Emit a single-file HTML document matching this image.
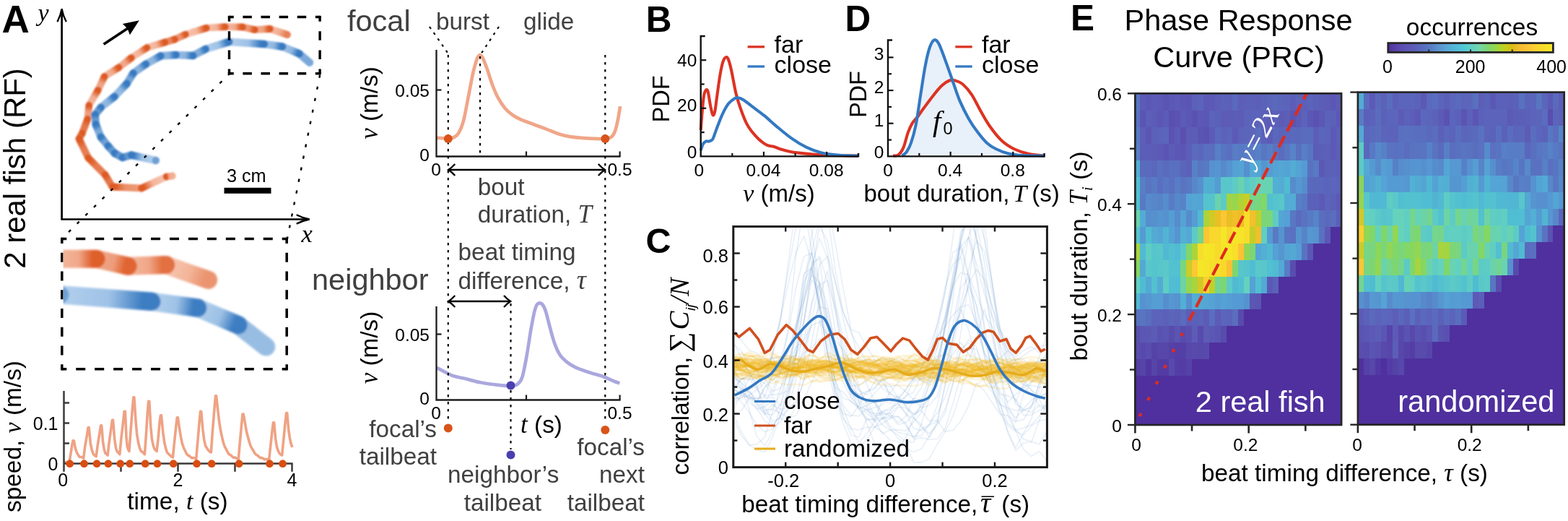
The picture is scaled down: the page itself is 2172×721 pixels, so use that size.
<!DOCTYPE html>
<html lang="en"><head><meta charset="utf-8"><title>Figure</title>
<style>
html,body{margin:0;padding:0;background:#fff;}
body{width:2172px;height:721px;overflow:hidden;}
svg{display:block;font-family:"Liberation Sans",sans-serif;}
</style></head><body>
<svg width="2172" height="721" viewBox="0 0 2172 721">
<defs>
<filter id="bl1" x="-5%" y="-5%" width="110%" height="110%"><feGaussianBlur stdDeviation="0.9"/></filter>
<filter id="bl2" x="-10%" y="-30%" width="120%" height="160%"><feGaussianBlur stdDeviation="1.6"/></filter>
</defs>
<rect width="2172" height="721" fill="#fff"/>
<g id="panelA">
<text x="2.5" y="45" font-size="53" font-weight="bold">A</text>
<text x="52.5" y="29" font-size="34" font-family='"Liberation Serif", serif' font-style="italic">y</text>
<text x="417.5" y="334.5" font-size="34.5" font-family='"Liberation Serif", serif' font-style="italic">x</text>
<text x="35" y="233" font-size="42" text-anchor="middle" transform="rotate(-90 35 233)">2 real fish (RF)</text>
<path d="M85.6,14 V303.5 H427" stroke="#000" stroke-width="2.7" fill="none"/>
<path d="M79.4,30.3 Q83.8,22 85.6,12.3 Q87.4,22 91.8,30.3" stroke="#000" stroke-width="2.3" fill="none" stroke-linejoin="miter"/>
<path d="M410.7,297.3 Q419,301.7 428.7,303.5 Q419,305.3 410.7,309.7" stroke="#000" stroke-width="2.3" fill="none" stroke-linejoin="miter"/>
<line x1="143.6" y1="61.2" x2="178" y2="38.5" stroke="#000" stroke-width="3.7"/>
<polygon points="192.8,28.3 169.9,33 176.5,39.6 179.9,48.3"/>
<rect x="310.5" y="259.8" width="65" height="8" fill="#000"/>
<text x="341.3" y="252" font-size="25.3" text-anchor="middle">3 cm</text>
<g filter="url(#bl1)">
<circle cx="238.5" cy="243.5" r="4.9" fill="#efa485"/>
<linearGradient id="g23" gradientUnits="userSpaceOnUse" x1="374" y1="40" x2="398" y2="48"><stop offset="0.1" stop-color="#f5bda5"/><stop offset="0.55" stop-color="#f2ae92"/><stop offset="0.9" stop-color="#e67f54"/><stop offset="1" stop-color="#e67f54"/></linearGradient><line x1="374" y1="40" x2="398" y2="48.01" stroke="url(#g23)" stroke-width="9.8" stroke-linecap="round"/><linearGradient id="g22" gradientUnits="userSpaceOnUse" x1="353" y1="41.2" x2="374" y2="40"><stop offset="0.1" stop-color="#f1ad90"/><stop offset="0.55" stop-color="#eea07f"/><stop offset="0.9" stop-color="#dd5a24"/><stop offset="1" stop-color="#dd5a24"/></linearGradient><line x1="353" y1="41.2" x2="374" y2="40.01" stroke="url(#g22)" stroke-width="9.8" stroke-linecap="round"/><linearGradient id="g21" gradientUnits="userSpaceOnUse" x1="336" y1="37.4" x2="353" y2="41.2"><stop offset="0.1" stop-color="#ee9e7d"/><stop offset="0.55" stop-color="#eb9470"/><stop offset="0.9" stop-color="#dd5a24"/><stop offset="1" stop-color="#dd5a24"/></linearGradient><line x1="336" y1="37.4" x2="353" y2="41.21" stroke="url(#g21)" stroke-width="9.8" stroke-linecap="round"/><linearGradient id="g20" gradientUnits="userSpaceOnUse" x1="312" y1="37.2" x2="336" y2="37.4"><stop offset="0.1" stop-color="#f4b89f"/><stop offset="0.55" stop-color="#f1aa8c"/><stop offset="0.9" stop-color="#dd5a24"/><stop offset="1" stop-color="#dd5a24"/></linearGradient><line x1="312" y1="37.2" x2="336" y2="37.41" stroke="url(#g20)" stroke-width="9.8" stroke-linecap="round"/><linearGradient id="g19" gradientUnits="userSpaceOnUse" x1="286" y1="38.7" x2="312" y2="37.2"><stop offset="0.1" stop-color="#f6c0a9"/><stop offset="0.55" stop-color="#f2b195"/><stop offset="0.9" stop-color="#dd5a24"/><stop offset="1" stop-color="#dd5a24"/></linearGradient><line x1="286" y1="38.7" x2="312" y2="37.21" stroke="url(#g19)" stroke-width="9.8" stroke-linecap="round"/><linearGradient id="g18" gradientUnits="userSpaceOnUse" x1="257" y1="47.6" x2="286" y2="38.7"><stop offset="0.1" stop-color="#f7c4ae"/><stop offset="0.55" stop-color="#f3b499"/><stop offset="0.9" stop-color="#dd5a24"/><stop offset="1" stop-color="#dd5a24"/></linearGradient><line x1="257" y1="47.6" x2="286" y2="38.71" stroke="url(#g18)" stroke-width="9.8" stroke-linecap="round"/><linearGradient id="g17" gradientUnits="userSpaceOnUse" x1="242" y1="54.5" x2="257" y2="47.6"><stop offset="0.1" stop-color="#ed9b78"/><stop offset="0.55" stop-color="#eb916c"/><stop offset="0.9" stop-color="#dd5a24"/><stop offset="1" stop-color="#dd5a24"/></linearGradient><line x1="242" y1="54.5" x2="257" y2="47.61" stroke="url(#g17)" stroke-width="9.8" stroke-linecap="round"/><linearGradient id="g16" gradientUnits="userSpaceOnUse" x1="228.6" y1="58.5" x2="242" y2="54.5"><stop offset="0.1" stop-color="#ea916b"/><stop offset="0.55" stop-color="#e88961"/><stop offset="0.9" stop-color="#dd5a24"/><stop offset="1" stop-color="#dd5a24"/></linearGradient><line x1="228.6" y1="58.5" x2="242" y2="54.51" stroke="url(#g16)" stroke-width="9.8" stroke-linecap="round"/><linearGradient id="g15" gradientUnits="userSpaceOnUse" x1="203.6" y1="66" x2="228.6" y2="58.5"><stop offset="0.1" stop-color="#f6c0a9"/><stop offset="0.55" stop-color="#f2b195"/><stop offset="0.9" stop-color="#dd5a24"/><stop offset="1" stop-color="#dd5a24"/></linearGradient><line x1="203.6" y1="66" x2="228.6" y2="58.51" stroke="url(#g15)" stroke-width="9.8" stroke-linecap="round"/><linearGradient id="g14" gradientUnits="userSpaceOnUse" x1="182" y1="80" x2="203.6" y2="66"><stop offset="0.1" stop-color="#f6bfa8"/><stop offset="0.55" stop-color="#f2b094"/><stop offset="0.9" stop-color="#dd5a24"/><stop offset="1" stop-color="#dd5a24"/></linearGradient><line x1="182" y1="80" x2="203.6" y2="66.01" stroke="url(#g14)" stroke-width="9.8" stroke-linecap="round"/><linearGradient id="g13" gradientUnits="userSpaceOnUse" x1="164.7" y1="93.3" x2="182" y2="80"><stop offset="0.1" stop-color="#f2b094"/><stop offset="0.55" stop-color="#efa383"/><stop offset="0.9" stop-color="#dd5a24"/><stop offset="1" stop-color="#dd5a24"/></linearGradient><line x1="164.7" y1="93.3" x2="182" y2="80.01" stroke="url(#g13)" stroke-width="9.8" stroke-linecap="round"/><linearGradient id="g12" gradientUnits="userSpaceOnUse" x1="144.7" y1="105.8" x2="164.7" y2="93.3"><stop offset="0.1" stop-color="#f4b79d"/><stop offset="0.55" stop-color="#f0a98a"/><stop offset="0.9" stop-color="#dd5a24"/><stop offset="1" stop-color="#dd5a24"/></linearGradient><line x1="144.7" y1="105.8" x2="164.7" y2="93.31" stroke="url(#g12)" stroke-width="9.8" stroke-linecap="round"/><linearGradient id="g11" gradientUnits="userSpaceOnUse" x1="135.7" y1="124.8" x2="144.7" y2="105.8"><stop offset="0.1" stop-color="#f1ad8f"/><stop offset="0.55" stop-color="#eea07f"/><stop offset="0.9" stop-color="#dd5a24"/><stop offset="1" stop-color="#dd5a24"/></linearGradient><line x1="135.7" y1="124.8" x2="144.7" y2="105.81" stroke="url(#g11)" stroke-width="9.8" stroke-linecap="round"/><linearGradient id="g10" gradientUnits="userSpaceOnUse" x1="123.3" y1="145.7" x2="135.7" y2="124.8"><stop offset="0.1" stop-color="#f4b9a0"/><stop offset="0.55" stop-color="#f1ab8e"/><stop offset="0.9" stop-color="#dd5a24"/><stop offset="1" stop-color="#dd5a24"/></linearGradient><line x1="123.3" y1="145.7" x2="135.7" y2="124.81" stroke="url(#g10)" stroke-width="9.8" stroke-linecap="round"/><linearGradient id="g9" gradientUnits="userSpaceOnUse" x1="121.3" y1="164.7" x2="123.3" y2="145.7"><stop offset="0.1" stop-color="#efa586"/><stop offset="0.55" stop-color="#ed9a77"/><stop offset="0.9" stop-color="#dd5a24"/><stop offset="1" stop-color="#dd5a24"/></linearGradient><line x1="121.3" y1="164.7" x2="123.3" y2="145.70999999999998" stroke="url(#g9)" stroke-width="9.8" stroke-linecap="round"/><linearGradient id="g8" gradientUnits="userSpaceOnUse" x1="113.8" y1="184.6" x2="121.3" y2="164.7"><stop offset="0.1" stop-color="#e57a4d"/><stop offset="0.55" stop-color="#e47547"/><stop offset="0.9" stop-color="#dd5a24"/><stop offset="1" stop-color="#dd5a24"/></linearGradient><line x1="113.8" y1="184.6" x2="121.3" y2="164.70999999999998" stroke="url(#g8)" stroke-width="9.8" stroke-linecap="round"/><linearGradient id="g7" gradientUnits="userSpaceOnUse" x1="109.5" y1="192" x2="113.8" y2="184.6"><stop offset="0.1" stop-color="#e26f40"/><stop offset="0.55" stop-color="#e16c3b"/><stop offset="0.9" stop-color="#dd5a24"/><stop offset="1" stop-color="#dd5a24"/></linearGradient><line x1="109.5" y1="192" x2="113.8" y2="184.60999999999999" stroke="url(#g7)" stroke-width="9.8" stroke-linecap="round"/><linearGradient id="g6" gradientUnits="userSpaceOnUse" x1="122.3" y1="218.6" x2="109.5" y2="192"><stop offset="0.1" stop-color="#e67f54"/><stop offset="0.55" stop-color="#e57a4d"/><stop offset="0.9" stop-color="#dd5a24"/><stop offset="1" stop-color="#dd5a24"/></linearGradient><line x1="122.3" y1="218.6" x2="109.5" y2="192.01" stroke="url(#g6)" stroke-width="9.8" stroke-linecap="round"/><linearGradient id="g5" gradientUnits="userSpaceOnUse" x1="145.7" y1="242" x2="122.3" y2="218.6"><stop offset="0.1" stop-color="#e67f54"/><stop offset="0.55" stop-color="#e57a4d"/><stop offset="0.9" stop-color="#dd5a24"/><stop offset="1" stop-color="#dd5a24"/></linearGradient><line x1="145.7" y1="242" x2="122.3" y2="218.60999999999999" stroke="url(#g5)" stroke-width="9.8" stroke-linecap="round"/><linearGradient id="g4" gradientUnits="userSpaceOnUse" x1="155.7" y1="258.5" x2="145.7" y2="242"><stop offset="0.1" stop-color="#e57a4d"/><stop offset="0.55" stop-color="#e47547"/><stop offset="0.9" stop-color="#dd5a24"/><stop offset="1" stop-color="#dd5a24"/></linearGradient><line x1="155.7" y1="258.5" x2="145.7" y2="242.01" stroke="url(#g4)" stroke-width="9.8" stroke-linecap="round"/><linearGradient id="g3" gradientUnits="userSpaceOnUse" x1="196" y1="260.5" x2="155.7" y2="258.5"><stop offset="0.1" stop-color="#ed9a77"/><stop offset="0.55" stop-color="#ea906a"/><stop offset="0.9" stop-color="#dd5a24"/><stop offset="1" stop-color="#dd5a24"/></linearGradient><line x1="196" y1="260.5" x2="155.7" y2="258.51" stroke="url(#g3)" stroke-width="9.8" stroke-linecap="round"/><linearGradient id="g2" gradientUnits="userSpaceOnUse" x1="230.5" y1="244.5" x2="196" y2="260.5"><stop offset="0.1" stop-color="#f7c4ae"/><stop offset="0.55" stop-color="#f3b499"/><stop offset="0.9" stop-color="#dd5a24"/><stop offset="1" stop-color="#dd5a24"/></linearGradient><line x1="230.5" y1="244.5" x2="196" y2="260.51" stroke="url(#g2)" stroke-width="9.8" stroke-linecap="round"/><linearGradient id="g1" gradientUnits="userSpaceOnUse" x1="238.5" y1="243.5" x2="230.5" y2="244.5"><stop offset="0.1" stop-color="#f2af92"/><stop offset="0.55" stop-color="#efa282"/><stop offset="0.9" stop-color="#dd5a24"/><stop offset="1" stop-color="#dd5a24"/></linearGradient><line x1="238.5" y1="243.5" x2="230.5" y2="244.51" stroke="url(#g1)" stroke-width="9.8" stroke-linecap="round"/>
<linearGradient id="g44" gradientUnits="userSpaceOnUse" x1="414.6" y1="74.4" x2="429" y2="86.6"><stop offset="0.1" stop-color="#83afdc"/><stop offset="0.55" stop-color="#7aa8d9"/><stop offset="0.9" stop-color="#7aa8d9"/><stop offset="1" stop-color="#7aa8d9"/></linearGradient><line x1="414.6" y1="74.4" x2="429" y2="86.61" stroke="url(#g44)" stroke-width="10.6" stroke-linecap="round"/><linearGradient id="g43" gradientUnits="userSpaceOnUse" x1="391" y1="64.4" x2="414.6" y2="74.4"><stop offset="0.1" stop-color="#9fc2e6"/><stop offset="0.55" stop-color="#8fb7e0"/><stop offset="0.9" stop-color="#387ac1"/><stop offset="1" stop-color="#387ac1"/></linearGradient><line x1="391" y1="64.4" x2="414.6" y2="74.41000000000001" stroke="url(#g43)" stroke-width="10.6" stroke-linecap="round"/><linearGradient id="g42" gradientUnits="userSpaceOnUse" x1="366" y1="61" x2="391" y2="64.4"><stop offset="0.1" stop-color="#9dc1e5"/><stop offset="0.55" stop-color="#8eb6e0"/><stop offset="0.9" stop-color="#387ac1"/><stop offset="1" stop-color="#387ac1"/></linearGradient><line x1="366" y1="61" x2="391" y2="64.41000000000001" stroke="url(#g42)" stroke-width="10.6" stroke-linecap="round"/><linearGradient id="g41" gradientUnits="userSpaceOnUse" x1="317.3" y1="57.9" x2="366" y2="61"><stop offset="0.1" stop-color="#b0ceec"/><stop offset="0.55" stop-color="#9ec1e6"/><stop offset="0.9" stop-color="#387ac1"/><stop offset="1" stop-color="#387ac1"/></linearGradient><line x1="317.3" y1="57.9" x2="366" y2="61.01" stroke="url(#g41)" stroke-width="10.6" stroke-linecap="round"/><linearGradient id="g40" gradientUnits="userSpaceOnUse" x1="284.9" y1="67.9" x2="317.3" y2="57.9"><stop offset="0.1" stop-color="#b0ceec"/><stop offset="0.55" stop-color="#9ec1e6"/><stop offset="0.9" stop-color="#387ac1"/><stop offset="1" stop-color="#387ac1"/></linearGradient><line x1="284.9" y1="67.9" x2="317.3" y2="57.91" stroke="url(#g40)" stroke-width="10.6" stroke-linecap="round"/><linearGradient id="g39" gradientUnits="userSpaceOnUse" x1="267.4" y1="77" x2="284.9" y2="67.9"><stop offset="0.1" stop-color="#87b1dd"/><stop offset="0.55" stop-color="#7ba9d9"/><stop offset="0.9" stop-color="#387ac1"/><stop offset="1" stop-color="#387ac1"/></linearGradient><line x1="267.4" y1="77" x2="284.9" y2="67.91000000000001" stroke="url(#g39)" stroke-width="10.6" stroke-linecap="round"/><linearGradient id="g38" gradientUnits="userSpaceOnUse" x1="243.7" y1="76" x2="267.4" y2="77"><stop offset="0.1" stop-color="#97bce3"/><stop offset="0.55" stop-color="#89b2de"/><stop offset="0.9" stop-color="#387ac1"/><stop offset="1" stop-color="#387ac1"/></linearGradient><line x1="243.7" y1="76" x2="267.4" y2="77.01" stroke="url(#g38)" stroke-width="10.6" stroke-linecap="round"/><linearGradient id="g37" gradientUnits="userSpaceOnUse" x1="222.5" y1="77.4" x2="243.7" y2="76"><stop offset="0.1" stop-color="#8db5df"/><stop offset="0.55" stop-color="#80addb"/><stop offset="0.9" stop-color="#387ac1"/><stop offset="1" stop-color="#387ac1"/></linearGradient><line x1="222.5" y1="77.4" x2="243.7" y2="76.01" stroke="url(#g37)" stroke-width="10.6" stroke-linecap="round"/><linearGradient id="g36" gradientUnits="userSpaceOnUse" x1="202" y1="88.8" x2="222.5" y2="77.4"><stop offset="0.1" stop-color="#96bce3"/><stop offset="0.55" stop-color="#88b2de"/><stop offset="0.9" stop-color="#387ac1"/><stop offset="1" stop-color="#387ac1"/></linearGradient><line x1="202" y1="88.8" x2="222.5" y2="77.41000000000001" stroke="url(#g36)" stroke-width="10.6" stroke-linecap="round"/><linearGradient id="g35" gradientUnits="userSpaceOnUse" x1="184.6" y1="101.3" x2="202" y2="88.8"><stop offset="0.1" stop-color="#8eb6e0"/><stop offset="0.55" stop-color="#81addb"/><stop offset="0.9" stop-color="#387ac1"/><stop offset="1" stop-color="#387ac1"/></linearGradient><line x1="184.6" y1="101.3" x2="202" y2="88.81" stroke="url(#g35)" stroke-width="10.6" stroke-linecap="round"/><linearGradient id="g34" gradientUnits="userSpaceOnUse" x1="175.6" y1="115.8" x2="184.6" y2="101.3"><stop offset="0.1" stop-color="#7caad9"/><stop offset="0.55" stop-color="#72a3d6"/><stop offset="0.9" stop-color="#387ac1"/><stop offset="1" stop-color="#387ac1"/></linearGradient><line x1="175.6" y1="115.8" x2="184.6" y2="101.31" stroke="url(#g34)" stroke-width="10.6" stroke-linecap="round"/><linearGradient id="g33" gradientUnits="userSpaceOnUse" x1="158.7" y1="133.7" x2="175.6" y2="115.8"><stop offset="0.1" stop-color="#9abfe4"/><stop offset="0.55" stop-color="#8cb5df"/><stop offset="0.9" stop-color="#387ac1"/><stop offset="1" stop-color="#387ac1"/></linearGradient><line x1="158.7" y1="133.7" x2="175.6" y2="115.81" stroke="url(#g33)" stroke-width="10.6" stroke-linecap="round"/><linearGradient id="g32" gradientUnits="userSpaceOnUse" x1="139.7" y1="148.7" x2="158.7" y2="133.7"><stop offset="0.1" stop-color="#99bee4"/><stop offset="0.55" stop-color="#8ab4de"/><stop offset="0.9" stop-color="#387ac1"/><stop offset="1" stop-color="#387ac1"/></linearGradient><line x1="139.7" y1="148.7" x2="158.7" y2="133.70999999999998" stroke="url(#g32)" stroke-width="10.6" stroke-linecap="round"/><linearGradient id="g31" gradientUnits="userSpaceOnUse" x1="131.7" y1="158.7" x2="139.7" y2="148.7"><stop offset="0.1" stop-color="#6b9ed3"/><stop offset="0.55" stop-color="#6498d1"/><stop offset="0.9" stop-color="#387ac1"/><stop offset="1" stop-color="#387ac1"/></linearGradient><line x1="131.7" y1="158.7" x2="139.7" y2="148.70999999999998" stroke="url(#g31)" stroke-width="10.6" stroke-linecap="round"/><linearGradient id="g30" gradientUnits="userSpaceOnUse" x1="132.7" y1="172" x2="131.7" y2="158.7"><stop offset="0.1" stop-color="#6d9fd4"/><stop offset="0.55" stop-color="#659ad1"/><stop offset="0.9" stop-color="#387ac1"/><stop offset="1" stop-color="#387ac1"/></linearGradient><line x1="132.7" y1="172" x2="131.7" y2="158.70999999999998" stroke="url(#g30)" stroke-width="10.6" stroke-linecap="round"/><linearGradient id="g29" gradientUnits="userSpaceOnUse" x1="139.7" y1="189.6" x2="132.7" y2="172"><stop offset="0.1" stop-color="#84afdc"/><stop offset="0.55" stop-color="#78a7d8"/><stop offset="0.9" stop-color="#387ac1"/><stop offset="1" stop-color="#387ac1"/></linearGradient><line x1="139.7" y1="189.6" x2="132.7" y2="172.01" stroke="url(#g29)" stroke-width="10.6" stroke-linecap="round"/><linearGradient id="g28" gradientUnits="userSpaceOnUse" x1="149.7" y1="202" x2="139.7" y2="189.6"><stop offset="0.1" stop-color="#78a7d8"/><stop offset="0.55" stop-color="#6ea0d4"/><stop offset="0.9" stop-color="#387ac1"/><stop offset="1" stop-color="#387ac1"/></linearGradient><line x1="149.7" y1="202" x2="139.7" y2="189.60999999999999" stroke="url(#g28)" stroke-width="10.6" stroke-linecap="round"/><linearGradient id="g27" gradientUnits="userSpaceOnUse" x1="158.7" y1="212" x2="149.7" y2="202"><stop offset="0.1" stop-color="#6ea0d4"/><stop offset="0.55" stop-color="#669ad1"/><stop offset="0.9" stop-color="#387ac1"/><stop offset="1" stop-color="#387ac1"/></linearGradient><line x1="158.7" y1="212" x2="149.7" y2="202.01" stroke="url(#g27)" stroke-width="10.6" stroke-linecap="round"/><linearGradient id="g26" gradientUnits="userSpaceOnUse" x1="169.7" y1="218" x2="158.7" y2="212"><stop offset="0.1" stop-color="#6a9dd3"/><stop offset="0.55" stop-color="#6398d0"/><stop offset="0.9" stop-color="#387ac1"/><stop offset="1" stop-color="#387ac1"/></linearGradient><line x1="169.7" y1="218" x2="158.7" y2="212.01" stroke="url(#g26)" stroke-width="10.6" stroke-linecap="round"/><linearGradient id="g25" gradientUnits="userSpaceOnUse" x1="182" y1="214.6" x2="169.7" y2="218"><stop offset="0.1" stop-color="#6b9ed3"/><stop offset="0.55" stop-color="#6398d1"/><stop offset="0.9" stop-color="#387ac1"/><stop offset="1" stop-color="#387ac1"/></linearGradient><line x1="182" y1="214.6" x2="169.7" y2="218.01" stroke="url(#g25)" stroke-width="10.6" stroke-linecap="round"/><linearGradient id="g24" gradientUnits="userSpaceOnUse" x1="215.6" y1="222" x2="182" y2="214.6"><stop offset="0.1" stop-color="#b0ceec"/><stop offset="0.55" stop-color="#9ec1e6"/><stop offset="0.9" stop-color="#387ac1"/><stop offset="1" stop-color="#387ac1"/></linearGradient><line x1="215.6" y1="222" x2="182" y2="214.60999999999999" stroke="url(#g24)" stroke-width="10.6" stroke-linecap="round"/>
<circle cx="215.8" cy="222" r="5.2" fill="#6ea0d4"/>
</g>
<line x1="317" y1="103" x2="86" y2="330" stroke="#000" stroke-width="2.4" stroke-dasharray="4.2,12.1" stroke-dashoffset="-13.5"/>
<line x1="443.3" y1="103" x2="398" y2="330" stroke="#000" stroke-width="2.4" stroke-dasharray="4.2,12.1" stroke-dashoffset="-17"/>
<line x1="317.5" y1="23.5" x2="443.1" y2="23.5" stroke="#000" stroke-width="3.4" stroke-dasharray="12.5,12.620" stroke-dashoffset="6.25"/><line x1="317.5" y1="101.7" x2="443.1" y2="101.7" stroke="#000" stroke-width="3.4" stroke-dasharray="12.5,12.620" stroke-dashoffset="6.25"/><line x1="317.5" y1="23.5" x2="317.5" y2="101.7" stroke="#000" stroke-width="3.4" stroke-dasharray="12.5,13.567" stroke-dashoffset="6.25"/><line x1="443.1" y1="23.5" x2="443.1" y2="101.7" stroke="#000" stroke-width="3.4" stroke-dasharray="12.5,13.567" stroke-dashoffset="6.25"/><rect x="315.8" y="21.8" width="3.4" height="3.4" fill="#000"/><rect x="441.40000000000003" y="21.8" width="3.4" height="3.4" fill="#000"/><rect x="315.8" y="100.0" width="3.4" height="3.4" fill="#000"/><rect x="441.40000000000003" y="100.0" width="3.4" height="3.4" fill="#000"/>
<line x1="85.8" y1="330.5" x2="397.2" y2="330.5" stroke="#000" stroke-width="3.5" stroke-dasharray="13,12.950" stroke-dashoffset="6.5"/><line x1="85.8" y1="510.7" x2="397.2" y2="510.7" stroke="#000" stroke-width="3.5" stroke-dasharray="13,12.950" stroke-dashoffset="6.5"/><line x1="85.8" y1="330.5" x2="85.8" y2="510.7" stroke="#000" stroke-width="3.5" stroke-dasharray="13,12.743" stroke-dashoffset="6.5"/><line x1="397.2" y1="330.5" x2="397.2" y2="510.7" stroke="#000" stroke-width="3.5" stroke-dasharray="13,12.743" stroke-dashoffset="6.5"/><rect x="84.05" y="328.75" width="3.5" height="3.5" fill="#000"/><rect x="395.45" y="328.75" width="3.5" height="3.5" fill="#000"/><rect x="84.05" y="508.95" width="3.5" height="3.5" fill="#000"/><rect x="395.45" y="508.95" width="3.5" height="3.5" fill="#000"/>
<clipPath id="cZ"><rect x="87.6" y="332" width="320" height="177"/></clipPath>
<g clip-path="url(#cZ)"><g filter="url(#bl2)">
<linearGradient id="g48" gradientUnits="userSpaceOnUse" x1="229.8" y1="366.6" x2="288.7" y2="387.4"><stop offset="0.1" stop-color="#f7c4ae"/><stop offset="0.55" stop-color="#f3b499"/><stop offset="0.9" stop-color="#eb9470"/><stop offset="1" stop-color="#eb9470"/></linearGradient><line x1="229.8" y1="366.6" x2="288.7" y2="387.40999999999997" stroke="url(#g48)" stroke-width="25" stroke-linecap="round"/><linearGradient id="g47" gradientUnits="userSpaceOnUse" x1="177.3" y1="368.3" x2="229.8" y2="366.6"><stop offset="0.1" stop-color="#f3b499"/><stop offset="0.55" stop-color="#f0a687"/><stop offset="0.9" stop-color="#e26f40"/><stop offset="1" stop-color="#e26f40"/></linearGradient><line x1="177.3" y1="368.3" x2="229.8" y2="366.61" stroke="url(#g47)" stroke-width="25" stroke-linecap="round"/><linearGradient id="g46" gradientUnits="userSpaceOnUse" x1="133.2" y1="358.3" x2="177.3" y2="368.3"><stop offset="0.1" stop-color="#f0a789"/><stop offset="0.55" stop-color="#ed9c7a"/><stop offset="0.9" stop-color="#e06532"/><stop offset="1" stop-color="#e06532"/></linearGradient><line x1="133.2" y1="358.3" x2="177.3" y2="368.31" stroke="url(#g46)" stroke-width="25" stroke-linecap="round"/><linearGradient id="g45" gradientUnits="userSpaceOnUse" x1="80" y1="358.3" x2="133.2" y2="358.3"><stop offset="0.1" stop-color="#f3b59a"/><stop offset="0.55" stop-color="#f0a789"/><stop offset="0.9" stop-color="#de5f2b"/><stop offset="1" stop-color="#de5f2b"/></linearGradient><line x1="80" y1="358.3" x2="133.2" y2="358.31" stroke="url(#g45)" stroke-width="25" stroke-linecap="round"/>
<linearGradient id="g52" gradientUnits="userSpaceOnUse" x1="329.9" y1="449.8" x2="368.5" y2="479.8"><stop offset="0.1" stop-color="#97bce3"/><stop offset="0.55" stop-color="#98bde3"/><stop offset="0.9" stop-color="#98bde3"/><stop offset="1" stop-color="#98bde3"/></linearGradient><line x1="329.9" y1="449.8" x2="368.5" y2="479.81" stroke="url(#g52)" stroke-width="25.5" stroke-linecap="round"/><linearGradient id="g51" gradientUnits="userSpaceOnUse" x1="273.7" y1="426.1" x2="329.9" y2="449.8"><stop offset="0.1" stop-color="#aecdeb"/><stop offset="0.55" stop-color="#9cc0e5"/><stop offset="0.9" stop-color="#3e7ec3"/><stop offset="1" stop-color="#3e7ec3"/></linearGradient><line x1="273.7" y1="426.1" x2="329.9" y2="449.81" stroke="url(#g51)" stroke-width="25.5" stroke-linecap="round"/><linearGradient id="g50" gradientUnits="userSpaceOnUse" x1="209.8" y1="417.3" x2="273.7" y2="426.1"><stop offset="0.1" stop-color="#b0ceec"/><stop offset="0.55" stop-color="#9ec1e6"/><stop offset="0.9" stop-color="#3e7ec3"/><stop offset="1" stop-color="#3e7ec3"/></linearGradient><line x1="209.8" y1="417.3" x2="273.7" y2="426.11" stroke="url(#g50)" stroke-width="25.5" stroke-linecap="round"/><linearGradient id="g49" gradientUnits="userSpaceOnUse" x1="80" y1="407.6" x2="209.8" y2="417.3"><stop offset="0.1" stop-color="#b0ceec"/><stop offset="0.55" stop-color="#9ec1e6"/><stop offset="0.9" stop-color="#3e7ec3"/><stop offset="1" stop-color="#3e7ec3"/></linearGradient><line x1="80" y1="407.6" x2="209.8" y2="417.31" stroke="url(#g49)" stroke-width="25.5" stroke-linecap="round"/>
<circle cx="84" cy="408" r="11.5" fill="#6ea0d4"/>
</g></g>
<polyline points="88.6,639.3 93.4,640.1 95.9,639.8 97.8,629.1 99.8,615.9 101.2,609.7 102.3,609.7 104.4,620.6 106.3,626.1 108.2,629.4 110.0,632.2 111.9,632.5 113.8,632.5 115.7,634.3 117.6,619.1 120.7,600.6 122.1,591.6 123.2,591.6 125.4,614.0 127.4,623.2 129.3,628.3 131.3,630.4 133.2,631.5 135.2,616.4 138.2,597.8 139.6,588.8 140.7,588.8 142.6,611.6 144.3,621.9 145.9,627.2 147.5,628.3 149.1,630.1 151.1,612.8 154.1,591.6 155.5,581.3 156.6,581.3 158.7,607.5 160.5,619.9 162.3,625.2 164.0,626.3 165.8,628.7 167.8,607.7 170.8,582.0 172.2,569.3 173.4,569.3 175.0,604.8 176.3,618.3 177.6,621.9 178.9,624.5 180.9,598.2 183.4,565.8 184.8,549.8 185.9,549.8 188.0,582.0 189.7,601.4 191.5,612.0 193.3,619.3 195.1,623.9 196.8,625.2 198.6,626.7 200.4,628.7 202.3,602.8 204.3,571.1 205.7,555.4 206.8,555.4 208.8,590.4 210.4,607.3 212.1,615.7 213.8,621.0 215.4,622.8 217.1,624.5 219.1,607.0 221.0,585.4 222.4,574.9 223.5,574.9 225.8,598.4 227.7,612.0 229.7,620.9 231.6,626.3 233.6,628.2 235.5,630.1 237.5,632.1 239.4,632.9 241.4,613.4 243.9,589.4 245.3,577.7 246.4,577.7 248.6,593.2 250.5,604.8 252.4,613.9 254.4,619.7 256.3,623.5 258.2,627.6 260.2,630.0 262.1,630.7 264.0,632.5 266.0,634.0 267.9,633.6 269.8,634.1 271.7,635.7 273.7,612.3 276.2,583.5 277.6,569.3 278.7,569.3 280.9,594.2 282.8,608.8 284.7,617.0 286.6,620.2 288.5,622.9 290.5,625.1 292.4,625.9 294.3,598.4 297.1,564.6 298.5,547.9 299.6,547.9 301.8,567.7 303.7,583.9 305.6,595.7 307.5,604.6 309.4,612.6 311.3,618.1 313.2,621.4 315.1,625.3 317.0,628.4 318.9,629.3 320.8,630.9 322.7,633.0 324.6,633.1 326.5,633.3 328.4,634.9 330.3,635.7 332.2,613.5 334.7,586.3 336.1,573.0 337.2,573.0 339.5,585.9 341.4,596.8 343.4,604.7 345.3,611.6 347.3,617.5 349.2,621.0 351.2,624.1 353.1,627.7 355.1,629.4 357.0,630.3 359.0,632.5 360.9,633.7 362.9,633.5 364.8,634.7 366.8,635.9 368.7,635.3 370.7,635.5 372.6,637.1 374.6,618.5 377.1,595.8 378.5,584.7 379.6,584.7 381.7,607.5 383.5,618.6 385.3,623.8 387.1,627.6 388.9,628.9 390.7,630.1 392.7,609.4 395.2,584.0 396.6,571.6 397.7,571.6 399.7,594.7 401.5,606.9 403.2,614.4 405.0,619.0" stroke="#efa284" stroke-width="3.6" fill="none" stroke-linejoin="round"/>
<path d="M88.5,541 V652.8 M87.5,641.5 H405.6" stroke="#3a3a3a" stroke-width="2.5" fill="none"/>
<line x1="167.5" y1="641.5" x2="167.5" y2="652.8" stroke="#3a3a3a" stroke-width="2.5"/>
<line x1="246.5" y1="641.5" x2="246.5" y2="652.8" stroke="#3a3a3a" stroke-width="2.5"/>
<line x1="325.5" y1="641.5" x2="325.5" y2="652.8" stroke="#3a3a3a" stroke-width="2.5"/>
<line x1="404.5" y1="641.5" x2="404.5" y2="652.8" stroke="#3a3a3a" stroke-width="2.5"/>
<line x1="88.5" y1="613.5" x2="96.0" y2="613.5" stroke="#3a3a3a" stroke-width="2.5"/>
<line x1="88.5" y1="585.5" x2="96.0" y2="585.5" stroke="#3a3a3a" stroke-width="2.5"/>
<line x1="88.5" y1="557.5" x2="96.0" y2="557.5" stroke="#3a3a3a" stroke-width="2.5"/>
<circle cx="96.7" cy="641.7" r="5.4" fill="#d94e12"/>
<circle cx="116.5" cy="641.7" r="5.4" fill="#d94e12"/>
<circle cx="134.1" cy="641.7" r="5.4" fill="#d94e12"/>
<circle cx="149.9" cy="641.7" r="5.4" fill="#d94e12"/>
<circle cx="166.7" cy="641.7" r="5.4" fill="#d94e12"/>
<circle cx="179.8" cy="641.7" r="5.4" fill="#d94e12"/>
<circle cx="201.2" cy="641.7" r="5.4" fill="#d94e12"/>
<circle cx="217.9" cy="641.7" r="5.4" fill="#d94e12"/>
<circle cx="240.2" cy="641.7" r="5.4" fill="#d94e12"/>
<circle cx="272.6" cy="641.7" r="5.4" fill="#d94e12"/>
<circle cx="293.2" cy="641.7" r="5.4" fill="#d94e12"/>
<circle cx="331.1" cy="641.7" r="5.4" fill="#d94e12"/>
<circle cx="373.5" cy="641.7" r="5.4" fill="#d94e12"/>
<circle cx="391.6" cy="641.7" r="5.4" fill="#d94e12"/>
<text x="87.3" y="672.5" font-size="25" text-anchor="middle">0</text>
<text x="246.5" y="672.5" font-size="25" text-anchor="middle">2</text>
<text x="404.5" y="672.5" font-size="25" text-anchor="middle">4</text>
<text x="80.5" y="594.5" font-size="25" text-anchor="end">0.1</text>
<text x="80.5" y="650.5" font-size="25" text-anchor="end">0</text>
<text x="246" y="705.3" font-size="33.4" text-anchor="middle">time, <tspan font-family='"Liberation Serif", serif' font-style="italic" font-size="34">t</tspan> (s)</text>
<text x="29" y="604" font-size="33.4" text-anchor="middle" transform="rotate(-90 29 604)">speed, <tspan font-family='"Liberation Serif", serif' font-style="italic" font-size="34">v</tspan> (m/s)</text>
</g>
<g id="panelF">
<text x="481" y="43" font-size="41.5" fill="#404040">focal</text>
<text x="604" y="40.5" font-size="33.3" fill="#404040">burst</text>
<text x="725" y="40.5" font-size="33.3" fill="#404040">glide</text>
<text x="661.7" y="270" font-size="33.3" fill="#404040">bout</text>
<text x="661.7" y="308" font-size="33.3" fill="#404040">duration, <tspan font-family='"Liberation Serif", serif' font-style="italic" font-size="35">T</tspan></text>
<text x="634.6" y="360" font-size="33.3" fill="#404040">beat timing</text>
<text x="634.6" y="400.3" font-size="33.3" fill="#404040">difference, <tspan font-family='"Liberation Serif", serif' font-style="italic" font-size="37">τ</tspan></text>
<text x="432" y="401.2" font-size="41.5" fill="#404040">neighbor</text>
<text x="605" y="605" font-size="33.3" text-anchor="end" fill="#404040">focal’s</text>
<text x="605" y="643" font-size="33.3" text-anchor="end" fill="#404040">tailbeat</text>
<text x="620" y="668" font-size="33.3" fill="#404040">neighbor’s</text>
<text x="750" y="707" font-size="33.3" text-anchor="end" fill="#404040">tailbeat</text>
<text x="893" y="630" font-size="33.3" text-anchor="end" fill="#404040">focal’s</text>
<text x="893" y="668" font-size="33.3" text-anchor="end" fill="#404040">next</text>
<text x="893" y="707" font-size="33.3" text-anchor="end" fill="#404040">tailbeat</text>
<text x="750" y="599" font-size="33.3" text-anchor="middle"><tspan font-family='"Liberation Serif", serif' font-style="italic" font-size="35">t</tspan> (s)</text>
<text x="522.5" y="142.5" font-size="33.3" text-anchor="middle" transform="rotate(-90 522.5 142.5)"><tspan font-family='"Liberation Serif", serif' font-style="italic" font-size="35">v</tspan> (m/s)</text>
<text x="522.5" y="481" font-size="33.3" text-anchor="middle" transform="rotate(-90 522.5 481)"><tspan font-family='"Liberation Serif", serif' font-style="italic" font-size="35">v</tspan> (m/s)</text>
<text x="595" y="133.5" font-size="24.5" text-anchor="end">0.05</text>
<text x="595" y="223" font-size="24.5" text-anchor="end">0</text>
<text x="595" y="471.5" font-size="24.5" text-anchor="end">0.05</text>
<text x="595" y="560" font-size="24.5" text-anchor="end">0</text>
<text x="604" y="243" font-size="24.5" text-anchor="middle">0</text>
<text x="858.5" y="243" font-size="24.5" text-anchor="middle">0.5</text>
<text x="604" y="580" font-size="24.5" text-anchor="middle">0</text>
<text x="858.5" y="580" font-size="24.5" text-anchor="middle">0.5</text>
<path d="M604.2,190.6C606.9,190.8 616.4,191.8 620.6,191.6C624.9,191.5 627.1,191.0 629.6,189.6C632.1,188.3 633.5,187.4 635.6,183.6C637.7,179.9 639.7,176.1 642.1,167.2C644.4,158.2 647.3,141.0 649.6,129.7C651.8,118.5 653.7,107.7 655.5,99.8C657.4,91.9 659.0,86.2 660.5,82.3C662.0,78.4 663.2,76.8 664.5,76.3C665.9,75.9 666.9,76.8 668.5,79.8C670.2,82.9 672.3,88.6 674.5,94.8C676.8,101.0 679.5,110.6 682.0,117.3C684.5,123.9 686.6,129.3 689.5,134.7C692.4,140.1 696.1,145.7 699.5,149.7C702.8,153.7 705.7,156.0 709.4,158.7C713.2,161.3 716.9,163.4 721.9,165.7C726.9,167.9 733.1,169.8 739.4,172.2C745.6,174.5 753.5,177.4 759.3,179.6C765.2,181.9 769.3,184.0 774.3,185.6C779.3,187.2 783.5,188.2 789.3,189.1C795.1,190.0 801.2,190.6 809.2,191.1C817.3,191.6 831.4,192.4 837.7,192.1C843.9,191.9 844.3,191.3 846.7,189.6C849.0,188.0 850.2,185.9 851.7,182.1C853.2,178.4 854.4,173.0 855.6,167.2C856.9,161.3 858.6,150.5 859.1,147.2" stroke="#f0a688" stroke-width="4.7" fill="none" stroke-linejoin="round"/>
<path d="M604.8,508.8C606.6,509.7 611.5,512.4 615.4,514.3C619.2,516.2 622.9,518.7 627.9,520.3C632.9,522.0 639.2,522.8 645.4,524.3C651.7,525.8 658.0,527.9 665.5,529.3C673.0,530.8 683.4,532.1 690.5,532.8C697.6,533.6 703.7,534.0 708.1,533.8C712.4,533.7 714.1,533.7 716.6,531.8C719.1,530.0 721.0,528.9 723.1,522.8C725.2,516.7 727.0,506.5 729.1,495.3C731.2,484.0 733.7,466.0 735.6,455.2C737.5,444.3 739.1,435.9 740.6,430.1C742.1,424.4 743.0,422.2 744.6,420.6C746.3,419.0 748.8,419.0 750.6,420.6C752.5,422.2 753.8,424.8 755.7,430.1C757.5,435.5 759.6,445.2 761.7,452.7C763.8,460.2 765.8,468.8 768.2,475.2C770.5,481.7 772.8,486.9 775.7,491.3C778.6,495.6 782.0,498.4 785.7,501.3C789.5,504.2 793.2,506.5 798.2,508.8C803.2,511.1 809.5,513.2 815.8,515.3C822.0,517.4 830.0,519.2 835.8,521.3C841.7,523.4 847.1,526.3 850.8,527.8C854.6,529.3 857.1,529.9 858.4,530.3" stroke="#aaa7de" stroke-width="4.7" fill="none" stroke-linejoin="round"/>
<path d="M604.5,69 V216.5 H859.5" stroke="#1c1c1c" stroke-width="2.3" fill="none"/>
<path d="M604.5,424 V553.5 H859.5" stroke="#1c1c1c" stroke-width="2.3" fill="none"/>
<line x1="729" y1="216.5" x2="729" y2="209.5" stroke="#1c1c1c" stroke-width="2.2"/>
<line x1="858.6" y1="216.5" x2="858.6" y2="209.5" stroke="#1c1c1c" stroke-width="2.2"/>
<line x1="729" y1="553.5" x2="729" y2="546.5" stroke="#1c1c1c" stroke-width="2.2"/>
<line x1="858.6" y1="553.5" x2="858.6" y2="546.5" stroke="#1c1c1c" stroke-width="2.2"/>
<line x1="604.5" y1="124.5" x2="611.5" y2="124.5" stroke="#1c1c1c" stroke-width="2.2"/>
<line x1="604.5" y1="462.5" x2="611.5" y2="462.5" stroke="#1c1c1c" stroke-width="2.2"/>
<line x1="620.8" y1="76" x2="620.8" y2="584" stroke="#000" stroke-width="2.15" stroke-dasharray="3.4,6.6"/>
<line x1="838.3" y1="76" x2="838.3" y2="584" stroke="#000" stroke-width="2.15" stroke-dasharray="3.4,6.6"/>
<line x1="665" y1="78" x2="665" y2="216" stroke="#000" stroke-width="2.15" stroke-dasharray="3.4,6.6"/>
<line x1="707.5" y1="420" x2="707.5" y2="622" stroke="#000" stroke-width="2.15" stroke-dasharray="3.4,6.6"/>
<line x1="595" y1="37" x2="620" y2="73" stroke="#000" stroke-width="2.15" stroke-dasharray="3.4,6.6"/>
<line x1="691" y1="37" x2="666" y2="75" stroke="#000" stroke-width="2.15" stroke-dasharray="3.4,6.6"/>
<line x1="621.8" y1="235" x2="837.3" y2="235" stroke="#000" stroke-width="2.3"/><path d="M630.3,227 Q625.8,232 621.0999999999999,235 Q625.8,238 630.3,243" stroke="#000" stroke-width="2.3" fill="none"/><path d="M828.8,227 Q833.3,232 838.0,235 Q833.3,238 828.8,243" stroke="#000" stroke-width="2.3" fill="none"/>
<line x1="621.8" y1="417" x2="706.5" y2="417" stroke="#000" stroke-width="2.3"/><path d="M630.3,409 Q625.8,414 621.0999999999999,417 Q625.8,420 630.3,425" stroke="#000" stroke-width="2.3" fill="none"/><path d="M698.0,409 Q702.5,414 707.2,417 Q702.5,420 698.0,425" stroke="#000" stroke-width="2.3" fill="none"/>
<circle cx="620.8" cy="192" r="6" fill="#d9531a"/>
<circle cx="838.3" cy="192" r="6" fill="#d9531a"/>
<circle cx="620.8" cy="592.5" r="6" fill="#d9531a"/>
<circle cx="838.3" cy="595" r="6" fill="#d9531a"/>
<circle cx="707.5" cy="533.5" r="6" fill="#4a3fae"/>
<circle cx="707.5" cy="629.5" r="6" fill="#4a3fae"/>
</g>
<g id="panelBD">
<text x="894.7" y="43.8" font-size="49.5" font-weight="bold">B</text>
<text x="1170.6" y="43" font-size="49.5" font-weight="bold">D</text>
<path d="M970.7,179.8C971.0,176.2 971.7,165.9 972.4,158.1C973.1,150.4 974.0,138.7 974.9,133.2C975.8,127.6 976.8,125.9 977.8,124.8C978.8,123.8 979.7,123.5 980.7,126.9C981.7,130.4 982.9,140.3 984.0,145.7C985.1,151.0 986.3,157.6 987.4,159.0C988.4,160.4 989.3,158.3 990.3,154.0C991.2,149.7 992.0,141.5 993.2,133.2C994.4,124.8 996.0,112.0 997.4,104.0C998.7,96.1 1000.1,89.5 1001.5,85.3C1002.9,81.1 1004.4,79.6 1005.7,79.1C1006.9,78.6 1007.8,79.3 1009.0,82.4C1010.3,85.5 1011.4,90.0 1013.2,97.8C1014.9,105.6 1017.3,120.3 1019.4,129.0C1021.5,137.7 1023.2,142.9 1025.7,149.8C1028.1,156.7 1031.2,165.1 1034.0,170.6C1036.7,176.2 1039.5,179.5 1042.3,183.1C1045.1,186.7 1047.8,189.6 1050.6,192.3C1053.4,194.9 1056.5,197.3 1058.9,198.9C1061.4,200.5 1063.1,201.2 1065.2,201.8C1067.3,202.5 1069.0,202.0 1071.4,202.7C1073.9,203.4 1075.6,204.7 1079.8,206.0C1083.9,207.2 1089.5,209.0 1096.4,210.2C1103.3,211.3 1113.0,212.3 1121.4,213.1C1129.7,213.8 1135.1,214.3 1146.3,214.7C1157.6,215.1 1181.7,215.4 1188.8,215.6" stroke="#dc3323" stroke-width="4.1" fill="none" stroke-linejoin="round"/>
<path d="M970.7,208.1C971.2,206.7 972.5,201.8 973.6,199.8C974.8,197.7 976.4,196.3 977.8,195.6C979.2,194.9 980.4,196.1 982.0,195.6C983.6,195.0 985.6,195.0 987.4,192.3C989.1,189.5 990.1,184.6 992.4,178.9C994.6,173.3 997.9,164.0 1000.7,158.1C1003.5,152.2 1006.2,147.2 1009.0,143.6C1011.8,140.0 1015.1,137.9 1017.3,136.5C1019.5,135.1 1020.2,135.0 1022.3,135.2C1024.4,135.5 1026.5,136.1 1029.8,138.2C1033.1,140.2 1037.4,144.1 1042.3,147.7C1047.2,151.4 1053.4,155.7 1058.9,160.2C1064.5,164.7 1069.3,169.6 1075.6,174.8C1081.8,180.0 1089.5,186.6 1096.4,191.4C1103.3,196.3 1110.3,200.6 1117.2,203.9C1124.1,207.2 1130.4,209.6 1138.0,211.4C1145.6,213.2 1154.5,214.0 1163.0,214.7C1171.4,215.4 1184.5,215.4 1188.8,215.6" stroke="#3479c2" stroke-width="4.1" fill="none" stroke-linejoin="round"/>
<path d="M976.7,50 H970.7 V216.4 H1189 V211.9" stroke="#111" stroke-width="2.4" fill="none"/>
<line x1="970.7" y1="183.10000000000002" x2="975.7" y2="183.10000000000002" stroke="#111" stroke-width="2.2"/>
<line x1="970.7" y1="149.8" x2="978.2" y2="149.8" stroke="#111" stroke-width="2.2"/>
<line x1="970.7" y1="116.5" x2="975.7" y2="116.5" stroke="#111" stroke-width="2.2"/>
<line x1="970.7" y1="83.20000000000002" x2="978.2" y2="83.20000000000002" stroke="#111" stroke-width="2.2"/>
<line x1="1014.32" y1="216.4" x2="1014.32" y2="211.9" stroke="#111" stroke-width="2.2"/>
<line x1="1057.94" y1="216.4" x2="1057.94" y2="209.9" stroke="#111" stroke-width="2.2"/>
<line x1="1101.56" y1="216.4" x2="1101.56" y2="211.9" stroke="#111" stroke-width="2.2"/>
<line x1="1145.18" y1="216.4" x2="1145.18" y2="209.9" stroke="#111" stroke-width="2.2"/>
<text x="965.3" y="218.8" font-size="24.5" text-anchor="end">0</text>
<text x="965.3" y="154.20000000000002" font-size="24.5" text-anchor="end">20</text>
<text x="965.3" y="91.80000000000001" font-size="24.5" text-anchor="end">40</text>
<text x="968.2" y="243.5" font-size="24.5" text-anchor="middle">0</text>
<text x="1057.44" y="243.5" font-size="24.5" text-anchor="middle">0.04</text>
<text x="1144.68" y="243.5" font-size="24.5" text-anchor="middle">0.08</text>
<text x="927.4" y="137" font-size="32.5" text-anchor="middle" transform="rotate(-90 927.4 137)">PDF</text>
<text x="1079" y="279" font-size="33" text-anchor="middle"><tspan font-family='"Liberation Serif", serif' font-style="italic" font-size="34">v</tspan> (m/s)</text>
<line x1="1035.6" y1="64.8" x2="1059" y2="64.8" stroke="#dc3323" stroke-width="3.3"/>
<line x1="1035.6" y1="92" x2="1059" y2="92" stroke="#3479c2" stroke-width="3.3"/>
<text x="1072.6" y="72.8" font-size="34">far</text>
<text x="1072.6" y="100.8" font-size="34">close</text>
<path d="M1249.5,215.6C1250.6,214.7 1253.7,213.1 1255.8,210.2C1257.9,207.2 1259.9,203.9 1262.0,197.7C1264.2,191.4 1266.5,183.5 1268.7,172.7C1270.8,162.0 1272.8,146.7 1274.9,133.2C1277.1,119.6 1279.4,102.8 1281.6,91.6C1283.7,80.3 1285.7,71.8 1287.8,65.8C1289.9,59.7 1292.0,56.2 1294.1,55.3C1296.1,54.4 1297.9,56.0 1300.3,60.3C1302.7,64.6 1305.5,72.8 1308.6,81.1C1311.8,89.5 1315.6,100.6 1319.0,110.3C1322.5,120.0 1325.6,130.4 1329.4,139.4C1333.3,148.4 1337.8,157.1 1341.9,164.4C1346.1,171.7 1350.2,177.6 1354.4,183.1C1358.6,188.7 1362.7,193.9 1366.9,197.7C1371.1,201.5 1374.5,203.6 1379.4,206.0C1384.2,208.4 1389.8,210.7 1396.0,212.2C1402.3,213.8 1408.4,214.6 1416.8,215.1C1425.3,215.7 1441.8,215.5 1446.8,215.6 L1446.8,216.4 L1246.2,216.4 Z" fill="#e8f0f9"/>
<path d="M1237.1,215.6C1238.3,215.4 1242.1,216.3 1244.5,214.3C1247.0,212.4 1249.4,209.1 1251.6,203.9C1253.8,198.7 1255.8,188.7 1257.9,183.1C1259.9,177.6 1261.5,174.2 1263.7,170.6C1265.9,167.0 1268.5,164.9 1271.2,161.5C1273.8,158.0 1276.0,154.5 1279.5,149.8C1283.0,145.1 1287.8,138.4 1292.0,133.2C1296.1,128.0 1300.7,122.2 1304.5,118.6C1308.3,115.0 1311.8,112.7 1314.9,111.5C1318.0,110.3 1320.1,110.7 1323.2,111.5C1326.3,112.4 1329.8,113.3 1333.6,116.5C1337.4,119.8 1341.9,124.8 1346.1,131.1C1350.2,137.3 1354.4,146.7 1358.6,154.0C1362.7,161.3 1366.2,168.0 1371.1,174.8C1375.9,181.6 1382.2,189.6 1387.7,194.8C1393.2,200.0 1398.1,202.9 1404.3,206.0C1410.6,209.0 1418.1,211.5 1425.2,213.1C1432.2,214.7 1443.2,215.1 1446.8,215.6" stroke="#dc3323" stroke-width="4.1" fill="none" stroke-linejoin="round"/>
<path d="M1249.5,215.6C1250.6,214.7 1253.7,213.1 1255.8,210.2C1257.9,207.2 1259.9,203.9 1262.0,197.7C1264.2,191.4 1266.5,183.5 1268.7,172.7C1270.8,162.0 1272.8,146.7 1274.9,133.2C1277.1,119.6 1279.4,102.8 1281.6,91.6C1283.7,80.3 1285.7,71.8 1287.8,65.8C1289.9,59.7 1292.0,56.2 1294.1,55.3C1296.1,54.4 1297.9,56.0 1300.3,60.3C1302.7,64.6 1305.5,72.8 1308.6,81.1C1311.8,89.5 1315.6,100.6 1319.0,110.3C1322.5,120.0 1325.6,130.4 1329.4,139.4C1333.3,148.4 1337.8,157.1 1341.9,164.4C1346.1,171.7 1350.2,177.6 1354.4,183.1C1358.6,188.7 1362.7,193.9 1366.9,197.7C1371.1,201.5 1374.5,203.6 1379.4,206.0C1384.2,208.4 1389.8,210.7 1396.0,212.2C1402.3,213.8 1408.4,214.6 1416.8,215.1C1425.3,215.7 1441.8,215.5 1446.8,215.6" stroke="#3479c2" stroke-width="4.1" fill="none" stroke-linejoin="round"/>
<path d="M1236.0,55.5 H1230.0 V216.4 H1446.6 V211.9" stroke="#111" stroke-width="2.4" fill="none"/>
<line x1="1230.0" y1="193.57" x2="1235.0" y2="193.57" stroke="#111" stroke-width="2.2"/>
<line x1="1230.0" y1="170.74" x2="1237.5" y2="170.74" stroke="#111" stroke-width="2.2"/>
<line x1="1230.0" y1="147.91000000000003" x2="1235.0" y2="147.91000000000003" stroke="#111" stroke-width="2.2"/>
<line x1="1230.0" y1="125.08000000000001" x2="1237.5" y2="125.08000000000001" stroke="#111" stroke-width="2.2"/>
<line x1="1230.0" y1="102.25000000000001" x2="1235.0" y2="102.25000000000001" stroke="#111" stroke-width="2.2"/>
<line x1="1230.0" y1="79.42000000000002" x2="1237.5" y2="79.42000000000002" stroke="#111" stroke-width="2.2"/>
<line x1="1273.32" y1="216.4" x2="1273.32" y2="211.9" stroke="#111" stroke-width="2.2"/>
<line x1="1316.64" y1="216.4" x2="1316.64" y2="209.9" stroke="#111" stroke-width="2.2"/>
<line x1="1359.96" y1="216.4" x2="1359.96" y2="211.9" stroke="#111" stroke-width="2.2"/>
<line x1="1403.28" y1="216.4" x2="1403.28" y2="209.9" stroke="#111" stroke-width="2.2"/>
<text x="1224.5" y="219.4" font-size="24.5" text-anchor="end">0</text>
<text x="1224.5" y="175.14000000000001" font-size="24.5" text-anchor="end">1</text>
<text x="1224.5" y="129.48000000000002" font-size="24.5" text-anchor="end">2</text>
<text x="1224.5" y="82.72000000000001" font-size="24.5" text-anchor="end">3</text>
<text x="1230.0" y="243.5" font-size="24.5" text-anchor="middle">0</text>
<text x="1316.14" y="243.5" font-size="24.5" text-anchor="middle">0.4</text>
<text x="1402.78" y="243.5" font-size="24.5" text-anchor="middle">0.8</text>
<text x="1199.8" y="130.6" font-size="32.5" text-anchor="middle" transform="rotate(-90 1199.8 130.6)">PDF</text>
<text x="1196.5" y="279" font-size="33">bout duration,<tspan font-family='"Liberation Serif", serif' font-style="italic" font-size="34" dx="5">T</tspan><tspan dx="7">(s)</tspan></text>
<text x="1292" y="180.5" font-size="41" font-family='"Liberation Serif", serif' font-style="italic">f</text>
<text x="1306.5" y="186" font-size="23.5">0</text>
<line x1="1323.3" y1="64.8" x2="1346.7" y2="64.8" stroke="#dc3323" stroke-width="3.3"/>
<line x1="1323.3" y1="92" x2="1346.7" y2="92" stroke="#3479c2" stroke-width="3.3"/>
<text x="1360" y="72.8" font-size="34">far</text>
<text x="1360" y="100.8" font-size="34">close</text>
</g>
<g id="panelC">
<text x="894.5" y="349.8" font-size="48.5" font-weight="bold">C</text>
<clipPath id="cC"><rect x="1015.8" y="313.5" width="434.60000000000014" height="333.1"/></clipPath>
<g clip-path="url(#cC)" fill="none" stroke-linejoin="round">
<polyline points="1015.8,544.9 1026.7,556.0 1037.5,570.3 1048.4,587.8 1059.3,597.8 1070.1,593.2 1081.0,583.5 1091.9,564.0 1102.7,524.9 1113.6,445.8 1124.5,387.7 1135.3,399.8 1146.2,450.7 1157.0,494.8 1167.9,528.8 1178.8,550.6 1189.6,565.1 1200.5,578.4 1211.4,590.5 1222.2,598.0 1233.1,609.2 1244.0,611.0 1254.8,621.2 1265.7,625.5 1276.6,621.0 1287.4,602.9 1298.3,584.2 1309.2,530.5 1320.0,469.3 1330.9,398.6 1341.8,383.7 1352.6,425.2 1363.5,491.1 1374.3,538.1 1385.2,570.6 1396.1,589.2 1406.9,597.0 1417.8,621.8 1428.7,631.3 1439.5,624.5 1450.4,637.7" stroke="#3a7ec2" stroke-width="1.7" fill="none" stroke-opacity="0.115"/>
<polyline points="1015.8,474.1 1026.7,494.8 1037.5,515.2 1048.4,532.7 1059.3,572.3 1070.1,574.1 1081.0,559.5 1091.9,530.8 1102.7,492.0 1113.6,442.7 1124.5,377.2 1135.3,312.0 1146.2,333.4 1157.0,389.1 1167.9,439.2 1178.8,490.7 1189.6,534.7 1200.5,561.2 1211.4,574.9 1222.2,573.5 1233.1,572.7 1244.0,561.9 1254.8,547.5 1265.7,542.8 1276.6,518.3 1287.4,510.5 1298.3,504.5 1309.2,507.0 1320.0,490.4 1330.9,473.8 1341.8,489.8 1352.6,503.7 1363.5,516.8 1374.3,537.2 1385.2,526.3 1396.1,528.7 1406.9,529.6 1417.8,517.1 1428.7,510.3 1439.5,511.9 1450.4,508.9" stroke="#3a7ec2" stroke-width="1.7" fill="none" stroke-opacity="0.115"/>
<polyline points="1015.8,491.8 1026.7,504.7 1037.5,505.9 1048.4,513.4 1059.3,502.3 1070.1,500.7 1081.0,497.3 1091.9,495.5 1102.7,491.7 1113.6,468.5 1124.5,419.4 1135.3,366.6 1146.2,354.8 1157.0,390.3 1167.9,431.5 1178.8,460.4 1189.6,481.3 1200.5,500.8 1211.4,522.4 1222.2,537.6 1233.1,544.3 1244.0,554.1 1254.8,539.2 1265.7,522.9 1276.6,509.2 1287.4,485.1 1298.3,466.3 1309.2,451.4 1320.0,436.1 1330.9,424.6 1341.8,421.5 1352.6,447.2 1363.5,471.7 1374.3,488.3 1385.2,495.7 1396.1,485.4 1406.9,493.5 1417.8,485.3 1428.7,479.5 1439.5,488.0 1450.4,482.9" stroke="#3a7ec2" stroke-width="1.7" fill="none" stroke-opacity="0.115"/>
<polyline points="1015.8,556.7 1026.7,550.7 1037.5,538.5 1048.4,535.5 1059.3,562.7 1070.1,555.6 1081.0,577.0 1091.9,566.6 1102.7,554.8 1113.6,503.2 1124.5,440.4 1135.3,394.3 1146.2,388.0 1157.0,428.2 1167.9,487.5 1178.8,539.6 1189.6,566.3 1200.5,580.8 1211.4,581.3 1222.2,553.4 1233.1,558.4 1244.0,547.1 1254.8,562.4 1265.7,578.2 1276.6,591.9 1287.4,600.0 1298.3,588.6 1309.2,571.9 1320.0,529.2 1330.9,460.4 1341.8,392.0 1352.6,316.4 1363.5,307.9 1374.3,389.5 1385.2,480.9 1396.1,528.7 1406.9,555.5 1417.8,532.9 1428.7,519.2 1439.5,500.9 1450.4,496.3" stroke="#3a7ec2" stroke-width="1.7" fill="none" stroke-opacity="0.115"/>
<polyline points="1015.8,571.0 1026.7,568.5 1037.5,551.0 1048.4,556.3 1059.3,535.7 1070.1,526.6 1081.0,516.3 1091.9,505.7 1102.7,480.7 1113.6,471.7 1124.5,448.5 1135.3,424.2 1146.2,427.6 1157.0,477.7 1167.9,509.2 1178.8,544.8 1189.6,546.6 1200.5,542.0 1211.4,538.4 1222.2,525.2 1233.1,523.5 1244.0,517.3 1254.8,515.2 1265.7,510.4 1276.6,504.1 1287.4,499.2 1298.3,481.2 1309.2,439.5 1320.0,392.0 1330.9,352.8 1341.8,328.2 1352.6,364.8 1363.5,406.5 1374.3,437.6 1385.2,459.3 1396.1,483.6 1406.9,499.3 1417.8,492.0 1428.7,484.2 1439.5,480.2 1450.4,476.6" stroke="#3a7ec2" stroke-width="1.7" fill="none" stroke-opacity="0.115"/>
<polyline points="1015.8,514.7 1026.7,541.5 1037.5,551.1 1048.4,550.9 1059.3,558.2 1070.1,538.7 1081.0,513.0 1091.9,487.1 1102.7,447.7 1113.6,417.5 1124.5,381.1 1135.3,390.7 1146.2,422.2 1157.0,476.4 1167.9,522.2 1178.8,534.7 1189.6,548.5 1200.5,556.1 1211.4,544.2 1222.2,533.3 1233.1,534.9 1244.0,533.0 1254.8,541.8 1265.7,553.3 1276.6,564.2 1287.4,560.7 1298.3,547.9 1309.2,510.0 1320.0,466.4 1330.9,427.5 1341.8,457.1 1352.6,496.4 1363.5,517.3 1374.3,518.7 1385.2,545.7 1396.1,547.8 1406.9,552.3 1417.8,569.7 1428.7,561.2 1439.5,548.9 1450.4,544.5" stroke="#3a7ec2" stroke-width="1.7" fill="none" stroke-opacity="0.115"/>
<polyline points="1015.8,512.9 1026.7,498.1 1037.5,505.9 1048.4,514.4 1059.3,523.5 1070.1,541.6 1081.0,537.4 1091.9,514.9 1102.7,458.9 1113.6,382.8 1124.5,349.1 1135.3,396.9 1146.2,442.6 1157.0,484.6 1167.9,512.8 1178.8,548.8 1189.6,562.1 1200.5,568.0 1211.4,563.7 1222.2,560.7 1233.1,542.8 1244.0,529.5 1254.8,513.1 1265.7,517.3 1276.6,527.7 1287.4,530.2 1298.3,516.1 1309.2,487.9 1320.0,414.5 1330.9,326.4 1341.8,274.7 1352.6,329.7 1363.5,395.5 1374.3,462.2 1385.2,506.2 1396.1,530.9 1406.9,554.7 1417.8,574.9 1428.7,573.8 1439.5,568.0 1450.4,560.7" stroke="#3a7ec2" stroke-width="1.7" fill="none" stroke-opacity="0.115"/>
<polyline points="1015.8,551.9 1026.7,550.6 1037.5,548.5 1048.4,553.5 1059.3,567.0 1070.1,566.6 1081.0,571.5 1091.9,578.0 1102.7,575.0 1113.6,552.8 1124.5,528.2 1135.3,506.6 1146.2,511.6 1157.0,536.4 1167.9,542.4 1178.8,556.2 1189.6,565.3 1200.5,561.2 1211.4,555.7 1222.2,573.9 1233.1,589.7 1244.0,598.1 1254.8,600.8 1265.7,604.4 1276.6,602.6 1287.4,586.1 1298.3,571.2 1309.2,549.4 1320.0,517.5 1330.9,484.8 1341.8,470.0 1352.6,480.1 1363.5,514.1 1374.3,538.2 1385.2,560.4 1396.1,586.0 1406.9,594.4 1417.8,607.9 1428.7,611.1 1439.5,614.8 1450.4,597.0" stroke="#3a7ec2" stroke-width="1.7" fill="none" stroke-opacity="0.115"/>
<polyline points="1015.8,573.9 1026.7,596.9 1037.5,615.2 1048.4,622.6 1059.3,625.5 1070.1,605.3 1081.0,575.4 1091.9,541.3 1102.7,489.3 1113.6,416.7 1124.5,363.2 1135.3,358.0 1146.2,447.1 1157.0,532.2 1167.9,575.2 1178.8,602.0 1189.6,605.0 1200.5,579.6 1211.4,580.0 1222.2,578.3 1233.1,592.7 1244.0,606.5 1254.8,615.5 1265.7,639.6 1276.6,640.1 1287.4,634.7 1298.3,614.6 1309.2,597.6 1320.0,575.9 1330.9,541.7 1341.8,500.1 1352.6,469.0 1363.5,427.7 1374.3,466.4 1385.2,517.6 1396.1,575.5 1406.9,596.8 1417.8,602.0 1428.7,589.2 1439.5,582.3 1450.4,580.5" stroke="#3a7ec2" stroke-width="1.7" fill="none" stroke-opacity="0.115"/>
<polyline points="1015.8,581.4 1026.7,602.0 1037.5,616.2 1048.4,614.7 1059.3,605.1 1070.1,569.2 1081.0,538.1 1091.9,503.7 1102.7,461.2 1113.6,401.0 1124.5,347.6 1135.3,304.5 1146.2,348.5 1157.0,418.8 1167.9,466.8 1178.8,511.8 1189.6,556.6 1200.5,585.5 1211.4,613.7 1222.2,627.4 1233.1,629.5 1244.0,621.2 1254.8,604.8 1265.7,579.4 1276.6,558.4 1287.4,533.2 1298.3,503.0 1309.2,455.6 1320.0,390.1 1330.9,336.2 1341.8,380.0 1352.6,443.1 1363.5,492.0 1374.3,535.6 1385.2,567.9 1396.1,596.4 1406.9,623.7 1417.8,612.9 1428.7,612.0 1439.5,581.7 1450.4,557.8" stroke="#3a7ec2" stroke-width="1.7" fill="none" stroke-opacity="0.115"/>
<polyline points="1015.8,521.9 1026.7,529.1 1037.5,556.9 1048.4,564.5 1059.3,582.6 1070.1,589.3 1081.0,575.4 1091.9,554.3 1102.7,493.3 1113.6,415.5 1124.5,375.7 1135.3,424.5 1146.2,488.0 1157.0,526.3 1167.9,551.2 1178.8,554.8 1189.6,563.9 1200.5,571.7 1211.4,581.1 1222.2,600.6 1233.1,594.7 1244.0,601.8 1254.8,611.8 1265.7,611.7 1276.6,585.9 1287.4,551.2 1298.3,525.4 1309.2,447.2 1320.0,397.4 1330.9,334.9 1341.8,298.4 1352.6,325.6 1363.5,388.0 1374.3,456.0 1385.2,512.6 1396.1,561.0 1406.9,583.2 1417.8,580.7 1428.7,562.0 1439.5,530.6 1450.4,503.9" stroke="#3a7ec2" stroke-width="1.7" fill="none" stroke-opacity="0.115"/>
<polyline points="1015.8,496.1 1026.7,515.5 1037.5,546.2 1048.4,560.9 1059.3,574.1 1070.1,564.1 1081.0,546.5 1091.9,515.0 1102.7,460.7 1113.6,401.2 1124.5,325.0 1135.3,275.0 1146.2,283.9 1157.0,336.5 1167.9,398.3 1178.8,456.0 1189.6,499.7 1200.5,531.8 1211.4,555.4 1222.2,570.8 1233.1,571.8 1244.0,585.1 1254.8,576.3 1265.7,551.7 1276.6,553.2 1287.4,520.2 1298.3,481.2 1309.2,436.0 1320.0,382.2 1330.9,331.9 1341.8,290.9 1352.6,308.8 1363.5,363.0 1374.3,438.5 1385.2,489.8 1396.1,527.7 1406.9,559.3 1417.8,565.4 1428.7,553.8 1439.5,548.3 1450.4,527.2" stroke="#3a7ec2" stroke-width="1.7" fill="none" stroke-opacity="0.115"/>
<polyline points="1015.8,553.5 1026.7,547.6 1037.5,547.8 1048.4,555.8 1059.3,537.2 1070.1,521.5 1081.0,504.0 1091.9,486.6 1102.7,453.2 1113.6,409.7 1124.5,368.7 1135.3,354.4 1146.2,389.7 1157.0,457.1 1167.9,491.1 1178.8,533.8 1189.6,533.0 1200.5,527.7 1211.4,518.1 1222.2,507.8 1233.1,511.3 1244.0,516.5 1254.8,512.8 1265.7,525.0 1276.6,522.6 1287.4,523.3 1298.3,498.9 1309.2,456.5 1320.0,394.4 1330.9,331.2 1341.8,288.5 1352.6,331.6 1363.5,379.7 1374.3,424.2 1385.2,465.2 1396.1,489.1 1406.9,520.1 1417.8,533.6 1428.7,533.2 1439.5,536.0 1450.4,535.4" stroke="#3a7ec2" stroke-width="1.7" fill="none" stroke-opacity="0.115"/>
<polyline points="1015.8,543.0 1026.7,524.2 1037.5,525.3 1048.4,524.3 1059.3,530.6 1070.1,546.8 1081.0,544.8 1091.9,541.0 1102.7,512.9 1113.6,482.1 1124.5,450.5 1135.3,445.3 1146.2,463.6 1157.0,489.1 1167.9,504.2 1178.8,530.7 1189.6,552.3 1200.5,564.1 1211.4,583.1 1222.2,580.0 1233.1,569.0 1244.0,550.7 1254.8,538.6 1265.7,521.8 1276.6,515.8 1287.4,505.2 1298.3,492.9 1309.2,491.3 1320.0,454.9 1330.9,433.7 1341.8,391.8 1352.6,373.0 1363.5,386.8 1374.3,423.7 1385.2,456.6 1396.1,473.7 1406.9,501.5 1417.8,527.1 1428.7,538.7 1439.5,562.7 1450.4,566.2" stroke="#3a7ec2" stroke-width="1.7" fill="none" stroke-opacity="0.115"/>
<polyline points="1015.8,453.9 1026.7,470.5 1037.5,484.5 1048.4,488.4 1059.3,505.1 1070.1,496.2 1081.0,493.6 1091.9,498.3 1102.7,506.0 1113.6,488.3 1124.5,481.4 1135.3,469.3 1146.2,465.6 1157.0,470.9 1167.9,483.7 1178.8,503.2 1189.6,500.0 1200.5,497.4 1211.4,500.7 1222.2,496.0 1233.1,497.4 1244.0,507.0 1254.8,517.8 1265.7,507.2 1276.6,505.7 1287.4,494.8 1298.3,466.7 1309.2,441.1 1320.0,395.9 1330.9,377.4 1341.8,380.6 1352.6,407.8 1363.5,435.9 1374.3,451.4 1385.2,477.2 1396.1,503.0 1406.9,520.2 1417.8,506.8 1428.7,515.6 1439.5,505.4 1450.4,488.1" stroke="#3a7ec2" stroke-width="1.7" fill="none" stroke-opacity="0.115"/>
<polyline points="1015.8,509.2 1026.7,535.6 1037.5,566.2 1048.4,603.8 1059.3,616.6 1070.1,598.1 1081.0,564.8 1091.9,506.2 1102.7,449.4 1113.6,378.4 1124.5,371.2 1135.3,419.5 1146.2,487.3 1157.0,548.0 1167.9,585.9 1178.8,612.4 1189.6,619.7 1200.5,608.4 1211.4,591.1 1222.2,586.4 1233.1,578.7 1244.0,576.5 1254.8,588.8 1265.7,605.3 1276.6,593.3 1287.4,587.8 1298.3,583.4 1309.2,534.8 1320.0,480.8 1330.9,426.0 1341.8,396.1 1352.6,421.8 1363.5,469.2 1374.3,514.1 1385.2,555.7 1396.1,599.7 1406.9,619.7 1417.8,599.1 1428.7,580.0 1439.5,538.5 1450.4,504.7" stroke="#3a7ec2" stroke-width="1.7" fill="none" stroke-opacity="0.115"/>
<polyline points="1015.8,531.8 1026.7,536.9 1037.5,542.4 1048.4,551.1 1059.3,549.2 1070.1,516.4 1081.0,499.1 1091.9,460.6 1102.7,397.2 1113.6,355.0 1124.5,350.2 1135.3,417.0 1146.2,472.2 1157.0,526.6 1167.9,560.8 1178.8,574.6 1189.6,575.8 1200.5,565.0 1211.4,578.1 1222.2,568.6 1233.1,567.5 1244.0,557.3 1254.8,573.7 1265.7,578.9 1276.6,587.7 1287.4,605.5 1298.3,585.8 1309.2,566.0 1320.0,532.2 1330.9,484.4 1341.8,474.1 1352.6,500.5 1363.5,528.6 1374.3,542.4 1385.2,559.4 1396.1,564.4 1406.9,568.4 1417.8,566.8 1428.7,570.6 1439.5,561.0 1450.4,562.1" stroke="#3a7ec2" stroke-width="1.7" fill="none" stroke-opacity="0.115"/>
<polyline points="1015.8,537.7 1026.7,546.4 1037.5,550.5 1048.4,566.8 1059.3,562.7 1070.1,583.0 1081.0,578.8 1091.9,583.1 1102.7,561.9 1113.6,525.4 1124.5,500.5 1135.3,444.5 1146.2,445.0 1157.0,480.3 1167.9,510.5 1178.8,516.2 1189.6,538.4 1200.5,557.5 1211.4,557.7 1222.2,579.7 1233.1,575.3 1244.0,587.8 1254.8,584.6 1265.7,573.8 1276.6,565.7 1287.4,549.4 1298.3,514.0 1309.2,447.0 1320.0,379.7 1330.9,320.6 1341.8,310.0 1352.6,378.2 1363.5,449.5 1374.3,519.1 1385.2,548.4 1396.1,565.8 1406.9,578.2 1417.8,566.6 1428.7,564.5 1439.5,531.5 1450.4,505.8" stroke="#3a7ec2" stroke-width="1.7" fill="none" stroke-opacity="0.115"/>
<polyline points="1015.8,501.8 1026.7,502.3 1037.5,514.4 1048.4,536.0 1059.3,522.9 1070.1,492.7 1081.0,445.2 1091.9,362.5 1102.7,283.7 1113.6,205.3 1124.5,164.3 1135.3,201.9 1146.2,293.3 1157.0,372.8 1167.9,431.8 1178.8,456.3 1189.6,460.2 1200.5,480.1 1211.4,496.7 1222.2,520.4 1233.1,550.6 1244.0,555.7 1254.8,549.5 1265.7,524.9 1276.6,508.3 1287.4,480.0 1298.3,449.6 1309.2,405.0 1320.0,328.2 1330.9,231.9 1341.8,175.7 1352.6,244.2 1363.5,329.1 1374.3,393.7 1385.2,451.8 1396.1,497.0 1406.9,521.8 1417.8,524.3 1428.7,518.0 1439.5,494.2 1450.4,463.1" stroke="#3a7ec2" stroke-width="1.7" fill="none" stroke-opacity="0.115"/>
<polyline points="1015.8,475.6 1026.7,485.7 1037.5,503.3 1048.4,510.9 1059.3,550.8 1070.1,549.3 1081.0,561.7 1091.9,545.2 1102.7,516.5 1113.6,494.0 1124.5,419.9 1135.3,390.6 1146.2,436.6 1157.0,474.1 1167.9,509.4 1178.8,504.7 1189.6,510.7 1200.5,516.4 1211.4,525.7 1222.2,529.2 1233.1,544.4 1244.0,550.9 1254.8,561.7 1265.7,573.1 1276.6,561.5 1287.4,551.7 1298.3,532.0 1309.2,511.7 1320.0,469.7 1330.9,419.5 1341.8,372.5 1352.6,333.3 1363.5,348.0 1374.3,404.6 1385.2,455.7 1396.1,483.9 1406.9,512.3 1417.8,531.4 1428.7,540.3 1439.5,548.3 1450.4,544.4" stroke="#3a7ec2" stroke-width="1.7" fill="none" stroke-opacity="0.115"/>
<polyline points="1015.8,537.2 1026.7,524.3 1037.5,522.2 1048.4,539.6 1059.3,547.6 1070.1,546.3 1081.0,517.4 1091.9,452.5 1102.7,352.8 1113.6,283.0 1124.5,347.5 1135.3,439.0 1146.2,508.2 1157.0,553.9 1167.9,572.1 1178.8,576.4 1189.6,561.1 1200.5,541.4 1211.4,536.0 1222.2,524.6 1233.1,532.9 1244.0,551.0 1254.8,559.8 1265.7,551.8 1276.6,536.0 1287.4,496.5 1298.3,447.9 1309.2,396.5 1320.0,365.8 1330.9,355.7 1341.8,405.9 1352.6,454.7 1363.5,488.8 1374.3,504.0 1385.2,516.6 1396.1,512.9 1406.9,514.2 1417.8,508.9 1428.7,503.6 1439.5,499.2 1450.4,493.2" stroke="#3a7ec2" stroke-width="1.7" fill="none" stroke-opacity="0.115"/>
<polyline points="1015.8,514.8 1026.7,525.5 1037.5,519.0 1048.4,521.4 1059.3,518.7 1070.1,488.4 1081.0,438.3 1091.9,374.3 1102.7,314.1 1113.6,268.1 1124.5,321.2 1135.3,395.2 1146.2,462.3 1157.0,500.7 1167.9,518.6 1178.8,541.9 1189.6,544.8 1200.5,555.1 1211.4,573.6 1222.2,587.9 1233.1,595.0 1244.0,594.6 1254.8,596.4 1265.7,584.0 1276.6,570.5 1287.4,525.8 1298.3,496.8 1309.2,450.7 1320.0,400.0 1330.9,341.3 1341.8,328.2 1352.6,385.5 1363.5,456.6 1374.3,513.3 1385.2,541.8 1396.1,556.5 1406.9,545.5 1417.8,536.8 1428.7,528.4 1439.5,514.2 1450.4,514.6" stroke="#3a7ec2" stroke-width="1.7" fill="none" stroke-opacity="0.115"/>
<polyline points="1015.8,565.9 1026.7,546.2 1037.5,524.0 1048.4,511.3 1059.3,501.1 1070.1,494.1 1081.0,515.5 1091.9,514.4 1102.7,490.9 1113.6,445.7 1124.5,370.2 1135.3,329.7 1146.2,357.3 1157.0,424.0 1167.9,476.9 1178.8,528.0 1189.6,539.9 1200.5,546.4 1211.4,528.6 1222.2,514.6 1233.1,498.8 1244.0,497.1 1254.8,514.3 1265.7,527.8 1276.6,525.2 1287.4,507.1 1298.3,459.4 1309.2,403.8 1320.0,349.5 1330.9,342.2 1341.8,385.4 1352.6,444.4 1363.5,486.5 1374.3,515.5 1385.2,523.2 1396.1,512.5 1406.9,497.4 1417.8,497.1 1428.7,510.1 1439.5,525.9 1450.4,532.8" stroke="#3a7ec2" stroke-width="1.7" fill="none" stroke-opacity="0.115"/>
<polyline points="1015.8,538.7 1026.7,544.0 1037.5,546.8 1048.4,539.6 1059.3,529.4 1070.1,487.6 1081.0,442.3 1091.9,392.4 1102.7,348.9 1113.6,326.7 1124.5,363.2 1135.3,426.4 1146.2,489.9 1157.0,540.3 1167.9,565.1 1178.8,593.3 1189.6,594.8 1200.5,591.3 1211.4,591.4 1222.2,578.3 1233.1,578.9 1244.0,563.6 1254.8,564.5 1265.7,573.6 1276.6,568.3 1287.4,582.8 1298.3,581.7 1309.2,597.2 1320.0,595.5 1330.9,582.6 1341.8,561.0 1352.6,530.5 1363.5,540.7 1374.3,557.3 1385.2,573.5 1396.1,575.1 1406.9,584.8 1417.8,544.9 1428.7,529.4 1439.5,520.5 1450.4,498.7" stroke="#3a7ec2" stroke-width="1.7" fill="none" stroke-opacity="0.115"/>
<polyline points="1015.8,545.6 1026.7,539.3 1037.5,538.0 1048.4,559.1 1059.3,571.2 1070.1,587.4 1081.0,576.9 1091.9,535.2 1102.7,480.0 1113.6,390.1 1124.5,369.5 1135.3,423.8 1146.2,486.2 1157.0,540.5 1167.9,579.7 1178.8,592.0 1189.6,612.6 1200.5,601.0 1211.4,582.6 1222.2,570.5 1233.1,563.9 1244.0,558.7 1254.8,571.0 1265.7,592.9 1276.6,595.9 1287.4,589.6 1298.3,560.7 1309.2,510.8 1320.0,448.6 1330.9,391.4 1341.8,326.9 1352.6,294.9 1363.5,330.7 1374.3,390.3 1385.2,460.9 1396.1,505.6 1406.9,537.1 1417.8,536.4 1428.7,544.5 1439.5,552.1 1450.4,574.5" stroke="#3a7ec2" stroke-width="1.7" fill="none" stroke-opacity="0.115"/>
<polyline points="1015.8,522.4 1026.7,528.9 1037.5,542.0 1048.4,556.3 1059.3,570.6 1070.1,560.0 1081.0,566.4 1091.9,563.6 1102.7,558.3 1113.6,525.8 1124.5,473.5 1135.3,413.1 1146.2,374.6 1157.0,429.8 1167.9,492.6 1178.8,544.9 1189.6,555.9 1200.5,569.0 1211.4,572.3 1222.2,571.3 1233.1,575.6 1244.0,576.1 1254.8,586.0 1265.7,607.7 1276.6,605.8 1287.4,608.1 1298.3,607.5 1309.2,592.7 1320.0,558.6 1330.9,519.5 1341.8,480.9 1352.6,483.5 1363.5,512.0 1374.3,527.1 1385.2,558.6 1396.1,568.4 1406.9,595.5 1417.8,592.1 1428.7,587.7 1439.5,576.1 1450.4,552.0" stroke="#3a7ec2" stroke-width="1.7" fill="none" stroke-opacity="0.115"/>
<path d="M1015.8,506.6C1017.6,506.8 1023.0,507.9 1026.7,507.5C1030.3,507.1 1033.9,505.1 1037.5,504.2C1041.2,503.4 1044.8,503.4 1048.4,502.1C1052.0,500.8 1055.6,496.7 1059.3,496.3C1062.9,495.9 1066.5,498.8 1070.1,499.7C1073.7,500.7 1077.4,500.8 1081.0,501.9C1084.6,503.0 1088.2,504.6 1091.9,506.4C1095.5,508.2 1099.1,512.3 1102.7,512.6C1106.3,512.9 1110.0,509.2 1113.6,508.1C1117.2,507.1 1120.8,506.6 1124.5,506.5C1128.1,506.4 1131.7,507.5 1135.3,507.7C1138.9,507.8 1142.6,507.3 1146.2,507.5C1149.8,507.6 1153.4,510.0 1157.0,508.6C1160.7,507.2 1164.3,501.1 1167.9,499.0C1171.5,496.9 1175.2,495.9 1178.8,496.2C1182.4,496.5 1186.0,499.6 1189.6,500.6C1193.3,501.7 1196.9,501.8 1200.5,502.5C1204.1,503.2 1207.7,503.8 1211.4,504.8C1215.0,505.7 1218.6,506.9 1222.2,508.3C1225.9,509.6 1229.5,513.0 1233.1,512.9C1236.7,512.7 1240.3,508.7 1244.0,507.4C1247.6,506.1 1251.2,505.0 1254.8,505.0C1258.5,505.1 1262.1,508.1 1265.7,507.6C1269.3,507.2 1272.9,502.8 1276.6,502.3C1280.2,501.8 1283.8,504.5 1287.4,504.6C1291.0,504.7 1294.7,503.0 1298.3,503.0C1301.9,503.0 1305.5,503.0 1309.2,504.6C1312.8,506.2 1316.4,510.4 1320.0,512.6C1323.6,514.9 1327.3,518.4 1330.9,518.0C1334.5,517.6 1338.1,511.3 1341.8,510.1C1345.4,509.0 1349.0,511.9 1352.6,511.1C1356.2,510.3 1359.9,505.6 1363.5,505.3C1367.1,505.0 1370.7,509.9 1374.3,509.1C1378.0,508.3 1381.6,502.4 1385.2,500.4C1388.8,498.4 1392.5,497.4 1396.1,497.2C1399.7,496.9 1403.3,497.1 1406.9,498.9C1410.6,500.7 1414.2,506.0 1417.8,507.9C1421.4,509.8 1425.0,509.3 1428.7,510.4C1432.3,511.5 1435.9,514.1 1439.5,514.5C1443.2,514.9 1448.6,512.9 1450.4,512.6" stroke="#f0b416" stroke-width="2.6" fill="none" stroke-opacity="0.15"/>
<path d="M1015.8,500.0C1017.6,500.8 1023.0,504.3 1026.7,505.1C1030.3,506.0 1033.9,504.8 1037.5,505.2C1041.2,505.5 1044.8,507.6 1048.4,507.2C1052.0,506.8 1055.6,503.6 1059.3,502.6C1062.9,501.6 1066.5,501.2 1070.1,501.0C1073.7,500.9 1077.4,502.4 1081.0,501.7C1084.6,501.1 1088.2,498.5 1091.9,497.0C1095.5,495.4 1099.1,491.9 1102.7,492.3C1106.3,492.7 1110.0,498.2 1113.6,499.5C1117.2,500.7 1120.8,499.6 1124.5,499.9C1128.1,500.3 1131.7,500.9 1135.3,501.7C1138.9,502.5 1142.6,503.7 1146.2,504.7C1149.8,505.8 1153.4,506.9 1157.0,508.2C1160.7,509.5 1164.3,512.1 1167.9,512.3C1171.5,512.6 1175.2,511.4 1178.8,509.7C1182.4,508.0 1186.0,504.2 1189.6,502.4C1193.3,500.6 1196.9,500.8 1200.5,499.1C1204.1,497.3 1207.7,491.6 1211.4,492.0C1215.0,492.4 1218.6,500.4 1222.2,501.6C1225.9,502.7 1229.5,498.7 1233.1,499.0C1236.7,499.4 1240.3,501.2 1244.0,503.6C1247.6,506.0 1251.2,511.8 1254.8,513.4C1258.5,515.0 1262.1,513.7 1265.7,513.2C1269.3,512.7 1272.9,511.0 1276.6,510.5C1280.2,510.0 1283.8,510.9 1287.4,510.1C1291.0,509.4 1294.7,507.4 1298.3,505.9C1301.9,504.4 1305.5,501.7 1309.2,501.1C1312.8,500.6 1316.4,502.9 1320.0,502.6C1323.6,502.3 1327.3,499.1 1330.9,499.5C1334.5,499.8 1338.1,503.2 1341.8,504.6C1345.4,506.0 1349.0,507.2 1352.6,507.9C1356.2,508.6 1359.9,507.7 1363.5,508.7C1367.1,509.7 1370.7,513.4 1374.3,514.0C1378.0,514.5 1381.6,513.3 1385.2,512.1C1388.8,511.0 1392.5,507.7 1396.1,507.0C1399.7,506.3 1403.3,508.3 1406.9,508.0C1410.6,507.7 1414.2,506.3 1417.8,505.1C1421.4,503.8 1425.0,500.9 1428.7,500.5C1432.3,500.2 1435.9,503.0 1439.5,503.1C1443.2,503.2 1448.6,501.5 1450.4,501.2" stroke="#f0b416" stroke-width="2.6" fill="none" stroke-opacity="0.15"/>
<path d="M1015.8,508.6C1017.6,508.1 1023.0,504.6 1026.7,505.3C1030.3,506.0 1033.9,512.5 1037.5,513.0C1041.2,513.5 1044.8,508.2 1048.4,508.3C1052.0,508.4 1055.6,512.8 1059.3,513.8C1062.9,514.9 1066.5,513.1 1070.1,514.7C1073.7,516.3 1077.4,522.6 1081.0,523.4C1084.6,524.2 1088.2,520.1 1091.9,519.3C1095.5,518.6 1099.1,518.6 1102.7,519.1C1106.3,519.5 1110.0,522.0 1113.6,522.3C1117.2,522.5 1120.8,522.3 1124.5,520.4C1128.1,518.6 1131.7,512.2 1135.3,511.3C1138.9,510.3 1142.6,514.2 1146.2,514.7C1149.8,515.2 1153.4,514.4 1157.0,514.3C1160.7,514.1 1164.3,514.3 1167.9,513.8C1171.5,513.3 1175.2,511.4 1178.8,511.3C1182.4,511.1 1186.0,512.2 1189.6,513.0C1193.3,513.7 1196.9,515.5 1200.5,515.8C1204.1,516.0 1207.7,513.5 1211.4,514.6C1215.0,515.8 1218.6,521.3 1222.2,522.7C1225.9,524.0 1229.5,523.0 1233.1,522.7C1236.7,522.5 1240.3,520.5 1244.0,521.2C1247.6,522.0 1251.2,527.5 1254.8,527.5C1258.5,527.4 1262.1,522.6 1265.7,520.8C1269.3,519.0 1272.9,516.3 1276.6,516.6C1280.2,516.8 1283.8,521.8 1287.4,522.3C1291.0,522.8 1294.7,520.1 1298.3,519.3C1301.9,518.5 1305.5,517.6 1309.2,517.6C1312.8,517.5 1316.4,519.8 1320.0,519.2C1323.6,518.6 1327.3,513.5 1330.9,514.0C1334.5,514.4 1338.1,521.1 1341.8,521.8C1345.4,522.6 1349.0,518.9 1352.6,518.4C1356.2,517.9 1359.9,517.0 1363.5,518.8C1367.1,520.6 1370.7,527.8 1374.3,529.3C1378.0,530.8 1381.6,527.1 1385.2,527.6C1388.8,528.1 1392.5,532.8 1396.1,532.3C1399.7,531.8 1403.3,525.6 1406.9,524.7C1410.6,523.7 1414.2,527.1 1417.8,526.8C1421.4,526.6 1425.0,524.4 1428.7,523.2C1432.3,522.0 1435.9,521.0 1439.5,519.8C1443.2,518.7 1448.6,517.1 1450.4,516.5" stroke="#f0b416" stroke-width="2.6" fill="none" stroke-opacity="0.15"/>
<path d="M1015.8,504.3C1017.6,505.0 1023.0,508.1 1026.7,508.6C1030.3,509.1 1033.9,506.3 1037.5,507.3C1041.2,508.3 1044.8,513.7 1048.4,514.7C1052.0,515.7 1055.6,514.2 1059.3,513.2C1062.9,512.3 1066.5,508.7 1070.1,509.1C1073.7,509.5 1077.4,513.8 1081.0,515.6C1084.6,517.4 1088.2,520.0 1091.9,520.1C1095.5,520.3 1099.1,516.6 1102.7,516.5C1106.3,516.3 1110.0,518.6 1113.6,519.2C1117.2,519.7 1120.8,520.3 1124.5,519.8C1128.1,519.2 1131.7,517.3 1135.3,515.7C1138.9,514.1 1142.6,511.1 1146.2,509.9C1149.8,508.8 1153.4,509.1 1157.0,508.9C1160.7,508.7 1164.3,508.4 1167.9,508.5C1171.5,508.6 1175.2,509.4 1178.8,509.5C1182.4,509.7 1186.0,510.5 1189.6,509.5C1193.3,508.5 1196.9,503.9 1200.5,503.5C1204.1,503.2 1207.7,506.0 1211.4,507.5C1215.0,509.0 1218.6,510.7 1222.2,512.3C1225.9,514.0 1229.5,516.6 1233.1,517.5C1236.7,518.4 1240.3,519.1 1244.0,517.9C1247.6,516.7 1251.2,509.6 1254.8,510.1C1258.5,510.7 1262.1,519.7 1265.7,521.3C1269.3,522.9 1272.9,520.1 1276.6,519.7C1280.2,519.4 1283.8,519.4 1287.4,519.5C1291.0,519.5 1294.7,520.1 1298.3,520.1C1301.9,520.1 1305.5,519.3 1309.2,519.4C1312.8,519.5 1316.4,520.9 1320.0,520.6C1323.6,520.4 1327.3,519.8 1330.9,517.9C1334.5,515.9 1338.1,509.5 1341.8,508.8C1345.4,508.1 1349.0,513.5 1352.6,513.4C1356.2,513.3 1359.9,507.9 1363.5,508.0C1367.1,508.1 1370.7,513.6 1374.3,514.0C1378.0,514.4 1381.6,511.1 1385.2,510.5C1388.8,509.8 1392.5,510.2 1396.1,510.0C1399.7,509.9 1403.3,508.4 1406.9,509.6C1410.6,510.9 1414.2,516.4 1417.8,517.3C1421.4,518.2 1425.0,515.1 1428.7,515.2C1432.3,515.3 1435.9,516.7 1439.5,518.0C1443.2,519.2 1448.6,522.0 1450.4,522.8" stroke="#f0b416" stroke-width="2.6" fill="none" stroke-opacity="0.15"/>
<path d="M1015.8,502.2C1017.6,502.9 1023.0,506.6 1026.7,506.2C1030.3,505.8 1033.9,500.3 1037.5,499.8C1041.2,499.3 1044.8,502.3 1048.4,503.4C1052.0,504.6 1055.6,506.2 1059.3,506.8C1062.9,507.3 1066.5,506.8 1070.1,506.7C1073.7,506.6 1077.4,505.4 1081.0,506.2C1084.6,507.0 1088.2,511.0 1091.9,511.4C1095.5,511.8 1099.1,507.9 1102.7,508.5C1106.3,509.2 1110.0,514.2 1113.6,515.3C1117.2,516.4 1120.8,516.6 1124.5,515.1C1128.1,513.6 1131.7,507.6 1135.3,506.2C1138.9,504.9 1142.6,507.6 1146.2,507.1C1149.8,506.6 1153.4,503.6 1157.0,503.4C1160.7,503.2 1164.3,506.4 1167.9,505.9C1171.5,505.3 1175.2,501.0 1178.8,500.2C1182.4,499.4 1186.0,500.9 1189.6,501.0C1193.3,501.0 1196.9,500.0 1200.5,500.4C1204.1,500.9 1207.7,503.1 1211.4,503.5C1215.0,503.9 1218.6,501.5 1222.2,502.6C1225.9,503.7 1229.5,508.2 1233.1,510.0C1236.7,511.8 1240.3,512.3 1244.0,513.4C1247.6,514.6 1251.2,517.2 1254.8,516.9C1258.5,516.6 1262.1,511.4 1265.7,511.4C1269.3,511.4 1272.9,515.8 1276.6,516.7C1280.2,517.6 1283.8,517.1 1287.4,516.8C1291.0,516.5 1294.7,515.8 1298.3,514.9C1301.9,514.1 1305.5,512.1 1309.2,511.5C1312.8,510.9 1316.4,512.1 1320.0,511.3C1323.6,510.5 1327.3,507.6 1330.9,506.7C1334.5,505.9 1338.1,506.4 1341.8,506.2C1345.4,506.0 1349.0,505.4 1352.6,505.6C1356.2,505.7 1359.9,507.1 1363.5,507.2C1367.1,507.3 1370.7,505.7 1374.3,506.2C1378.0,506.6 1381.6,508.9 1385.2,509.7C1388.8,510.5 1392.5,510.3 1396.1,510.9C1399.7,511.4 1403.3,512.4 1406.9,513.1C1410.6,513.7 1414.2,513.3 1417.8,514.9C1421.4,516.5 1425.0,522.0 1428.7,522.7C1432.3,523.3 1435.9,519.3 1439.5,518.6C1443.2,517.9 1448.6,518.5 1450.4,518.5" stroke="#f0b416" stroke-width="2.6" fill="none" stroke-opacity="0.15"/>
<path d="M1015.8,501.3C1017.6,500.8 1023.0,499.3 1026.7,498.5C1030.3,497.7 1033.9,495.9 1037.5,496.5C1041.2,497.2 1044.8,501.6 1048.4,502.4C1052.0,503.2 1055.6,500.0 1059.3,501.3C1062.9,502.6 1066.5,508.2 1070.1,510.2C1073.7,512.2 1077.4,513.8 1081.0,513.2C1084.6,512.6 1088.2,507.4 1091.9,506.7C1095.5,506.1 1099.1,508.9 1102.7,509.2C1106.3,509.5 1110.0,508.7 1113.6,508.4C1117.2,508.2 1120.8,508.5 1124.5,507.9C1128.1,507.3 1131.7,505.1 1135.3,504.9C1138.9,504.8 1142.6,508.0 1146.2,507.0C1149.8,506.1 1153.4,500.3 1157.0,499.4C1160.7,498.5 1164.3,502.1 1167.9,501.7C1171.5,501.3 1175.2,497.5 1178.8,497.1C1182.4,496.8 1186.0,498.3 1189.6,499.9C1193.3,501.4 1196.9,505.4 1200.5,506.5C1204.1,507.7 1207.7,507.4 1211.4,506.9C1215.0,506.3 1218.6,502.8 1222.2,503.2C1225.9,503.5 1229.5,507.6 1233.1,509.0C1236.7,510.5 1240.3,511.4 1244.0,511.9C1247.6,512.3 1251.2,511.3 1254.8,511.7C1258.5,512.0 1262.1,513.6 1265.7,513.9C1269.3,514.3 1272.9,514.3 1276.6,513.7C1280.2,513.2 1283.8,511.5 1287.4,510.7C1291.0,509.8 1294.7,509.9 1298.3,508.5C1301.9,507.2 1305.5,503.4 1309.2,502.7C1312.8,502.0 1316.4,505.2 1320.0,504.4C1323.6,503.6 1327.3,499.2 1330.9,498.1C1334.5,496.9 1338.1,497.6 1341.8,497.6C1345.4,497.6 1349.0,497.5 1352.6,498.1C1356.2,498.6 1359.9,499.8 1363.5,501.0C1367.1,502.3 1370.7,504.3 1374.3,505.5C1378.0,506.6 1381.6,507.0 1385.2,508.0C1388.8,508.9 1392.5,510.1 1396.1,511.3C1399.7,512.5 1403.3,514.5 1406.9,515.1C1410.6,515.7 1414.2,514.6 1417.8,514.9C1421.4,515.2 1425.0,517.7 1428.7,517.0C1432.3,516.3 1435.9,511.5 1439.5,510.7C1443.2,509.9 1448.6,512.0 1450.4,512.2" stroke="#f0b416" stroke-width="2.6" fill="none" stroke-opacity="0.15"/>
<path d="M1015.8,520.4C1017.6,520.2 1023.0,519.3 1026.7,519.2C1030.3,519.1 1033.9,519.2 1037.5,519.7C1041.2,520.2 1044.8,523.2 1048.4,522.3C1052.0,521.4 1055.6,515.4 1059.3,514.1C1062.9,512.7 1066.5,515.7 1070.1,514.3C1073.7,512.9 1077.4,506.3 1081.0,505.7C1084.6,505.1 1088.2,510.1 1091.9,510.7C1095.5,511.3 1099.1,510.4 1102.7,509.3C1106.3,508.1 1110.0,504.3 1113.6,503.8C1117.2,503.3 1120.8,506.0 1124.5,506.3C1128.1,506.7 1131.7,505.8 1135.3,506.0C1138.9,506.3 1142.6,507.3 1146.2,507.9C1149.8,508.4 1153.4,509.9 1157.0,509.5C1160.7,509.2 1164.3,505.8 1167.9,505.7C1171.5,505.6 1175.2,508.4 1178.8,509.0C1182.4,509.6 1186.0,508.0 1189.6,509.3C1193.3,510.6 1196.9,515.3 1200.5,516.7C1204.1,518.1 1207.7,516.8 1211.4,517.6C1215.0,518.3 1218.6,521.3 1222.2,521.3C1225.9,521.2 1229.5,516.9 1233.1,517.2C1236.7,517.6 1240.3,523.3 1244.0,523.4C1247.6,523.5 1251.2,519.2 1254.8,517.8C1258.5,516.4 1262.1,516.1 1265.7,515.3C1269.3,514.5 1272.9,512.6 1276.6,512.9C1280.2,513.2 1283.8,517.7 1287.4,517.2C1291.0,516.7 1294.7,510.8 1298.3,510.1C1301.9,509.5 1305.5,512.9 1309.2,513.2C1312.8,513.6 1316.4,512.2 1320.0,512.2C1323.6,512.1 1327.3,513.9 1330.9,513.0C1334.5,512.1 1338.1,507.8 1341.8,506.7C1345.4,505.5 1349.0,505.0 1352.6,506.1C1356.2,507.2 1359.9,511.7 1363.5,513.2C1367.1,514.8 1370.7,514.9 1374.3,515.4C1378.0,516.0 1381.6,517.1 1385.2,516.4C1388.8,515.7 1392.5,511.1 1396.1,511.2C1399.7,511.3 1403.3,515.2 1406.9,517.1C1410.6,519.0 1414.2,521.1 1417.8,522.8C1421.4,524.4 1425.0,526.8 1428.7,527.1C1432.3,527.4 1435.9,525.9 1439.5,524.7C1443.2,523.5 1448.6,520.5 1450.4,519.7" stroke="#f0b416" stroke-width="2.6" fill="none" stroke-opacity="0.15"/>
<path d="M1015.8,491.4C1017.6,492.1 1023.0,495.9 1026.7,495.6C1030.3,495.3 1033.9,489.3 1037.5,489.5C1041.2,489.6 1044.8,495.9 1048.4,496.7C1052.0,497.4 1055.6,492.5 1059.3,493.7C1062.9,494.9 1066.5,501.7 1070.1,503.6C1073.7,505.5 1077.4,505.0 1081.0,504.8C1084.6,504.6 1088.2,502.2 1091.9,502.4C1095.5,502.5 1099.1,505.8 1102.7,505.6C1106.3,505.4 1110.0,501.7 1113.6,501.0C1117.2,500.3 1120.8,501.2 1124.5,501.5C1128.1,501.7 1131.7,503.3 1135.3,502.3C1138.9,501.3 1142.6,496.9 1146.2,495.2C1149.8,493.6 1153.4,492.0 1157.0,492.6C1160.7,493.1 1164.3,499.0 1167.9,498.3C1171.5,497.6 1175.2,489.2 1178.8,488.2C1182.4,487.3 1186.0,491.6 1189.6,492.4C1193.3,493.3 1196.9,491.8 1200.5,493.5C1204.1,495.3 1207.7,501.3 1211.4,502.8C1215.0,504.3 1218.6,502.4 1222.2,502.6C1225.9,502.8 1229.5,504.2 1233.1,504.1C1236.7,504.1 1240.3,501.4 1244.0,502.3C1247.6,503.2 1251.2,508.8 1254.8,509.8C1258.5,510.7 1262.1,508.0 1265.7,508.0C1269.3,508.0 1272.9,510.5 1276.6,509.7C1280.2,508.9 1283.8,504.8 1287.4,503.0C1291.0,501.3 1294.7,499.3 1298.3,499.1C1301.9,498.9 1305.5,502.4 1309.2,502.1C1312.8,501.9 1316.4,498.9 1320.0,497.6C1323.6,496.3 1327.3,495.0 1330.9,494.0C1334.5,493.0 1338.1,491.4 1341.8,491.7C1345.4,491.9 1349.0,494.1 1352.6,495.5C1356.2,496.9 1359.9,498.7 1363.5,500.3C1367.1,501.9 1370.7,504.1 1374.3,505.3C1378.0,506.4 1381.6,506.7 1385.2,507.3C1388.8,507.9 1392.5,508.6 1396.1,508.7C1399.7,508.8 1403.3,507.9 1406.9,507.8C1410.6,507.8 1414.2,509.2 1417.8,508.4C1421.4,507.6 1425.0,503.6 1428.7,503.0C1432.3,502.4 1435.9,504.3 1439.5,504.7C1443.2,505.2 1448.6,505.7 1450.4,505.9" stroke="#f0b416" stroke-width="2.6" fill="none" stroke-opacity="0.15"/>
<path d="M1015.8,495.3C1017.6,496.9 1023.0,503.5 1026.7,505.1C1030.3,506.8 1033.9,505.7 1037.5,505.2C1041.2,504.6 1044.8,501.5 1048.4,501.8C1052.0,502.1 1055.6,506.0 1059.3,507.0C1062.9,508.1 1066.5,508.8 1070.1,508.2C1073.7,507.6 1077.4,504.3 1081.0,503.2C1084.6,502.0 1088.2,502.1 1091.9,501.3C1095.5,500.5 1099.1,499.1 1102.7,498.2C1106.3,497.3 1110.0,496.9 1113.6,495.9C1117.2,494.9 1120.8,492.0 1124.5,492.1C1128.1,492.3 1131.7,496.9 1135.3,496.9C1138.9,496.8 1142.6,491.8 1146.2,491.9C1149.8,492.1 1153.4,497.2 1157.0,497.8C1160.7,498.3 1164.3,494.9 1167.9,495.0C1171.5,495.1 1175.2,497.6 1178.8,498.6C1182.4,499.6 1186.0,500.4 1189.6,500.9C1193.3,501.4 1196.9,500.7 1200.5,501.5C1204.1,502.4 1207.7,505.6 1211.4,506.1C1215.0,506.5 1218.6,504.5 1222.2,504.4C1225.9,504.2 1229.5,504.9 1233.1,505.3C1236.7,505.7 1240.3,506.3 1244.0,506.6C1247.6,506.9 1251.2,507.2 1254.8,507.0C1258.5,506.8 1262.1,506.2 1265.7,505.5C1269.3,504.7 1272.9,503.6 1276.6,502.7C1280.2,501.7 1283.8,500.6 1287.4,499.8C1291.0,499.0 1294.7,499.5 1298.3,497.8C1301.9,496.1 1305.5,489.7 1309.2,489.3C1312.8,489.0 1316.4,494.4 1320.0,495.6C1323.6,496.8 1327.3,495.3 1330.9,496.5C1334.5,497.6 1338.1,501.3 1341.8,502.6C1345.4,504.0 1349.0,504.1 1352.6,504.7C1356.2,505.2 1359.9,505.8 1363.5,506.2C1367.1,506.6 1370.7,506.2 1374.3,507.1C1378.0,508.1 1381.6,512.2 1385.2,512.0C1388.8,511.8 1392.5,506.0 1396.1,505.9C1399.7,505.8 1403.3,511.4 1406.9,511.4C1410.6,511.5 1414.2,505.8 1417.8,506.1C1421.4,506.4 1425.0,513.4 1428.7,513.2C1432.3,513.0 1435.9,506.9 1439.5,505.0C1443.2,503.2 1448.6,502.6 1450.4,502.1" stroke="#f0b416" stroke-width="2.6" fill="none" stroke-opacity="0.15"/>
<path d="M1015.8,503.1C1017.6,503.9 1023.0,507.9 1026.7,508.0C1030.3,508.2 1033.9,503.9 1037.5,503.9C1041.2,503.8 1044.8,508.2 1048.4,507.5C1052.0,506.8 1055.6,500.8 1059.3,499.8C1062.9,498.7 1066.5,500.6 1070.1,501.2C1073.7,501.9 1077.4,502.7 1081.0,503.7C1084.6,504.6 1088.2,506.2 1091.9,506.9C1095.5,507.7 1099.1,508.7 1102.7,508.3C1106.3,507.8 1110.0,504.4 1113.6,504.0C1117.2,503.7 1120.8,504.9 1124.5,506.3C1128.1,507.8 1131.7,512.0 1135.3,512.7C1138.9,513.4 1142.6,509.5 1146.2,510.5C1149.8,511.5 1153.4,517.2 1157.0,518.8C1160.7,520.3 1164.3,520.4 1167.9,519.8C1171.5,519.3 1175.2,516.3 1178.8,515.6C1182.4,514.9 1186.0,516.0 1189.6,515.7C1193.3,515.3 1196.9,514.4 1200.5,513.5C1204.1,512.5 1207.7,512.0 1211.4,509.9C1215.0,507.7 1218.6,501.0 1222.2,500.8C1225.9,500.6 1229.5,507.9 1233.1,508.7C1236.7,509.5 1240.3,506.3 1244.0,505.6C1247.6,504.8 1251.2,504.3 1254.8,504.1C1258.5,504.0 1262.1,504.9 1265.7,504.7C1269.3,504.4 1272.9,503.1 1276.6,502.5C1280.2,501.9 1283.8,499.9 1287.4,501.2C1291.0,502.5 1294.7,509.2 1298.3,510.5C1301.9,511.7 1305.5,508.4 1309.2,508.7C1312.8,508.9 1316.4,511.2 1320.0,511.8C1323.6,512.4 1327.3,511.0 1330.9,512.2C1334.5,513.4 1338.1,517.5 1341.8,519.0C1345.4,520.5 1349.0,520.4 1352.6,521.1C1356.2,521.9 1359.9,524.3 1363.5,523.6C1367.1,522.9 1370.7,517.7 1374.3,516.7C1378.0,515.7 1381.6,517.4 1385.2,517.4C1388.8,517.4 1392.5,516.2 1396.1,517.0C1399.7,517.7 1403.3,522.3 1406.9,522.1C1410.6,521.8 1414.2,516.6 1417.8,515.3C1421.4,514.1 1425.0,514.7 1428.7,514.6C1432.3,514.5 1435.9,515.1 1439.5,514.6C1443.2,514.2 1448.6,512.3 1450.4,511.9" stroke="#f0b416" stroke-width="2.6" fill="none" stroke-opacity="0.15"/>
<path d="M1015.8,498.0C1017.6,498.3 1023.0,499.9 1026.7,499.9C1030.3,499.9 1033.9,498.1 1037.5,497.8C1041.2,497.5 1044.8,498.2 1048.4,498.2C1052.0,498.3 1055.6,497.5 1059.3,498.0C1062.9,498.5 1066.5,500.4 1070.1,501.3C1073.7,502.2 1077.4,502.8 1081.0,503.6C1084.6,504.3 1088.2,504.9 1091.9,505.8C1095.5,506.8 1099.1,509.7 1102.7,509.3C1106.3,509.0 1110.0,503.7 1113.6,503.7C1117.2,503.7 1120.8,508.3 1124.5,509.4C1128.1,510.5 1131.7,510.9 1135.3,510.2C1138.9,509.5 1142.6,505.8 1146.2,505.2C1149.8,504.6 1153.4,505.4 1157.0,506.6C1160.7,507.9 1164.3,513.1 1167.9,512.9C1171.5,512.6 1175.2,506.9 1178.8,505.2C1182.4,503.6 1186.0,504.1 1189.6,502.9C1193.3,501.8 1196.9,499.2 1200.5,498.4C1204.1,497.7 1207.7,498.4 1211.4,498.5C1215.0,498.6 1218.6,498.2 1222.2,499.1C1225.9,500.0 1229.5,503.2 1233.1,504.0C1236.7,504.8 1240.3,504.1 1244.0,503.8C1247.6,503.5 1251.2,502.3 1254.8,502.2C1258.5,502.1 1262.1,502.2 1265.7,503.4C1269.3,504.7 1272.9,508.5 1276.6,509.6C1280.2,510.7 1283.8,509.7 1287.4,510.2C1291.0,510.6 1294.7,511.9 1298.3,512.3C1301.9,512.7 1305.5,512.6 1309.2,512.8C1312.8,512.9 1316.4,512.7 1320.0,513.1C1323.6,513.5 1327.3,514.3 1330.9,515.0C1334.5,515.7 1338.1,518.0 1341.8,517.1C1345.4,516.1 1349.0,511.2 1352.6,509.5C1356.2,507.9 1359.9,507.0 1363.5,507.0C1367.1,507.0 1370.7,510.0 1374.3,509.6C1378.0,509.2 1381.6,505.6 1385.2,504.7C1388.8,503.9 1392.5,504.9 1396.1,504.6C1399.7,504.2 1403.3,503.1 1406.9,502.8C1410.6,502.5 1414.2,502.1 1417.8,502.6C1421.4,503.2 1425.0,505.9 1428.7,506.0C1432.3,506.1 1435.9,503.8 1439.5,503.4C1443.2,503.1 1448.6,503.7 1450.4,503.8" stroke="#f0b416" stroke-width="2.6" fill="none" stroke-opacity="0.15"/>
<path d="M1015.8,514.1C1017.6,513.8 1023.0,512.8 1026.7,512.5C1030.3,512.1 1033.9,512.2 1037.5,511.9C1041.2,511.7 1044.8,511.2 1048.4,510.9C1052.0,510.5 1055.6,509.5 1059.3,509.6C1062.9,509.7 1066.5,510.9 1070.1,511.4C1073.7,511.9 1077.4,511.7 1081.0,512.7C1084.6,513.7 1088.2,516.5 1091.9,517.5C1095.5,518.4 1099.1,517.2 1102.7,518.5C1106.3,519.8 1110.0,526.6 1113.6,525.4C1117.2,524.2 1120.8,514.3 1124.5,511.3C1128.1,508.3 1131.7,507.5 1135.3,507.3C1138.9,507.1 1142.6,510.0 1146.2,510.1C1149.8,510.3 1153.4,507.8 1157.0,508.0C1160.7,508.1 1164.3,509.8 1167.9,511.1C1171.5,512.5 1175.2,514.3 1178.8,516.0C1182.4,517.7 1186.0,520.1 1189.6,521.1C1193.3,522.2 1196.9,522.1 1200.5,522.3C1204.1,522.6 1207.7,523.5 1211.4,522.5C1215.0,521.5 1218.6,517.7 1222.2,516.1C1225.9,514.5 1229.5,513.8 1233.1,512.8C1236.7,511.8 1240.3,509.8 1244.0,510.1C1247.6,510.3 1251.2,513.4 1254.8,514.4C1258.5,515.3 1262.1,514.8 1265.7,515.8C1269.3,516.8 1272.9,519.2 1276.6,520.2C1280.2,521.1 1283.8,520.6 1287.4,521.5C1291.0,522.5 1294.7,526.1 1298.3,525.7C1301.9,525.3 1305.5,521.0 1309.2,518.9C1312.8,516.8 1316.4,514.6 1320.0,513.3C1323.6,512.1 1327.3,511.3 1330.9,511.3C1334.5,511.3 1338.1,512.6 1341.8,513.5C1345.4,514.4 1349.0,515.4 1352.6,516.6C1356.2,517.7 1359.9,519.4 1363.5,520.3C1367.1,521.1 1370.7,521.5 1374.3,521.6C1378.0,521.7 1381.6,520.5 1385.2,520.8C1388.8,521.1 1392.5,523.5 1396.1,523.5C1399.7,523.6 1403.3,522.5 1406.9,521.0C1410.6,519.5 1414.2,515.8 1417.8,514.5C1421.4,513.2 1425.0,512.7 1428.7,513.2C1432.3,513.7 1435.9,516.1 1439.5,517.4C1443.2,518.7 1448.6,520.2 1450.4,520.8" stroke="#f0b416" stroke-width="2.6" fill="none" stroke-opacity="0.15"/>
<path d="M1015.8,511.3C1017.6,511.6 1023.0,512.3 1026.7,513.2C1030.3,514.1 1033.9,517.3 1037.5,516.9C1041.2,516.5 1044.8,512.6 1048.4,510.9C1052.0,509.2 1055.6,507.8 1059.3,506.8C1062.9,505.8 1066.5,505.2 1070.1,505.1C1073.7,505.0 1077.4,506.3 1081.0,506.2C1084.6,506.1 1088.2,504.3 1091.9,504.6C1095.5,504.9 1099.1,507.2 1102.7,508.1C1106.3,509.1 1110.0,508.7 1113.6,510.1C1117.2,511.5 1120.8,516.0 1124.5,516.5C1128.1,517.1 1131.7,512.7 1135.3,513.3C1138.9,513.9 1142.6,520.0 1146.2,520.0C1149.8,520.1 1153.4,515.5 1157.0,513.8C1160.7,512.1 1164.3,511.5 1167.9,509.9C1171.5,508.4 1175.2,504.9 1178.8,504.4C1182.4,503.9 1186.0,506.9 1189.6,506.9C1193.3,506.9 1196.9,503.9 1200.5,504.4C1204.1,504.9 1207.7,508.9 1211.4,509.9C1215.0,510.8 1218.6,510.0 1222.2,510.2C1225.9,510.4 1229.5,509.7 1233.1,511.1C1236.7,512.5 1240.3,517.8 1244.0,518.7C1247.6,519.6 1251.2,516.6 1254.8,516.5C1258.5,516.3 1262.1,519.0 1265.7,517.9C1269.3,516.8 1272.9,511.7 1276.6,509.7C1280.2,507.7 1283.8,506.3 1287.4,505.8C1291.0,505.4 1294.7,506.3 1298.3,507.0C1301.9,507.7 1305.5,510.0 1309.2,510.2C1312.8,510.5 1316.4,508.6 1320.0,508.6C1323.6,508.6 1327.3,509.3 1330.9,510.2C1334.5,511.1 1338.1,512.8 1341.8,514.0C1345.4,515.1 1349.0,515.4 1352.6,517.1C1356.2,518.8 1359.9,523.8 1363.5,524.2C1367.1,524.6 1370.7,521.6 1374.3,519.4C1378.0,517.2 1381.6,511.6 1385.2,510.8C1388.8,509.9 1392.5,515.1 1396.1,514.3C1399.7,513.5 1403.3,507.8 1406.9,506.0C1410.6,504.3 1414.2,503.5 1417.8,503.9C1421.4,504.4 1425.0,507.6 1428.7,508.8C1432.3,510.1 1435.9,509.7 1439.5,511.4C1443.2,513.0 1448.6,517.6 1450.4,518.8" stroke="#f0b416" stroke-width="2.6" fill="none" stroke-opacity="0.15"/>
<path d="M1015.8,517.5C1017.6,517.4 1023.0,516.6 1026.7,517.2C1030.3,517.7 1033.9,520.2 1037.5,520.8C1041.2,521.4 1044.8,520.9 1048.4,520.9C1052.0,520.9 1055.6,520.6 1059.3,520.8C1062.9,520.9 1066.5,522.5 1070.1,521.8C1073.7,521.0 1077.4,516.8 1081.0,516.4C1084.6,515.9 1088.2,518.5 1091.9,518.9C1095.5,519.2 1099.1,518.6 1102.7,518.4C1106.3,518.1 1110.0,517.7 1113.6,517.5C1117.2,517.3 1120.8,518.1 1124.5,516.9C1128.1,515.7 1131.7,511.1 1135.3,510.3C1138.9,509.6 1142.6,511.5 1146.2,512.3C1149.8,513.0 1153.4,514.6 1157.0,514.7C1160.7,514.9 1164.3,513.5 1167.9,513.2C1171.5,512.8 1175.2,512.3 1178.8,512.4C1182.4,512.6 1186.0,514.3 1189.6,514.1C1193.3,514.0 1196.9,510.7 1200.5,511.5C1204.1,512.3 1207.7,518.2 1211.4,519.1C1215.0,519.9 1218.6,516.6 1222.2,516.7C1225.9,516.8 1229.5,518.3 1233.1,519.6C1236.7,521.0 1240.3,524.3 1244.0,524.9C1247.6,525.5 1251.2,523.3 1254.8,523.3C1258.5,523.3 1262.1,524.7 1265.7,524.8C1269.3,524.9 1272.9,523.6 1276.6,523.9C1280.2,524.2 1283.8,526.4 1287.4,526.4C1291.0,526.4 1294.7,523.7 1298.3,524.0C1301.9,524.3 1305.5,527.9 1309.2,528.1C1312.8,528.3 1316.4,526.8 1320.0,525.3C1323.6,523.7 1327.3,520.3 1330.9,518.8C1334.5,517.4 1338.1,516.7 1341.8,516.5C1345.4,516.3 1349.0,517.4 1352.6,517.7C1356.2,517.9 1359.9,518.7 1363.5,517.9C1367.1,517.1 1370.7,512.2 1374.3,512.7C1378.0,513.1 1381.6,519.7 1385.2,520.5C1388.8,521.3 1392.5,518.4 1396.1,517.3C1399.7,516.3 1403.3,514.6 1406.9,514.3C1410.6,514.0 1414.2,514.3 1417.8,515.5C1421.4,516.8 1425.0,519.9 1428.7,521.5C1432.3,523.2 1435.9,526.1 1439.5,525.7C1443.2,525.2 1448.6,520.1 1450.4,519.0" stroke="#f0b416" stroke-width="2.6" fill="none" stroke-opacity="0.15"/>
<path d="M1015.8,514.8C1017.6,515.3 1023.0,519.3 1026.7,517.9C1030.3,516.5 1033.9,508.4 1037.5,506.2C1041.2,504.0 1044.8,504.1 1048.4,504.7C1052.0,505.3 1055.6,510.4 1059.3,509.7C1062.9,509.0 1066.5,501.1 1070.1,500.6C1073.7,500.1 1077.4,506.8 1081.0,506.6C1084.6,506.4 1088.2,500.1 1091.9,499.5C1095.5,499.0 1099.1,502.9 1102.7,503.1C1106.3,503.3 1110.0,499.4 1113.6,500.7C1117.2,502.1 1120.8,509.1 1124.5,511.0C1128.1,512.8 1131.7,512.0 1135.3,512.0C1138.9,512.1 1142.6,510.5 1146.2,511.3C1149.8,512.0 1153.4,515.7 1157.0,516.6C1160.7,517.5 1164.3,516.9 1167.9,516.5C1171.5,516.2 1175.2,515.2 1178.8,514.3C1182.4,513.5 1186.0,511.9 1189.6,511.4C1193.3,511.0 1196.9,512.6 1200.5,511.6C1204.1,510.5 1207.7,506.6 1211.4,505.2C1215.0,503.9 1218.6,503.7 1222.2,503.5C1225.9,503.3 1229.5,504.6 1233.1,504.1C1236.7,503.6 1240.3,499.9 1244.0,500.5C1247.6,501.0 1251.2,506.6 1254.8,507.4C1258.5,508.3 1262.1,504.7 1265.7,505.7C1269.3,506.7 1272.9,512.2 1276.6,513.3C1280.2,514.4 1283.8,511.2 1287.4,512.5C1291.0,513.9 1294.7,520.7 1298.3,521.4C1301.9,522.1 1305.5,517.4 1309.2,516.8C1312.8,516.1 1316.4,517.4 1320.0,517.4C1323.6,517.5 1327.3,517.3 1330.9,516.9C1334.5,516.5 1338.1,515.8 1341.8,515.0C1345.4,514.2 1349.0,512.6 1352.6,511.8C1356.2,511.1 1359.9,510.4 1363.5,510.6C1367.1,510.7 1370.7,513.2 1374.3,512.8C1378.0,512.4 1381.6,508.8 1385.2,508.2C1388.8,507.5 1392.5,508.3 1396.1,508.7C1399.7,509.1 1403.3,509.5 1406.9,510.4C1410.6,511.3 1414.2,513.6 1417.8,514.3C1421.4,515.0 1425.0,514.6 1428.7,514.7C1432.3,514.8 1435.9,514.1 1439.5,514.9C1443.2,515.7 1448.6,518.7 1450.4,519.5" stroke="#f0b416" stroke-width="2.6" fill="none" stroke-opacity="0.15"/>
<path d="M1015.8,501.9C1017.6,502.3 1023.0,503.0 1026.7,504.6C1030.3,506.3 1033.9,510.1 1037.5,511.8C1041.2,513.5 1044.8,514.3 1048.4,514.7C1052.0,515.0 1055.6,513.2 1059.3,513.9C1062.9,514.6 1066.5,518.5 1070.1,519.0C1073.7,519.5 1077.4,517.8 1081.0,516.8C1084.6,515.8 1088.2,514.1 1091.9,513.0C1095.5,511.8 1099.1,510.5 1102.7,509.8C1106.3,509.1 1110.0,509.7 1113.6,508.8C1117.2,507.8 1120.8,504.3 1124.5,504.1C1128.1,503.9 1131.7,507.0 1135.3,507.6C1138.9,508.1 1142.6,507.0 1146.2,507.4C1149.8,507.8 1153.4,508.6 1157.0,509.8C1160.7,510.9 1164.3,513.1 1167.9,514.2C1171.5,515.4 1175.2,515.2 1178.8,516.6C1182.4,517.9 1186.0,521.5 1189.6,522.4C1193.3,523.3 1196.9,522.6 1200.5,521.8C1204.1,521.1 1207.7,519.3 1211.4,517.6C1215.0,515.9 1218.6,513.5 1222.2,511.6C1225.9,509.7 1229.5,506.2 1233.1,506.2C1236.7,506.2 1240.3,511.4 1244.0,511.7C1247.6,512.1 1251.2,507.8 1254.8,508.1C1258.5,508.3 1262.1,511.8 1265.7,513.1C1269.3,514.4 1272.9,515.2 1276.6,516.0C1280.2,516.9 1283.8,517.9 1287.4,518.3C1291.0,518.7 1294.7,518.0 1298.3,518.4C1301.9,518.8 1305.5,520.9 1309.2,520.7C1312.8,520.5 1316.4,517.4 1320.0,517.4C1323.6,517.4 1327.3,521.4 1330.9,520.6C1334.5,519.8 1338.1,514.5 1341.8,512.6C1345.4,510.8 1349.0,510.1 1352.6,509.7C1356.2,509.3 1359.9,510.3 1363.5,510.3C1367.1,510.2 1370.7,508.8 1374.3,509.4C1378.0,510.0 1381.6,512.5 1385.2,514.0C1388.8,515.5 1392.5,517.5 1396.1,518.5C1399.7,519.6 1403.3,519.4 1406.9,520.2C1410.6,521.1 1414.2,524.3 1417.8,523.6C1421.4,522.8 1425.0,515.6 1428.7,515.6C1432.3,515.6 1435.9,523.6 1439.5,523.6C1443.2,523.7 1448.6,517.1 1450.4,515.8" stroke="#f0b416" stroke-width="2.6" fill="none" stroke-opacity="0.15"/>
<path d="M1015.8,500.0C1017.6,500.0 1023.0,499.3 1026.7,499.9C1030.3,500.6 1033.9,501.9 1037.5,503.9C1041.2,505.9 1044.8,511.0 1048.4,511.9C1052.0,512.8 1055.6,509.3 1059.3,509.2C1062.9,509.2 1066.5,510.9 1070.1,511.4C1073.7,511.9 1077.4,512.8 1081.0,512.3C1084.6,511.9 1088.2,508.7 1091.9,508.6C1095.5,508.5 1099.1,512.1 1102.7,511.8C1106.3,511.5 1110.0,508.2 1113.6,506.8C1117.2,505.4 1120.8,503.7 1124.5,503.5C1128.1,503.3 1131.7,506.4 1135.3,505.8C1138.9,505.1 1142.6,499.3 1146.2,499.6C1149.8,499.8 1153.4,505.6 1157.0,507.1C1160.7,508.6 1164.3,508.7 1167.9,508.7C1171.5,508.6 1175.2,505.9 1178.8,506.8C1182.4,507.7 1186.0,512.8 1189.6,514.0C1193.3,515.2 1196.9,513.2 1200.5,514.1C1204.1,515.0 1207.7,519.4 1211.4,519.6C1215.0,519.8 1218.6,515.7 1222.2,515.3C1225.9,514.9 1229.5,517.8 1233.1,517.1C1236.7,516.4 1240.3,511.7 1244.0,511.0C1247.6,510.3 1251.2,514.0 1254.8,513.1C1258.5,512.2 1262.1,506.7 1265.7,505.5C1269.3,504.3 1272.9,505.9 1276.6,505.8C1280.2,505.6 1283.8,504.6 1287.4,504.7C1291.0,504.8 1294.7,505.6 1298.3,506.2C1301.9,506.8 1305.5,506.6 1309.2,508.1C1312.8,509.5 1316.4,512.7 1320.0,514.8C1323.6,517.0 1327.3,520.8 1330.9,521.0C1334.5,521.3 1338.1,516.7 1341.8,516.5C1345.4,516.4 1349.0,519.8 1352.6,520.1C1356.2,520.4 1359.9,519.4 1363.5,518.4C1367.1,517.5 1370.7,514.5 1374.3,514.4C1378.0,514.4 1381.6,518.5 1385.2,518.1C1388.8,517.7 1392.5,513.6 1396.1,512.2C1399.7,510.8 1403.3,510.0 1406.9,509.6C1410.6,509.2 1414.2,510.2 1417.8,509.7C1421.4,509.1 1425.0,506.5 1428.7,506.4C1432.3,506.3 1435.9,508.1 1439.5,509.3C1443.2,510.5 1448.6,513.0 1450.4,513.7" stroke="#f0b416" stroke-width="2.6" fill="none" stroke-opacity="0.15"/>
<path d="M1015.8,512.9C1017.6,512.7 1023.0,511.0 1026.7,511.4C1030.3,511.8 1033.9,515.2 1037.5,515.3C1041.2,515.4 1044.8,512.9 1048.4,511.8C1052.0,510.6 1055.6,509.1 1059.3,508.6C1062.9,508.0 1066.5,508.4 1070.1,508.4C1073.7,508.5 1077.4,508.6 1081.0,509.1C1084.6,509.6 1088.2,510.8 1091.9,511.6C1095.5,512.3 1099.1,512.4 1102.7,513.8C1106.3,515.1 1110.0,518.7 1113.6,519.9C1117.2,521.2 1120.8,521.4 1124.5,521.3C1128.1,521.3 1131.7,519.4 1135.3,519.6C1138.9,519.7 1142.6,522.7 1146.2,522.3C1149.8,521.9 1153.4,517.2 1157.0,517.1C1160.7,517.0 1164.3,522.4 1167.9,521.8C1171.5,521.2 1175.2,514.9 1178.8,513.5C1182.4,512.1 1186.0,512.9 1189.6,513.4C1193.3,513.9 1196.9,517.4 1200.5,516.5C1204.1,515.7 1207.7,509.3 1211.4,508.4C1215.0,507.4 1218.6,509.9 1222.2,510.7C1225.9,511.5 1229.5,511.9 1233.1,513.2C1236.7,514.5 1240.3,517.4 1244.0,518.5C1247.6,519.5 1251.2,519.9 1254.8,519.7C1258.5,519.4 1262.1,516.2 1265.7,517.1C1269.3,518.0 1272.9,522.5 1276.6,525.1C1280.2,527.7 1283.8,532.8 1287.4,532.9C1291.0,533.0 1294.7,527.1 1298.3,525.9C1301.9,524.7 1305.5,526.4 1309.2,525.5C1312.8,524.6 1316.4,521.7 1320.0,520.6C1323.6,519.5 1327.3,519.3 1330.9,518.9C1334.5,518.4 1338.1,518.4 1341.8,517.9C1345.4,517.5 1349.0,517.3 1352.6,516.1C1356.2,514.9 1359.9,510.3 1363.5,510.5C1367.1,510.8 1370.7,517.5 1374.3,517.5C1378.0,517.4 1381.6,510.0 1385.2,510.2C1388.8,510.5 1392.5,516.9 1396.1,519.1C1399.7,521.3 1403.3,523.0 1406.9,523.3C1410.6,523.6 1414.2,521.0 1417.8,521.1C1421.4,521.1 1425.0,522.4 1428.7,523.7C1432.3,525.0 1435.9,528.8 1439.5,528.9C1443.2,529.0 1448.6,525.0 1450.4,524.2" stroke="#f0b416" stroke-width="2.6" fill="none" stroke-opacity="0.15"/>
<path d="M1015.8,516.0C1017.6,516.5 1023.0,518.7 1026.7,518.9C1030.3,519.1 1033.9,517.1 1037.5,517.2C1041.2,517.3 1044.8,518.1 1048.4,519.3C1052.0,520.5 1055.6,522.5 1059.3,524.4C1062.9,526.2 1066.5,530.1 1070.1,530.4C1073.7,530.8 1077.4,527.7 1081.0,526.5C1084.6,525.2 1088.2,524.1 1091.9,522.9C1095.5,521.7 1099.1,520.9 1102.7,519.4C1106.3,517.9 1110.0,514.1 1113.6,513.7C1117.2,513.3 1120.8,516.4 1124.5,516.9C1128.1,517.3 1131.7,516.5 1135.3,516.3C1138.9,516.1 1142.6,515.9 1146.2,515.5C1149.8,515.2 1153.4,513.0 1157.0,514.2C1160.7,515.4 1164.3,521.7 1167.9,522.6C1171.5,523.6 1175.2,518.3 1178.8,520.0C1182.4,521.8 1186.0,532.3 1189.6,533.2C1193.3,534.2 1196.9,526.2 1200.5,525.6C1204.1,525.0 1207.7,529.5 1211.4,529.4C1215.0,529.3 1218.6,526.3 1222.2,525.0C1225.9,523.8 1229.5,522.1 1233.1,521.9C1236.7,521.7 1240.3,524.4 1244.0,523.9C1247.6,523.3 1251.2,519.9 1254.8,518.6C1258.5,517.4 1262.1,517.0 1265.7,516.5C1269.3,516.0 1272.9,515.0 1276.6,515.8C1280.2,516.7 1283.8,520.0 1287.4,521.5C1291.0,522.9 1294.7,523.0 1298.3,524.5C1301.9,525.9 1305.5,530.6 1309.2,530.1C1312.8,529.6 1316.4,521.3 1320.0,521.3C1323.6,521.3 1327.3,528.6 1330.9,530.1C1334.5,531.6 1338.1,530.0 1341.8,530.4C1345.4,530.7 1349.0,533.5 1352.6,532.3C1356.2,531.2 1359.9,524.9 1363.5,523.6C1367.1,522.3 1370.7,525.6 1374.3,524.5C1378.0,523.4 1381.6,518.2 1385.2,516.9C1388.8,515.7 1392.5,516.6 1396.1,517.0C1399.7,517.4 1403.3,518.9 1406.9,519.2C1410.6,519.5 1414.2,517.8 1417.8,519.0C1421.4,520.2 1425.0,525.0 1428.7,526.5C1432.3,527.9 1435.9,526.8 1439.5,527.6C1443.2,528.4 1448.6,530.6 1450.4,531.1" stroke="#f0b416" stroke-width="2.6" fill="none" stroke-opacity="0.15"/>
<path d="M1015.8,511.6C1017.6,513.6 1023.0,522.2 1026.7,523.6C1030.3,525.1 1033.9,520.3 1037.5,520.2C1041.2,520.2 1044.8,523.1 1048.4,523.6C1052.0,524.1 1055.6,523.9 1059.3,523.3C1062.9,522.7 1066.5,521.0 1070.1,520.0C1073.7,519.0 1077.4,518.2 1081.0,517.4C1084.6,516.6 1088.2,515.7 1091.9,515.1C1095.5,514.4 1099.1,514.5 1102.7,513.6C1106.3,512.8 1110.0,510.3 1113.6,509.9C1117.2,509.5 1120.8,509.5 1124.5,511.0C1128.1,512.6 1131.7,518.0 1135.3,519.3C1138.9,520.6 1142.6,517.8 1146.2,518.7C1149.8,519.7 1153.4,523.7 1157.0,525.0C1160.7,526.3 1164.3,526.9 1167.9,526.6C1171.5,526.3 1175.2,524.2 1178.8,523.4C1182.4,522.6 1186.0,522.6 1189.6,521.9C1193.3,521.1 1196.9,519.3 1200.5,518.7C1204.1,518.1 1207.7,518.8 1211.4,518.0C1215.0,517.3 1218.6,514.5 1222.2,514.0C1225.9,513.6 1229.5,515.4 1233.1,515.4C1236.7,515.3 1240.3,513.4 1244.0,513.5C1247.6,513.6 1251.2,515.2 1254.8,515.8C1258.5,516.3 1262.1,515.7 1265.7,516.6C1269.3,517.5 1272.9,519.0 1276.6,520.9C1280.2,522.7 1283.8,526.8 1287.4,527.7C1291.0,528.6 1294.7,526.7 1298.3,526.3C1301.9,525.8 1305.5,526.4 1309.2,525.2C1312.8,523.9 1316.4,521.0 1320.0,518.7C1323.6,516.4 1327.3,512.4 1330.9,511.4C1334.5,510.5 1338.1,511.5 1341.8,513.0C1345.4,514.6 1349.0,519.5 1352.6,520.8C1356.2,522.0 1359.9,520.0 1363.5,520.5C1367.1,521.0 1370.7,523.6 1374.3,524.0C1378.0,524.4 1381.6,522.4 1385.2,522.8C1388.8,523.3 1392.5,526.1 1396.1,526.7C1399.7,527.3 1403.3,527.5 1406.9,526.6C1410.6,525.8 1414.2,521.7 1417.8,521.5C1421.4,521.4 1425.0,525.4 1428.7,525.5C1432.3,525.7 1435.9,524.5 1439.5,522.3C1443.2,520.1 1448.6,514.0 1450.4,512.4" stroke="#f0b416" stroke-width="2.6" fill="none" stroke-opacity="0.15"/>
<path d="M1015.8,501.9C1017.6,503.0 1023.0,507.7 1026.7,508.4C1030.3,509.1 1033.9,505.8 1037.5,506.1C1041.2,506.4 1044.8,509.6 1048.4,510.2C1052.0,510.8 1055.6,509.5 1059.3,509.7C1062.9,509.9 1066.5,511.6 1070.1,511.6C1073.7,511.6 1077.4,510.6 1081.0,509.6C1084.6,508.6 1088.2,507.9 1091.9,505.7C1095.5,503.5 1099.1,496.3 1102.7,496.4C1106.3,496.6 1110.0,505.1 1113.6,506.4C1117.2,507.8 1120.8,504.2 1124.5,504.7C1128.1,505.2 1131.7,508.3 1135.3,509.4C1138.9,510.6 1142.6,510.4 1146.2,511.3C1149.8,512.2 1153.4,514.9 1157.0,514.7C1160.7,514.5 1164.3,511.7 1167.9,510.1C1171.5,508.6 1175.2,506.3 1178.8,505.4C1182.4,504.4 1186.0,504.6 1189.6,504.3C1193.3,504.0 1196.9,503.7 1200.5,503.8C1204.1,503.9 1207.7,503.7 1211.4,504.9C1215.0,506.0 1218.6,509.5 1222.2,510.9C1225.9,512.2 1229.5,512.3 1233.1,513.1C1236.7,514.0 1240.3,515.7 1244.0,515.8C1247.6,515.9 1251.2,515.3 1254.8,513.9C1258.5,512.6 1262.1,509.5 1265.7,507.9C1269.3,506.2 1272.9,504.2 1276.6,503.9C1280.2,503.5 1283.8,505.8 1287.4,505.6C1291.0,505.4 1294.7,502.7 1298.3,502.9C1301.9,503.0 1305.5,505.4 1309.2,506.5C1312.8,507.7 1316.4,508.2 1320.0,509.7C1323.6,511.1 1327.3,514.3 1330.9,515.3C1334.5,516.3 1338.1,515.8 1341.8,515.9C1345.4,516.0 1349.0,516.5 1352.6,516.0C1356.2,515.6 1359.9,514.9 1363.5,513.1C1367.1,511.2 1370.7,506.8 1374.3,505.0C1378.0,503.2 1381.6,502.1 1385.2,502.1C1388.8,502.1 1392.5,503.8 1396.1,505.0C1399.7,506.2 1403.3,507.8 1406.9,509.3C1410.6,510.9 1414.2,512.6 1417.8,514.1C1421.4,515.7 1425.0,517.5 1428.7,518.8C1432.3,520.2 1435.9,523.2 1439.5,522.3C1443.2,521.3 1448.6,514.6 1450.4,513.1" stroke="#f0b416" stroke-width="2.6" fill="none" stroke-opacity="0.15"/>
<path d="M1015.8,503.5C1017.6,504.6 1023.0,509.9 1026.7,510.0C1030.3,510.2 1033.9,504.5 1037.5,504.6C1041.2,504.7 1044.8,510.1 1048.4,510.5C1052.0,510.9 1055.6,506.5 1059.3,507.0C1062.9,507.6 1066.5,513.5 1070.1,513.8C1073.7,514.2 1077.4,510.3 1081.0,509.1C1084.6,508.0 1088.2,508.0 1091.9,506.9C1095.5,505.8 1099.1,503.2 1102.7,502.5C1106.3,501.8 1110.0,502.2 1113.6,502.7C1117.2,503.2 1120.8,505.4 1124.5,505.6C1128.1,505.8 1131.7,502.9 1135.3,504.1C1138.9,505.3 1142.6,510.9 1146.2,512.7C1149.8,514.5 1153.4,514.9 1157.0,515.0C1160.7,515.1 1164.3,513.4 1167.9,513.4C1171.5,513.4 1175.2,515.4 1178.8,515.2C1182.4,514.9 1186.0,513.5 1189.6,512.0C1193.3,510.6 1196.9,507.6 1200.5,506.5C1204.1,505.5 1207.7,505.6 1211.4,505.7C1215.0,505.8 1218.6,507.1 1222.2,507.1C1225.9,507.0 1229.5,505.1 1233.1,505.5C1236.7,505.8 1240.3,508.5 1244.0,508.9C1247.6,509.3 1251.2,506.2 1254.8,507.7C1258.5,509.3 1262.1,517.0 1265.7,518.1C1269.3,519.1 1272.9,514.1 1276.6,514.0C1280.2,513.9 1283.8,517.6 1287.4,517.6C1291.0,517.5 1294.7,514.9 1298.3,513.7C1301.9,512.4 1305.5,511.4 1309.2,510.1C1312.8,508.8 1316.4,506.9 1320.0,505.8C1323.6,504.6 1327.3,503.9 1330.9,503.3C1334.5,502.7 1338.1,500.8 1341.8,502.2C1345.4,503.6 1349.0,510.1 1352.6,511.5C1356.2,512.8 1359.9,509.7 1363.5,510.2C1367.1,510.6 1370.7,513.2 1374.3,514.2C1378.0,515.2 1381.6,515.2 1385.2,516.1C1388.8,516.9 1392.5,519.9 1396.1,519.3C1399.7,518.7 1403.3,513.6 1406.9,512.3C1410.6,511.0 1414.2,512.2 1417.8,511.4C1421.4,510.6 1425.0,507.9 1428.7,507.4C1432.3,506.8 1435.9,508.0 1439.5,507.9C1443.2,507.7 1448.6,506.8 1450.4,506.6" stroke="#f0b416" stroke-width="2.6" fill="none" stroke-opacity="0.15"/>
<path d="M1015.8,504.0C1017.6,503.8 1023.0,502.1 1026.7,502.7C1030.3,503.2 1033.9,507.9 1037.5,507.2C1041.2,506.5 1044.8,499.1 1048.4,498.4C1052.0,497.8 1055.6,503.5 1059.3,503.1C1062.9,502.7 1066.5,497.4 1070.1,496.0C1073.7,494.6 1077.4,495.3 1081.0,494.7C1084.6,494.1 1088.2,492.2 1091.9,492.6C1095.5,492.9 1099.1,495.6 1102.7,497.1C1106.3,498.6 1110.0,500.2 1113.6,501.5C1117.2,502.9 1120.8,504.0 1124.5,505.3C1128.1,506.6 1131.7,509.2 1135.3,509.3C1138.9,509.5 1142.6,506.1 1146.2,506.2C1149.8,506.2 1153.4,509.0 1157.0,509.7C1160.7,510.4 1164.3,511.2 1167.9,510.5C1171.5,509.8 1175.2,506.3 1178.8,505.6C1182.4,505.0 1186.0,507.0 1189.6,506.5C1193.3,506.1 1196.9,504.0 1200.5,503.1C1204.1,502.1 1207.7,502.4 1211.4,500.9C1215.0,499.4 1218.6,495.2 1222.2,494.2C1225.9,493.2 1229.5,493.7 1233.1,494.7C1236.7,495.8 1240.3,498.4 1244.0,500.3C1247.6,502.3 1251.2,505.7 1254.8,506.4C1258.5,507.1 1262.1,504.3 1265.7,504.6C1269.3,504.8 1272.9,507.1 1276.6,507.9C1280.2,508.7 1283.8,509.1 1287.4,509.4C1291.0,509.7 1294.7,509.4 1298.3,509.8C1301.9,510.2 1305.5,512.2 1309.2,511.7C1312.8,511.2 1316.4,508.1 1320.0,506.9C1323.6,505.7 1327.3,505.2 1330.9,504.7C1334.5,504.2 1338.1,503.9 1341.8,503.7C1345.4,503.4 1349.0,503.3 1352.6,503.0C1356.2,502.7 1359.9,502.6 1363.5,501.9C1367.1,501.2 1370.7,498.4 1374.3,498.9C1378.0,499.4 1381.6,503.8 1385.2,504.8C1388.8,505.8 1392.5,504.0 1396.1,504.8C1399.7,505.5 1403.3,507.7 1406.9,509.3C1410.6,510.8 1414.2,513.5 1417.8,513.8C1421.4,514.0 1425.0,510.9 1428.7,510.8C1432.3,510.7 1435.9,513.1 1439.5,513.5C1443.2,513.8 1448.6,513.1 1450.4,513.0" stroke="#f0b416" stroke-width="2.6" fill="none" stroke-opacity="0.15"/>
<path d="M1015.8,500.5C1017.6,499.6 1023.0,495.0 1026.7,495.1C1030.3,495.3 1033.9,500.8 1037.5,501.3C1041.2,501.9 1044.8,498.3 1048.4,498.3C1052.0,498.4 1055.6,501.2 1059.3,501.6C1062.9,502.0 1066.5,500.4 1070.1,500.7C1073.7,500.9 1077.4,502.2 1081.0,503.2C1084.6,504.2 1088.2,506.4 1091.9,506.4C1095.5,506.5 1099.1,503.0 1102.7,503.5C1106.3,504.1 1110.0,508.6 1113.6,509.8C1117.2,511.1 1120.8,511.0 1124.5,511.1C1128.1,511.2 1131.7,510.4 1135.3,510.4C1138.9,510.4 1142.6,511.5 1146.2,511.0C1149.8,510.4 1153.4,507.3 1157.0,507.2C1160.7,507.1 1164.3,510.9 1167.9,510.4C1171.5,509.8 1175.2,505.5 1178.8,504.0C1182.4,502.5 1186.0,502.0 1189.6,501.1C1193.3,500.1 1196.9,498.3 1200.5,498.3C1204.1,498.3 1207.7,501.3 1211.4,500.9C1215.0,500.6 1218.6,496.0 1222.2,496.1C1225.9,496.3 1229.5,500.9 1233.1,501.7C1236.7,502.6 1240.3,500.3 1244.0,501.3C1247.6,502.2 1251.2,506.4 1254.8,507.2C1258.5,508.0 1262.1,505.9 1265.7,506.0C1269.3,506.2 1272.9,508.4 1276.6,508.1C1280.2,507.8 1283.8,504.2 1287.4,504.3C1291.0,504.4 1294.7,507.0 1298.3,508.7C1301.9,510.3 1305.5,513.9 1309.2,514.4C1312.8,514.8 1316.4,511.7 1320.0,511.3C1323.6,510.9 1327.3,511.6 1330.9,512.0C1334.5,512.4 1338.1,513.7 1341.8,513.7C1345.4,513.8 1349.0,512.7 1352.6,512.5C1356.2,512.2 1359.9,512.4 1363.5,512.2C1367.1,512.0 1370.7,511.2 1374.3,511.3C1378.0,511.4 1381.6,513.5 1385.2,512.7C1388.8,511.9 1392.5,508.6 1396.1,506.7C1399.7,504.9 1403.3,502.8 1406.9,501.8C1410.6,500.7 1414.2,499.9 1417.8,500.2C1421.4,500.6 1425.0,503.1 1428.7,503.9C1432.3,504.6 1435.9,504.9 1439.5,504.9C1443.2,505.0 1448.6,504.2 1450.4,504.1" stroke="#f0b416" stroke-width="2.6" fill="none" stroke-opacity="0.15"/>
<path d="M1015.8,496.4C1017.6,496.6 1023.0,497.4 1026.7,497.3C1030.3,497.2 1033.9,495.4 1037.5,495.8C1041.2,496.1 1044.8,497.9 1048.4,499.3C1052.0,500.6 1055.6,503.4 1059.3,503.9C1062.9,504.4 1066.5,502.5 1070.1,502.4C1073.7,502.2 1077.4,501.8 1081.0,503.0C1084.6,504.3 1088.2,509.0 1091.9,510.0C1095.5,511.0 1099.1,509.6 1102.7,509.2C1106.3,508.8 1110.0,507.3 1113.6,507.6C1117.2,507.9 1120.8,510.3 1124.5,510.8C1128.1,511.3 1131.7,512.1 1135.3,510.7C1138.9,509.3 1142.6,503.6 1146.2,502.4C1149.8,501.2 1153.4,503.7 1157.0,503.4C1160.7,503.1 1164.3,500.7 1167.9,500.8C1171.5,500.9 1175.2,504.6 1178.8,503.8C1182.4,503.0 1186.0,496.0 1189.6,495.9C1193.3,495.9 1196.9,502.8 1200.5,503.6C1204.1,504.5 1207.7,501.8 1211.4,501.0C1215.0,500.2 1218.6,499.2 1222.2,498.9C1225.9,498.7 1229.5,497.9 1233.1,499.3C1236.7,500.7 1240.3,505.7 1244.0,507.3C1247.6,509.0 1251.2,508.8 1254.8,509.1C1258.5,509.4 1262.1,508.0 1265.7,509.2C1269.3,510.4 1272.9,516.0 1276.6,516.3C1280.2,516.6 1283.8,511.7 1287.4,510.8C1291.0,510.0 1294.7,510.8 1298.3,511.2C1301.9,511.5 1305.5,513.3 1309.2,512.9C1312.8,512.6 1316.4,510.1 1320.0,509.0C1323.6,507.9 1327.3,507.0 1330.9,506.4C1334.5,505.8 1338.1,506.0 1341.8,505.4C1345.4,504.9 1349.0,504.0 1352.6,503.0C1356.2,501.9 1359.9,499.0 1363.5,499.0C1367.1,499.1 1370.7,502.9 1374.3,503.3C1378.0,503.8 1381.6,501.7 1385.2,501.9C1388.8,502.1 1392.5,504.6 1396.1,504.7C1399.7,504.8 1403.3,501.9 1406.9,502.6C1410.6,503.2 1414.2,507.4 1417.8,508.5C1421.4,509.5 1425.0,508.2 1428.7,508.7C1432.3,509.3 1435.9,511.0 1439.5,511.9C1443.2,512.7 1448.6,513.5 1450.4,513.8" stroke="#f0b416" stroke-width="2.6" fill="none" stroke-opacity="0.15"/>
<path d="M1015.8,494.3C1017.6,493.4 1023.0,489.1 1026.7,488.9C1030.3,488.6 1033.9,492.2 1037.5,492.8C1041.2,493.3 1044.8,491.7 1048.4,492.3C1052.0,492.9 1055.6,494.5 1059.3,496.3C1062.9,498.2 1066.5,502.2 1070.1,503.4C1073.7,504.6 1077.4,503.3 1081.0,503.6C1084.6,503.8 1088.2,505.0 1091.9,504.8C1095.5,504.7 1099.1,504.2 1102.7,502.7C1106.3,501.3 1110.0,496.9 1113.6,496.1C1117.2,495.3 1120.8,497.5 1124.5,497.9C1128.1,498.2 1131.7,498.1 1135.3,498.2C1138.9,498.2 1142.6,498.4 1146.2,498.3C1149.8,498.1 1153.4,496.7 1157.0,497.2C1160.7,497.7 1164.3,500.2 1167.9,501.2C1171.5,502.2 1175.2,502.7 1178.8,503.2C1182.4,503.8 1186.0,504.6 1189.6,504.4C1193.3,504.1 1196.9,501.9 1200.5,501.8C1204.1,501.7 1207.7,504.0 1211.4,503.8C1215.0,503.5 1218.6,500.9 1222.2,500.2C1225.9,499.6 1229.5,500.8 1233.1,499.8C1236.7,498.8 1240.3,495.6 1244.0,494.3C1247.6,493.0 1251.2,492.1 1254.8,492.1C1258.5,492.1 1262.1,491.8 1265.7,494.1C1269.3,496.4 1272.9,504.4 1276.6,505.8C1280.2,507.2 1283.8,502.8 1287.4,502.4C1291.0,502.0 1294.7,502.8 1298.3,503.4C1301.9,503.9 1305.5,504.8 1309.2,505.9C1312.8,507.0 1316.4,510.5 1320.0,510.2C1323.6,509.9 1327.3,506.1 1330.9,504.1C1334.5,502.2 1338.1,499.8 1341.8,498.5C1345.4,497.2 1349.0,496.4 1352.6,496.5C1356.2,496.6 1359.9,498.4 1363.5,499.1C1367.1,499.9 1370.7,501.0 1374.3,501.1C1378.0,501.2 1381.6,498.5 1385.2,499.8C1388.8,501.2 1392.5,508.4 1396.1,509.3C1399.7,510.2 1403.3,505.2 1406.9,505.2C1410.6,505.3 1414.2,509.2 1417.8,509.6C1421.4,510.0 1425.0,507.8 1428.7,507.6C1432.3,507.4 1435.9,509.4 1439.5,508.7C1443.2,508.0 1448.6,504.3 1450.4,503.4" stroke="#f0b416" stroke-width="2.6" fill="none" stroke-opacity="0.15"/>
<path d="M1015.8,510.8C1017.6,511.1 1023.0,513.0 1026.7,512.7C1030.3,512.5 1033.9,510.5 1037.5,509.2C1041.2,508.0 1044.8,506.6 1048.4,505.1C1052.0,503.7 1055.6,501.3 1059.3,500.5C1062.9,499.7 1066.5,500.4 1070.1,500.3C1073.7,500.1 1077.4,499.2 1081.0,499.5C1084.6,499.8 1088.2,500.9 1091.9,502.2C1095.5,503.4 1099.1,504.9 1102.7,507.3C1106.3,509.6 1110.0,515.8 1113.6,516.1C1117.2,516.4 1120.8,510.1 1124.5,508.9C1128.1,507.8 1131.7,509.9 1135.3,509.4C1138.9,508.9 1142.6,506.9 1146.2,506.1C1149.8,505.2 1153.4,505.2 1157.0,504.1C1160.7,503.0 1164.3,500.2 1167.9,499.7C1171.5,499.2 1175.2,500.3 1178.8,501.1C1182.4,501.9 1186.0,503.7 1189.6,504.5C1193.3,505.4 1196.9,504.0 1200.5,506.0C1204.1,507.9 1207.7,515.3 1211.4,516.3C1215.0,517.3 1218.6,512.6 1222.2,512.0C1225.9,511.5 1229.5,513.9 1233.1,513.1C1236.7,512.3 1240.3,509.6 1244.0,507.3C1247.6,505.0 1251.2,499.7 1254.8,499.2C1258.5,498.7 1262.1,503.6 1265.7,504.4C1269.3,505.1 1272.9,502.9 1276.6,503.6C1280.2,504.3 1283.8,507.8 1287.4,508.7C1291.0,509.6 1294.7,507.8 1298.3,509.1C1301.9,510.4 1305.5,515.0 1309.2,516.5C1312.8,517.9 1316.4,519.0 1320.0,517.8C1323.6,516.6 1327.3,511.1 1330.9,509.4C1334.5,507.6 1338.1,508.3 1341.8,507.5C1345.4,506.7 1349.0,505.6 1352.6,504.4C1356.2,503.3 1359.9,500.0 1363.5,500.7C1367.1,501.3 1370.7,506.4 1374.3,508.1C1378.0,509.9 1381.6,510.2 1385.2,511.1C1388.8,512.0 1392.5,513.1 1396.1,513.7C1399.7,514.3 1403.3,514.3 1406.9,514.6C1410.6,515.0 1414.2,516.7 1417.8,515.6C1421.4,514.5 1425.0,510.6 1428.7,508.2C1432.3,505.8 1435.9,501.7 1439.5,501.3C1443.2,500.8 1448.6,504.9 1450.4,505.7" stroke="#f0b416" stroke-width="2.6" fill="none" stroke-opacity="0.15"/>
<path d="M1015.8,498.1C1017.6,496.9 1023.0,491.9 1026.7,490.9C1030.3,490.0 1033.9,491.7 1037.5,492.4C1041.2,493.2 1044.8,494.0 1048.4,495.3C1052.0,496.6 1055.6,499.2 1059.3,500.2C1062.9,501.2 1066.5,501.5 1070.1,501.5C1073.7,501.4 1077.4,499.9 1081.0,499.8C1084.6,499.8 1088.2,500.4 1091.9,501.1C1095.5,501.7 1099.1,503.6 1102.7,503.7C1106.3,503.8 1110.0,502.4 1113.6,501.6C1117.2,500.7 1120.8,499.5 1124.5,498.8C1128.1,498.1 1131.7,499.0 1135.3,497.3C1138.9,495.6 1142.6,489.4 1146.2,488.5C1149.8,487.6 1153.4,490.8 1157.0,491.9C1160.7,493.1 1164.3,494.2 1167.9,495.7C1171.5,497.1 1175.2,499.0 1178.8,500.6C1182.4,502.2 1186.0,505.1 1189.6,505.3C1193.3,505.5 1196.9,502.1 1200.5,501.8C1204.1,501.6 1207.7,502.9 1211.4,503.7C1215.0,504.5 1218.6,507.5 1222.2,506.7C1225.9,505.9 1229.5,500.1 1233.1,499.1C1236.7,498.2 1240.3,502.0 1244.0,501.1C1247.6,500.3 1251.2,494.9 1254.8,494.2C1258.5,493.6 1262.1,496.7 1265.7,497.2C1269.3,497.6 1272.9,496.7 1276.6,496.7C1280.2,496.7 1283.8,496.3 1287.4,497.0C1291.0,497.6 1294.7,499.7 1298.3,500.6C1301.9,501.5 1305.5,501.1 1309.2,502.5C1312.8,503.9 1316.4,509.0 1320.0,509.2C1323.6,509.4 1327.3,504.6 1330.9,503.5C1334.5,502.4 1338.1,502.6 1341.8,502.5C1345.4,502.4 1349.0,503.6 1352.6,503.0C1356.2,502.3 1359.9,499.2 1363.5,498.6C1367.1,498.0 1370.7,499.6 1374.3,499.3C1378.0,499.0 1381.6,496.7 1385.2,497.0C1388.8,497.3 1392.5,500.5 1396.1,501.0C1399.7,501.6 1403.3,499.9 1406.9,500.3C1410.6,500.7 1414.2,502.9 1417.8,503.5C1421.4,504.1 1425.0,503.3 1428.7,503.9C1432.3,504.4 1435.9,506.2 1439.5,506.7C1443.2,507.3 1448.6,507.0 1450.4,507.1" stroke="#f0b416" stroke-width="2.6" fill="none" stroke-opacity="0.15"/>
<path d="M1015.8,505.6C1017.6,506.6 1023.0,511.3 1026.7,511.4C1030.3,511.6 1033.9,506.1 1037.5,506.6C1041.2,507.2 1044.8,513.3 1048.4,514.6C1052.0,515.8 1055.6,514.0 1059.3,514.0C1062.9,514.0 1066.5,514.0 1070.1,514.6C1073.7,515.1 1077.4,517.6 1081.0,517.3C1084.6,517.0 1088.2,512.8 1091.9,512.8C1095.5,512.8 1099.1,517.4 1102.7,517.4C1106.3,517.4 1110.0,513.6 1113.6,512.8C1117.2,512.0 1120.8,512.3 1124.5,512.8C1128.1,513.2 1131.7,515.7 1135.3,515.5C1138.9,515.3 1142.6,512.9 1146.2,511.5C1149.8,510.2 1153.4,507.8 1157.0,507.5C1160.7,507.2 1164.3,509.9 1167.9,509.9C1171.5,509.9 1175.2,507.8 1178.8,507.6C1182.4,507.3 1186.0,508.5 1189.6,508.4C1193.3,508.3 1196.9,506.7 1200.5,506.7C1204.1,506.7 1207.7,507.9 1211.4,508.2C1215.0,508.4 1218.6,508.3 1222.2,508.2C1225.9,508.1 1229.5,507.5 1233.1,507.5C1236.7,507.6 1240.3,507.5 1244.0,508.5C1247.6,509.6 1251.2,512.6 1254.8,513.8C1258.5,515.0 1262.1,515.3 1265.7,515.7C1269.3,516.0 1272.9,515.1 1276.6,515.8C1280.2,516.6 1283.8,518.9 1287.4,520.1C1291.0,521.2 1294.7,523.2 1298.3,522.7C1301.9,522.3 1305.5,517.6 1309.2,517.5C1312.8,517.4 1316.4,522.3 1320.0,522.1C1323.6,521.9 1327.3,516.8 1330.9,516.4C1334.5,515.9 1338.1,520.5 1341.8,519.6C1345.4,518.7 1349.0,511.4 1352.6,510.9C1356.2,510.3 1359.9,516.4 1363.5,516.2C1367.1,516.1 1370.7,511.5 1374.3,509.9C1378.0,508.4 1381.6,506.6 1385.2,507.1C1388.8,507.5 1392.5,512.6 1396.1,512.5C1399.7,512.4 1403.3,506.3 1406.9,506.3C1410.6,506.3 1414.2,511.0 1417.8,512.6C1421.4,514.3 1425.0,516.3 1428.7,516.1C1432.3,516.0 1435.9,512.0 1439.5,511.6C1443.2,511.2 1448.6,513.3 1450.4,513.7" stroke="#f0b416" stroke-width="2.6" fill="none" stroke-opacity="0.15"/>
<path d="M1015.8,521.0C1017.6,520.1 1023.0,516.9 1026.7,516.0C1030.3,515.1 1033.9,515.2 1037.5,515.6C1041.2,516.0 1044.8,518.8 1048.4,518.6C1052.0,518.4 1055.6,516.3 1059.3,514.3C1062.9,512.4 1066.5,508.3 1070.1,506.9C1073.7,505.5 1077.4,505.5 1081.0,505.8C1084.6,506.1 1088.2,508.5 1091.9,508.9C1095.5,509.3 1099.1,509.0 1102.7,508.3C1106.3,507.6 1110.0,505.5 1113.6,504.5C1117.2,503.5 1120.8,502.5 1124.5,502.3C1128.1,502.0 1131.7,502.1 1135.3,503.1C1138.9,504.2 1142.6,507.9 1146.2,508.5C1149.8,509.0 1153.4,506.4 1157.0,506.3C1160.7,506.3 1164.3,507.9 1167.9,508.0C1171.5,508.1 1175.2,506.5 1178.8,506.7C1182.4,506.9 1186.0,508.3 1189.6,509.4C1193.3,510.4 1196.9,512.4 1200.5,513.0C1204.1,513.6 1207.7,512.1 1211.4,513.0C1215.0,513.9 1218.6,518.1 1222.2,518.3C1225.9,518.6 1229.5,514.2 1233.1,514.3C1236.7,514.5 1240.3,519.0 1244.0,519.4C1247.6,519.9 1251.2,517.8 1254.8,517.0C1258.5,516.2 1262.1,514.6 1265.7,514.8C1269.3,514.9 1272.9,517.8 1276.6,518.0C1280.2,518.1 1283.8,516.0 1287.4,515.8C1291.0,515.6 1294.7,517.6 1298.3,516.7C1301.9,515.8 1305.5,511.5 1309.2,510.3C1312.8,509.1 1316.4,509.7 1320.0,509.5C1323.6,509.4 1327.3,509.7 1330.9,509.3C1334.5,508.9 1338.1,506.2 1341.8,506.9C1345.4,507.6 1349.0,513.2 1352.6,513.6C1356.2,514.0 1359.9,509.8 1363.5,509.2C1367.1,508.7 1370.7,509.7 1374.3,510.3C1378.0,510.9 1381.6,512.6 1385.2,512.9C1388.8,513.2 1392.5,512.4 1396.1,512.3C1399.7,512.1 1403.3,510.8 1406.9,511.9C1410.6,513.1 1414.2,517.6 1417.8,519.3C1421.4,521.0 1425.0,521.6 1428.7,522.2C1432.3,522.7 1435.9,522.6 1439.5,522.5C1443.2,522.3 1448.6,521.5 1450.4,521.3" stroke="#f0b416" stroke-width="2.6" fill="none" stroke-opacity="0.15"/>
<path d="M1015.8,504.9C1017.6,503.8 1023.0,499.3 1026.7,498.1C1030.3,496.9 1033.9,497.7 1037.5,497.8C1041.2,497.8 1044.8,498.5 1048.4,498.3C1052.0,498.1 1055.6,495.2 1059.3,496.5C1062.9,497.7 1066.5,503.8 1070.1,505.9C1073.7,508.0 1077.4,508.4 1081.0,509.0C1084.6,509.7 1088.2,509.7 1091.9,509.8C1095.5,509.8 1099.1,508.8 1102.7,509.4C1106.3,510.1 1110.0,514.0 1113.6,513.6C1117.2,513.2 1120.8,508.1 1124.5,506.9C1128.1,505.7 1131.7,507.4 1135.3,506.3C1138.9,505.1 1142.6,501.7 1146.2,500.2C1149.8,498.7 1153.4,497.1 1157.0,497.2C1160.7,497.4 1164.3,500.1 1167.9,501.3C1171.5,502.4 1175.2,503.2 1178.8,504.1C1182.4,505.0 1186.0,504.5 1189.6,506.8C1193.3,509.1 1196.9,517.3 1200.5,518.0C1204.1,518.7 1207.7,512.0 1211.4,511.0C1215.0,510.0 1218.6,511.9 1222.2,512.0C1225.9,512.0 1229.5,511.8 1233.1,511.5C1236.7,511.2 1240.3,510.8 1244.0,510.2C1247.6,509.6 1251.2,508.9 1254.8,507.8C1258.5,506.8 1262.1,505.3 1265.7,503.9C1269.3,502.5 1272.9,499.5 1276.6,499.4C1280.2,499.4 1283.8,503.1 1287.4,503.6C1291.0,504.1 1294.7,500.5 1298.3,502.5C1301.9,504.6 1305.5,513.9 1309.2,515.8C1312.8,517.6 1316.4,514.1 1320.0,513.8C1323.6,513.5 1327.3,513.9 1330.9,514.1C1334.5,514.3 1338.1,514.6 1341.8,515.2C1345.4,515.8 1349.0,518.2 1352.6,517.7C1356.2,517.3 1359.9,514.7 1363.5,512.4C1367.1,510.2 1370.7,505.2 1374.3,504.5C1378.0,503.8 1381.6,508.0 1385.2,508.4C1388.8,508.8 1392.5,506.8 1396.1,506.7C1399.7,506.7 1403.3,507.6 1406.9,508.0C1410.6,508.5 1414.2,509.0 1417.8,509.3C1421.4,509.6 1425.0,509.2 1428.7,509.8C1432.3,510.5 1435.9,511.2 1439.5,513.2C1443.2,515.2 1448.6,520.3 1450.4,521.7" stroke="#f0b416" stroke-width="2.6" fill="none" stroke-opacity="0.15"/>
<path d="M1015.8,494.8C1017.6,494.8 1023.0,493.9 1026.7,495.0C1030.3,496.1 1033.9,499.8 1037.5,501.2C1041.2,502.6 1044.8,502.7 1048.4,503.6C1052.0,504.6 1055.6,506.0 1059.3,506.8C1062.9,507.6 1066.5,508.7 1070.1,508.5C1073.7,508.2 1077.4,506.9 1081.0,505.4C1084.6,503.9 1088.2,500.6 1091.9,499.3C1095.5,497.9 1099.1,497.1 1102.7,497.0C1106.3,497.0 1110.0,500.3 1113.6,498.9C1117.2,497.4 1120.8,488.1 1124.5,488.2C1128.1,488.3 1131.7,497.5 1135.3,499.5C1138.9,501.6 1142.6,499.6 1146.2,500.4C1149.8,501.2 1153.4,503.6 1157.0,504.4C1160.7,505.2 1164.3,504.5 1167.9,505.2C1171.5,505.8 1175.2,508.4 1178.8,508.3C1182.4,508.2 1186.0,506.3 1189.6,504.4C1193.3,502.5 1196.9,497.9 1200.5,497.0C1204.1,496.0 1207.7,498.1 1211.4,498.6C1215.0,499.0 1218.6,499.9 1222.2,499.5C1225.9,499.1 1229.5,495.8 1233.1,496.2C1236.7,496.5 1240.3,500.1 1244.0,501.5C1247.6,502.8 1251.2,503.3 1254.8,504.2C1258.5,505.0 1262.1,505.7 1265.7,506.4C1269.3,507.1 1272.9,507.7 1276.6,508.2C1280.2,508.7 1283.8,510.2 1287.4,509.5C1291.0,508.9 1294.7,505.4 1298.3,504.4C1301.9,503.4 1305.5,503.7 1309.2,503.5C1312.8,503.2 1316.4,504.3 1320.0,503.0C1323.6,501.8 1327.3,496.6 1330.9,496.0C1334.5,495.5 1338.1,499.5 1341.8,499.9C1345.4,500.4 1349.0,497.6 1352.6,498.9C1356.2,500.1 1359.9,505.9 1363.5,507.4C1367.1,508.9 1370.7,507.3 1374.3,507.8C1378.0,508.2 1381.6,508.5 1385.2,510.0C1388.8,511.5 1392.5,516.6 1396.1,516.8C1399.7,517.0 1403.3,512.8 1406.9,511.1C1410.6,509.3 1414.2,508.8 1417.8,506.5C1421.4,504.3 1425.0,497.7 1428.7,497.3C1432.3,497.0 1435.9,504.3 1439.5,504.5C1443.2,504.8 1448.6,499.8 1450.4,498.9" stroke="#f0b416" stroke-width="2.6" fill="none" stroke-opacity="0.15"/>
<path d="M1015.8,502.0C1017.6,502.6 1023.0,504.8 1026.7,505.5C1030.3,506.3 1033.9,506.4 1037.5,506.6C1041.2,506.8 1044.8,506.9 1048.4,506.8C1052.0,506.6 1055.6,505.7 1059.3,505.7C1062.9,505.7 1066.5,506.6 1070.1,506.6C1073.7,506.7 1077.4,506.4 1081.0,505.9C1084.6,505.3 1088.2,504.4 1091.9,503.2C1095.5,502.0 1099.1,498.8 1102.7,498.6C1106.3,498.4 1110.0,501.8 1113.6,502.1C1117.2,502.4 1120.8,500.9 1124.5,500.3C1128.1,499.8 1131.7,498.6 1135.3,498.5C1138.9,498.5 1142.6,499.7 1146.2,500.2C1149.8,500.7 1153.4,499.9 1157.0,501.6C1160.7,503.2 1164.3,509.2 1167.9,510.1C1171.5,511.0 1175.2,507.2 1178.8,507.0C1182.4,506.8 1186.0,508.8 1189.6,509.0C1193.3,509.1 1196.9,506.9 1200.5,507.9C1204.1,508.9 1207.7,514.8 1211.4,515.2C1215.0,515.7 1218.6,511.9 1222.2,510.5C1225.9,509.1 1229.5,508.0 1233.1,507.1C1236.7,506.1 1240.3,506.0 1244.0,504.9C1247.6,503.9 1251.2,501.8 1254.8,500.9C1258.5,499.9 1262.1,498.8 1265.7,499.1C1269.3,499.4 1272.9,503.0 1276.6,502.8C1280.2,502.7 1283.8,498.4 1287.4,498.1C1291.0,497.8 1294.7,500.1 1298.3,501.0C1301.9,501.9 1305.5,503.8 1309.2,503.6C1312.8,503.5 1316.4,499.3 1320.0,500.0C1323.6,500.8 1327.3,506.2 1330.9,508.0C1334.5,509.9 1338.1,510.5 1341.8,511.2C1345.4,511.9 1349.0,511.6 1352.6,512.2C1356.2,512.7 1359.9,514.9 1363.5,514.6C1367.1,514.3 1370.7,510.8 1374.3,510.2C1378.0,509.6 1381.6,511.6 1385.2,511.0C1388.8,510.5 1392.5,507.5 1396.1,506.9C1399.7,506.2 1403.3,507.1 1406.9,507.2C1410.6,507.3 1414.2,508.4 1417.8,507.4C1421.4,506.4 1425.0,501.8 1428.7,501.2C1432.3,500.7 1435.9,503.8 1439.5,504.2C1443.2,504.5 1448.6,503.4 1450.4,503.3" stroke="#f0b416" stroke-width="2.6" fill="none" stroke-opacity="0.15"/>
<path d="M1015.8,503.7C1017.6,503.4 1023.0,502.1 1026.7,502.2C1030.3,502.2 1033.9,502.9 1037.5,504.2C1041.2,505.4 1044.8,508.4 1048.4,509.8C1052.0,511.2 1055.6,512.1 1059.3,512.7C1062.9,513.4 1066.5,513.5 1070.1,513.7C1073.7,514.0 1077.4,514.1 1081.0,514.3C1084.6,514.5 1088.2,515.1 1091.9,515.0C1095.5,514.8 1099.1,513.8 1102.7,513.3C1106.3,512.8 1110.0,512.4 1113.6,511.8C1117.2,511.3 1120.8,511.1 1124.5,510.0C1128.1,508.9 1131.7,505.6 1135.3,505.2C1138.9,504.8 1142.6,506.9 1146.2,507.5C1149.8,508.1 1153.4,508.6 1157.0,508.8C1160.7,508.9 1164.3,507.4 1167.9,508.4C1171.5,509.3 1175.2,513.1 1178.8,514.3C1182.4,515.4 1186.0,514.6 1189.6,515.3C1193.3,516.0 1196.9,517.9 1200.5,518.5C1204.1,519.1 1207.7,519.3 1211.4,519.1C1215.0,518.9 1218.6,517.5 1222.2,517.1C1225.9,516.8 1229.5,517.5 1233.1,516.8C1236.7,516.1 1240.3,513.5 1244.0,512.9C1247.6,512.3 1251.2,514.2 1254.8,513.2C1258.5,512.2 1262.1,507.4 1265.7,506.8C1269.3,506.1 1272.9,509.0 1276.6,509.2C1280.2,509.3 1283.8,506.0 1287.4,507.5C1291.0,509.1 1294.7,516.9 1298.3,518.5C1301.9,520.0 1305.5,517.1 1309.2,516.8C1312.8,516.6 1316.4,515.7 1320.0,517.2C1323.6,518.6 1327.3,525.0 1330.9,525.5C1334.5,526.0 1338.1,521.6 1341.8,520.2C1345.4,518.9 1349.0,518.3 1352.6,517.4C1356.2,516.4 1359.9,514.8 1363.5,514.5C1367.1,514.2 1370.7,516.4 1374.3,515.5C1378.0,514.5 1381.6,510.1 1385.2,508.9C1388.8,507.7 1392.5,507.8 1396.1,508.3C1399.7,508.9 1403.3,511.8 1406.9,512.1C1410.6,512.5 1414.2,509.8 1417.8,510.4C1421.4,510.9 1425.0,514.3 1428.7,515.7C1432.3,517.1 1435.9,517.6 1439.5,518.7C1443.2,519.8 1448.6,521.5 1450.4,522.1" stroke="#f0b416" stroke-width="2.6" fill="none" stroke-opacity="0.15"/>
<path d="M1015.8,500.5C1017.6,501.2 1023.0,504.0 1026.7,505.2C1030.3,506.3 1033.9,507.1 1037.5,507.4C1041.2,507.8 1044.8,506.5 1048.4,507.3C1052.0,508.0 1055.6,511.5 1059.3,512.0C1062.9,512.4 1066.5,510.7 1070.1,510.0C1073.7,509.4 1077.4,508.6 1081.0,508.1C1084.6,507.6 1088.2,507.0 1091.9,507.2C1095.5,507.5 1099.1,510.7 1102.7,509.7C1106.3,508.7 1110.0,502.8 1113.6,501.2C1117.2,499.6 1120.8,500.0 1124.5,499.9C1128.1,499.8 1131.7,499.7 1135.3,500.5C1138.9,501.3 1142.6,504.4 1146.2,504.7C1149.8,505.1 1153.4,502.0 1157.0,502.8C1160.7,503.5 1164.3,507.6 1167.9,509.4C1171.5,511.1 1175.2,512.3 1178.8,513.2C1182.4,514.2 1186.0,515.1 1189.6,514.9C1193.3,514.7 1196.9,512.2 1200.5,512.0C1204.1,511.9 1207.7,514.2 1211.4,514.0C1215.0,513.9 1218.6,513.3 1222.2,511.1C1225.9,508.9 1229.5,502.5 1233.1,500.7C1236.7,498.9 1240.3,500.3 1244.0,500.1C1247.6,500.0 1251.2,499.8 1254.8,499.7C1258.5,499.6 1262.1,498.9 1265.7,499.5C1269.3,500.1 1272.9,501.3 1276.6,503.5C1280.2,505.6 1283.8,511.4 1287.4,512.2C1291.0,513.0 1294.7,508.4 1298.3,508.2C1301.9,507.9 1305.5,509.7 1309.2,510.7C1312.8,511.6 1316.4,512.4 1320.0,513.9C1323.6,515.4 1327.3,520.4 1330.9,519.8C1334.5,519.1 1338.1,512.2 1341.8,510.0C1345.4,507.9 1349.0,507.2 1352.6,507.0C1356.2,506.8 1359.9,509.2 1363.5,508.8C1367.1,508.5 1370.7,506.1 1374.3,505.0C1378.0,503.9 1381.6,502.4 1385.2,502.4C1388.8,502.4 1392.5,504.9 1396.1,505.2C1399.7,505.5 1403.3,503.5 1406.9,504.3C1410.6,505.1 1414.2,508.7 1417.8,509.9C1421.4,511.1 1425.0,510.6 1428.7,511.6C1432.3,512.5 1435.9,514.1 1439.5,515.7C1443.2,517.2 1448.6,520.0 1450.4,520.8" stroke="#f0b416" stroke-width="2.6" fill="none" stroke-opacity="0.15"/>
<path d="M1015.8,503.8C1017.6,505.2 1023.0,510.6 1026.7,512.3C1030.3,514.0 1033.9,512.8 1037.5,513.9C1041.2,514.9 1044.8,517.3 1048.4,518.6C1052.0,519.8 1055.6,521.5 1059.3,521.5C1062.9,521.4 1066.5,518.5 1070.1,518.3C1073.7,518.1 1077.4,521.3 1081.0,520.4C1084.6,519.5 1088.2,515.0 1091.9,513.0C1095.5,510.9 1099.1,507.6 1102.7,507.9C1106.3,508.2 1110.0,514.4 1113.6,514.7C1117.2,515.0 1120.8,510.4 1124.5,509.7C1128.1,509.0 1131.7,510.1 1135.3,510.6C1138.9,511.1 1142.6,510.8 1146.2,512.7C1149.8,514.5 1153.4,519.8 1157.0,521.6C1160.7,523.3 1164.3,522.2 1167.9,523.1C1171.5,524.0 1175.2,526.7 1178.8,526.8C1182.4,526.8 1186.0,525.1 1189.6,523.4C1193.3,521.8 1196.9,519.2 1200.5,517.0C1204.1,514.8 1207.7,510.3 1211.4,510.0C1215.0,509.8 1218.6,515.9 1222.2,515.5C1225.9,515.1 1229.5,508.6 1233.1,507.8C1236.7,506.9 1240.3,509.4 1244.0,510.5C1247.6,511.7 1251.2,514.8 1254.8,514.9C1258.5,515.1 1262.1,509.4 1265.7,511.3C1269.3,513.3 1272.9,524.6 1276.6,526.6C1280.2,528.5 1283.8,523.5 1287.4,523.0C1291.0,522.5 1294.7,524.2 1298.3,523.4C1301.9,522.5 1305.5,519.1 1309.2,517.9C1312.8,516.8 1316.4,517.5 1320.0,516.5C1323.6,515.6 1327.3,512.6 1330.9,512.3C1334.5,512.0 1338.1,515.1 1341.8,514.8C1345.4,514.6 1349.0,511.7 1352.6,510.9C1356.2,510.0 1359.9,509.3 1363.5,509.8C1367.1,510.2 1370.7,512.3 1374.3,513.5C1378.0,514.7 1381.6,515.5 1385.2,516.8C1388.8,518.2 1392.5,520.2 1396.1,521.6C1399.7,523.0 1403.3,523.9 1406.9,525.1C1410.6,526.3 1414.2,529.5 1417.8,528.8C1421.4,528.0 1425.0,521.3 1428.7,520.6C1432.3,520.0 1435.9,523.9 1439.5,524.8C1443.2,525.7 1448.6,525.9 1450.4,526.1" stroke="#f0b416" stroke-width="2.6" fill="none" stroke-opacity="0.15"/>
<path d="M1015.8,501.6C1017.6,501.5 1023.0,500.6 1026.7,500.8C1030.3,500.9 1033.9,501.5 1037.5,502.5C1041.2,503.6 1044.8,506.0 1048.4,507.1C1052.0,508.2 1055.6,508.2 1059.3,509.2C1062.9,510.3 1066.5,512.8 1070.1,513.3C1073.7,513.9 1077.4,514.2 1081.0,512.6C1084.6,511.0 1088.2,504.6 1091.9,503.7C1095.5,502.8 1099.1,506.8 1102.7,507.3C1106.3,507.8 1110.0,508.5 1113.6,506.9C1117.2,505.3 1120.8,498.7 1124.5,497.5C1128.1,496.4 1131.7,499.3 1135.3,500.2C1138.9,501.1 1142.6,501.6 1146.2,502.7C1149.8,503.7 1153.4,505.5 1157.0,506.7C1160.7,508.0 1164.3,509.2 1167.9,510.2C1171.5,511.2 1175.2,512.7 1178.8,512.8C1182.4,512.9 1186.0,511.3 1189.6,510.8C1193.3,510.2 1196.9,510.3 1200.5,509.4C1204.1,508.4 1207.7,505.4 1211.4,504.9C1215.0,504.4 1218.6,506.6 1222.2,506.4C1225.9,506.2 1229.5,503.7 1233.1,503.7C1236.7,503.7 1240.3,506.3 1244.0,506.6C1247.6,506.8 1251.2,504.9 1254.8,505.4C1258.5,506.0 1262.1,507.9 1265.7,509.7C1269.3,511.5 1272.9,515.4 1276.6,516.3C1280.2,517.1 1283.8,516.1 1287.4,514.8C1291.0,513.6 1294.7,509.5 1298.3,508.5C1301.9,507.5 1305.5,508.4 1309.2,508.9C1312.8,509.3 1316.4,511.7 1320.0,511.2C1323.6,510.7 1327.3,507.3 1330.9,506.0C1334.5,504.8 1338.1,503.6 1341.8,503.8C1345.4,504.1 1349.0,506.5 1352.6,507.5C1356.2,508.6 1359.9,509.4 1363.5,510.2C1367.1,510.9 1370.7,510.9 1374.3,512.0C1378.0,513.1 1381.6,515.3 1385.2,516.7C1388.8,518.1 1392.5,520.9 1396.1,520.5C1399.7,520.0 1403.3,515.1 1406.9,513.7C1410.6,512.4 1414.2,513.1 1417.8,512.3C1421.4,511.4 1425.0,509.0 1428.7,508.4C1432.3,507.7 1435.9,507.9 1439.5,508.4C1443.2,508.8 1448.6,510.6 1450.4,511.1" stroke="#f0b416" stroke-width="2.6" fill="none" stroke-opacity="0.15"/>
<path d="M1015.8,510.9C1017.6,510.8 1023.0,508.9 1026.7,510.5C1030.3,512.2 1033.9,518.7 1037.5,520.8C1041.2,522.9 1044.8,523.0 1048.4,522.9C1052.0,522.8 1055.6,519.8 1059.3,520.2C1062.9,520.5 1066.5,526.5 1070.1,525.0C1073.7,523.6 1077.4,513.4 1081.0,511.5C1084.6,509.6 1088.2,513.8 1091.9,513.4C1095.5,513.0 1099.1,508.9 1102.7,509.0C1106.3,509.2 1110.0,512.9 1113.6,514.2C1117.2,515.4 1120.8,515.3 1124.5,516.4C1128.1,517.6 1131.7,519.9 1135.3,521.0C1138.9,522.1 1142.6,522.2 1146.2,523.1C1149.8,524.1 1153.4,526.7 1157.0,526.5C1160.7,526.3 1164.3,524.0 1167.9,522.0C1171.5,519.9 1175.2,516.6 1178.8,514.4C1182.4,512.1 1186.0,508.5 1189.6,508.5C1193.3,508.5 1196.9,513.2 1200.5,514.3C1204.1,515.5 1207.7,514.1 1211.4,515.2C1215.0,516.2 1218.6,519.3 1222.2,520.6C1225.9,521.8 1229.5,522.6 1233.1,522.8C1236.7,523.0 1240.3,521.3 1244.0,521.7C1247.6,522.2 1251.2,526.2 1254.8,525.3C1258.5,524.5 1262.1,518.5 1265.7,516.7C1269.3,515.0 1272.9,515.0 1276.6,514.6C1280.2,514.2 1283.8,513.8 1287.4,514.4C1291.0,515.0 1294.7,516.9 1298.3,518.2C1301.9,519.5 1305.5,520.9 1309.2,522.3C1312.8,523.8 1316.4,525.8 1320.0,526.9C1323.6,528.0 1327.3,530.2 1330.9,528.7C1334.5,527.3 1338.1,520.2 1341.8,518.2C1345.4,516.1 1349.0,516.7 1352.6,516.5C1356.2,516.3 1359.9,517.4 1363.5,516.8C1367.1,516.2 1370.7,512.7 1374.3,513.0C1378.0,513.3 1381.6,516.1 1385.2,518.4C1388.8,520.7 1392.5,524.9 1396.1,526.7C1399.7,528.4 1403.3,528.7 1406.9,528.7C1410.6,528.7 1414.2,527.5 1417.8,526.6C1421.4,525.7 1425.0,523.7 1428.7,523.3C1432.3,522.9 1435.9,524.4 1439.5,524.2C1443.2,524.1 1448.6,522.8 1450.4,522.5" stroke="#f0b416" stroke-width="2.6" fill="none" stroke-opacity="0.15"/>
<path d="M1015.8,517.3C1017.6,517.1 1023.0,516.5 1026.7,516.2C1030.3,515.9 1033.9,516.3 1037.5,515.8C1041.2,515.3 1044.8,514.1 1048.4,513.2C1052.0,512.2 1055.6,511.5 1059.3,510.1C1062.9,508.7 1066.5,506.2 1070.1,504.7C1073.7,503.1 1077.4,500.6 1081.0,500.8C1084.6,501.0 1088.2,505.6 1091.9,505.8C1095.5,506.1 1099.1,500.7 1102.7,502.3C1106.3,503.9 1110.0,513.5 1113.6,515.5C1117.2,517.4 1120.8,513.3 1124.5,514.0C1128.1,514.7 1131.7,519.1 1135.3,519.6C1138.9,520.2 1142.6,518.1 1146.2,517.4C1149.8,516.6 1153.4,516.1 1157.0,515.1C1160.7,514.0 1164.3,512.5 1167.9,511.1C1171.5,509.6 1175.2,506.9 1178.8,506.4C1182.4,506.0 1186.0,507.8 1189.6,508.3C1193.3,508.8 1196.9,509.4 1200.5,509.3C1204.1,509.2 1207.7,507.8 1211.4,507.8C1215.0,507.8 1218.6,508.0 1222.2,509.3C1225.9,510.6 1229.5,514.4 1233.1,515.3C1236.7,516.2 1240.3,514.6 1244.0,514.5C1247.6,514.3 1251.2,513.1 1254.8,514.4C1258.5,515.7 1262.1,522.0 1265.7,522.3C1269.3,522.6 1272.9,517.8 1276.6,516.0C1280.2,514.2 1283.8,511.5 1287.4,511.4C1291.0,511.4 1294.7,516.3 1298.3,515.7C1301.9,515.2 1305.5,509.3 1309.2,508.1C1312.8,506.9 1316.4,507.8 1320.0,508.6C1323.6,509.4 1327.3,512.9 1330.9,512.9C1334.5,512.9 1338.1,508.5 1341.8,508.8C1345.4,509.2 1349.0,513.3 1352.6,515.1C1356.2,517.0 1359.9,519.3 1363.5,520.0C1367.1,520.7 1370.7,519.6 1374.3,519.4C1378.0,519.2 1381.6,519.3 1385.2,518.8C1388.8,518.3 1392.5,517.4 1396.1,516.6C1399.7,515.8 1403.3,514.9 1406.9,514.1C1410.6,513.2 1414.2,511.5 1417.8,511.4C1421.4,511.3 1425.0,513.3 1428.7,513.3C1432.3,513.2 1435.9,511.3 1439.5,510.9C1443.2,510.5 1448.6,511.0 1450.4,511.0" stroke="#f0b416" stroke-width="2.6" fill="none" stroke-opacity="0.15"/>
<path d="M1015.8,515.5C1017.6,516.9 1023.0,523.3 1026.7,523.7C1030.3,524.2 1033.9,518.8 1037.5,518.1C1041.2,517.4 1044.8,518.7 1048.4,519.6C1052.0,520.5 1055.6,522.4 1059.3,523.4C1062.9,524.5 1066.5,524.9 1070.1,526.0C1073.7,527.1 1077.4,529.2 1081.0,530.2C1084.6,531.3 1088.2,532.0 1091.9,532.3C1095.5,532.5 1099.1,531.7 1102.7,531.8C1106.3,531.9 1110.0,533.5 1113.6,532.8C1117.2,532.2 1120.8,528.8 1124.5,527.9C1128.1,526.9 1131.7,528.0 1135.3,527.4C1138.9,526.7 1142.6,525.0 1146.2,523.9C1149.8,522.9 1153.4,522.0 1157.0,521.0C1160.7,519.9 1164.3,517.9 1167.9,517.6C1171.5,517.4 1175.2,518.8 1178.8,519.6C1182.4,520.3 1186.0,521.1 1189.6,522.2C1193.3,523.2 1196.9,524.5 1200.5,525.9C1204.1,527.3 1207.7,529.5 1211.4,530.6C1215.0,531.7 1218.6,532.1 1222.2,532.2C1225.9,532.4 1229.5,531.3 1233.1,531.5C1236.7,531.6 1240.3,532.7 1244.0,533.1C1247.6,533.4 1251.2,533.5 1254.8,533.6C1258.5,533.7 1262.1,534.2 1265.7,533.8C1269.3,533.5 1272.9,533.2 1276.6,531.6C1280.2,530.0 1283.8,526.1 1287.4,524.3C1291.0,522.5 1294.7,521.2 1298.3,520.8C1301.9,520.4 1305.5,520.8 1309.2,521.9C1312.8,523.0 1316.4,526.5 1320.0,527.3C1323.6,528.1 1327.3,526.4 1330.9,526.6C1334.5,526.8 1338.1,527.2 1341.8,528.5C1345.4,529.8 1349.0,533.6 1352.6,534.4C1356.2,535.3 1359.9,533.3 1363.5,533.6C1367.1,533.9 1370.7,535.5 1374.3,536.2C1378.0,536.8 1381.6,537.4 1385.2,537.5C1388.8,537.6 1392.5,538.3 1396.1,536.9C1399.7,535.5 1403.3,530.8 1406.9,529.2C1410.6,527.7 1414.2,527.7 1417.8,527.6C1421.4,527.5 1425.0,528.5 1428.7,528.5C1432.3,528.4 1435.9,528.5 1439.5,527.6C1443.2,526.7 1448.6,523.8 1450.4,523.0" stroke="#f0b416" stroke-width="2.6" fill="none" stroke-opacity="0.15"/>
<path d="M1015.8,505.2C1017.6,504.9 1023.0,505.2 1026.7,503.8C1030.3,502.3 1033.9,497.0 1037.5,496.3C1041.2,495.6 1044.8,498.9 1048.4,499.5C1052.0,500.2 1055.6,499.5 1059.3,500.3C1062.9,501.2 1066.5,502.9 1070.1,504.6C1073.7,506.4 1077.4,509.4 1081.0,510.9C1084.6,512.5 1088.2,513.7 1091.9,513.9C1095.5,514.0 1099.1,513.1 1102.7,511.9C1106.3,510.6 1110.0,506.6 1113.6,506.1C1117.2,505.7 1120.8,510.1 1124.5,509.1C1128.1,508.0 1131.7,501.2 1135.3,499.7C1138.9,498.3 1142.6,499.7 1146.2,500.3C1149.8,500.9 1153.4,503.2 1157.0,503.4C1160.7,503.7 1164.3,501.6 1167.9,501.8C1171.5,502.0 1175.2,502.8 1178.8,504.5C1182.4,506.2 1186.0,509.7 1189.6,511.9C1193.3,514.1 1196.9,517.7 1200.5,517.7C1204.1,517.8 1207.7,512.8 1211.4,512.2C1215.0,511.7 1218.6,515.3 1222.2,514.5C1225.9,513.7 1229.5,508.3 1233.1,507.6C1236.7,506.8 1240.3,510.8 1244.0,510.1C1247.6,509.3 1251.2,504.1 1254.8,503.1C1258.5,502.2 1262.1,503.5 1265.7,504.2C1269.3,505.0 1272.9,507.0 1276.6,507.6C1280.2,508.2 1283.8,507.2 1287.4,507.7C1291.0,508.2 1294.7,509.2 1298.3,510.5C1301.9,511.7 1305.5,514.0 1309.2,515.2C1312.8,516.4 1316.4,518.2 1320.0,517.8C1323.6,517.5 1327.3,513.6 1330.9,513.1C1334.5,512.7 1338.1,516.4 1341.8,515.2C1345.4,514.0 1349.0,508.0 1352.6,506.0C1356.2,504.0 1359.9,504.5 1363.5,503.4C1367.1,502.4 1370.7,499.7 1374.3,499.6C1378.0,499.5 1381.6,501.7 1385.2,503.0C1388.8,504.3 1392.5,506.0 1396.1,507.4C1399.7,508.8 1403.3,510.2 1406.9,511.4C1410.6,512.7 1414.2,513.7 1417.8,515.1C1421.4,516.5 1425.0,520.4 1428.7,519.9C1432.3,519.3 1435.9,513.3 1439.5,511.9C1443.2,510.6 1448.6,511.6 1450.4,511.6" stroke="#f0b416" stroke-width="2.6" fill="none" stroke-opacity="0.15"/>
<path d="M1015.8,508.6C1017.6,508.3 1023.0,508.0 1026.7,506.9C1030.3,505.9 1033.9,503.4 1037.5,502.6C1041.2,501.7 1044.8,500.5 1048.4,501.8C1052.0,503.1 1055.6,508.4 1059.3,510.2C1062.9,512.0 1066.5,511.5 1070.1,512.7C1073.7,513.8 1077.4,516.2 1081.0,517.1C1084.6,518.0 1088.2,518.8 1091.9,518.0C1095.5,517.1 1099.1,514.3 1102.7,512.0C1106.3,509.6 1110.0,504.5 1113.6,503.8C1117.2,503.1 1120.8,507.5 1124.5,507.9C1128.1,508.4 1131.7,507.0 1135.3,506.3C1138.9,505.6 1142.6,503.3 1146.2,503.7C1149.8,504.0 1153.4,507.3 1157.0,508.2C1160.7,509.1 1164.3,508.2 1167.9,508.9C1171.5,509.6 1175.2,510.6 1178.8,512.4C1182.4,514.2 1186.0,518.4 1189.6,519.8C1193.3,521.3 1196.9,521.4 1200.5,520.9C1204.1,520.5 1207.7,518.7 1211.4,517.2C1215.0,515.8 1218.6,513.3 1222.2,512.1C1225.9,511.0 1229.5,511.3 1233.1,510.1C1236.7,509.0 1240.3,505.0 1244.0,505.0C1247.6,505.1 1251.2,510.3 1254.8,510.7C1258.5,511.1 1262.1,506.8 1265.7,507.2C1269.3,507.6 1272.9,511.7 1276.6,513.0C1280.2,514.3 1283.8,514.2 1287.4,514.9C1291.0,515.7 1294.7,516.3 1298.3,517.5C1301.9,518.8 1305.5,522.0 1309.2,522.3C1312.8,522.7 1316.4,520.3 1320.0,519.9C1323.6,519.5 1327.3,521.0 1330.9,519.8C1334.5,518.6 1338.1,514.0 1341.8,512.8C1345.4,511.6 1349.0,513.1 1352.6,512.6C1356.2,512.2 1359.9,510.8 1363.5,510.3C1367.1,509.7 1370.7,508.5 1374.3,509.1C1378.0,509.7 1381.6,513.2 1385.2,513.8C1388.8,514.5 1392.5,511.8 1396.1,512.9C1399.7,514.1 1403.3,519.8 1406.9,520.9C1410.6,521.9 1414.2,519.3 1417.8,519.2C1421.4,519.2 1425.0,520.2 1428.7,520.7C1432.3,521.2 1435.9,522.7 1439.5,522.0C1443.2,521.4 1448.6,517.6 1450.4,516.7" stroke="#f0b416" stroke-width="2.6" fill="none" stroke-opacity="0.15"/>
<path d="M1015.8,508.3C1017.6,508.3 1023.0,508.7 1026.7,508.2C1030.3,507.7 1033.9,504.7 1037.5,505.3C1041.2,505.9 1044.8,509.4 1048.4,511.9C1052.0,514.3 1055.6,517.9 1059.3,520.1C1062.9,522.3 1066.5,525.5 1070.1,525.1C1073.7,524.6 1077.4,518.1 1081.0,517.6C1084.6,517.1 1088.2,523.0 1091.9,522.1C1095.5,521.1 1099.1,514.1 1102.7,511.7C1106.3,509.3 1110.0,508.3 1113.6,507.6C1117.2,506.9 1120.8,507.2 1124.5,507.6C1128.1,508.0 1131.7,509.0 1135.3,509.9C1138.9,510.9 1142.6,512.1 1146.2,513.1C1149.8,514.0 1153.4,514.5 1157.0,515.8C1160.7,517.0 1164.3,519.4 1167.9,520.5C1171.5,521.7 1175.2,522.4 1178.8,522.5C1182.4,522.6 1186.0,522.4 1189.6,521.1C1193.3,519.7 1196.9,515.2 1200.5,514.2C1204.1,513.2 1207.7,515.7 1211.4,515.0C1215.0,514.3 1218.6,510.1 1222.2,509.8C1225.9,509.5 1229.5,512.4 1233.1,513.1C1236.7,513.8 1240.3,512.9 1244.0,513.9C1247.6,515.0 1251.2,518.2 1254.8,519.2C1258.5,520.3 1262.1,520.0 1265.7,520.2C1269.3,520.4 1272.9,520.3 1276.6,520.6C1280.2,520.9 1283.8,521.6 1287.4,521.8C1291.0,522.0 1294.7,522.8 1298.3,521.8C1301.9,520.7 1305.5,516.7 1309.2,515.5C1312.8,514.3 1316.4,515.2 1320.0,514.5C1323.6,513.7 1327.3,511.3 1330.9,510.9C1334.5,510.4 1338.1,511.2 1341.8,511.7C1345.4,512.2 1349.0,511.6 1352.6,513.9C1356.2,516.2 1359.9,523.4 1363.5,525.4C1367.1,527.4 1370.7,526.5 1374.3,526.0C1378.0,525.5 1381.6,522.8 1385.2,522.4C1388.8,522.0 1392.5,525.0 1396.1,523.8C1399.7,522.5 1403.3,516.0 1406.9,515.0C1410.6,513.9 1414.2,517.4 1417.8,517.5C1421.4,517.6 1425.0,516.8 1428.7,515.5C1432.3,514.2 1435.9,509.9 1439.5,509.6C1443.2,509.3 1448.6,513.0 1450.4,513.7" stroke="#f0b416" stroke-width="2.6" fill="none" stroke-opacity="0.15"/>
<path d="M1015.8,495.1C1017.6,495.3 1023.0,496.5 1026.7,496.2C1030.3,496.0 1033.9,494.2 1037.5,493.6C1041.2,493.1 1044.8,493.2 1048.4,492.9C1052.0,492.6 1055.6,492.4 1059.3,491.9C1062.9,491.5 1066.5,489.7 1070.1,490.2C1073.7,490.8 1077.4,494.2 1081.0,495.1C1084.6,495.9 1088.2,494.5 1091.9,495.3C1095.5,496.1 1099.1,499.3 1102.7,499.9C1106.3,500.5 1110.0,497.2 1113.6,498.9C1117.2,500.6 1120.8,509.0 1124.5,509.9C1128.1,510.9 1131.7,505.7 1135.3,504.7C1138.9,503.7 1142.6,503.7 1146.2,504.0C1149.8,504.3 1153.4,507.1 1157.0,506.4C1160.7,505.7 1164.3,500.8 1167.9,499.7C1171.5,498.5 1175.2,500.4 1178.8,499.6C1182.4,498.8 1186.0,495.7 1189.6,494.7C1193.3,493.7 1196.9,493.8 1200.5,493.5C1204.1,493.2 1207.7,492.8 1211.4,492.9C1215.0,493.0 1218.6,493.6 1222.2,494.3C1225.9,494.9 1229.5,496.6 1233.1,496.9C1236.7,497.2 1240.3,495.7 1244.0,496.0C1247.6,496.3 1251.2,498.1 1254.8,498.6C1258.5,499.2 1262.1,498.5 1265.7,499.3C1269.3,500.1 1272.9,504.0 1276.6,503.6C1280.2,503.2 1283.8,495.9 1287.4,497.0C1291.0,498.1 1294.7,509.1 1298.3,510.3C1301.9,511.5 1305.5,504.5 1309.2,504.1C1312.8,503.7 1316.4,507.6 1320.0,508.0C1323.6,508.3 1327.3,507.3 1330.9,506.3C1334.5,505.2 1338.1,502.3 1341.8,501.5C1345.4,500.8 1349.0,501.5 1352.6,501.7C1356.2,501.8 1359.9,503.4 1363.5,502.6C1367.1,501.7 1370.7,497.6 1374.3,496.7C1378.0,495.8 1381.6,496.3 1385.2,497.2C1388.8,498.0 1392.5,501.7 1396.1,501.7C1399.7,501.6 1403.3,496.8 1406.9,496.8C1410.6,496.8 1414.2,500.5 1417.8,501.6C1421.4,502.6 1425.0,502.9 1428.7,503.1C1432.3,503.2 1435.9,502.1 1439.5,502.5C1443.2,502.9 1448.6,504.9 1450.4,505.4" stroke="#f0b416" stroke-width="2.6" fill="none" stroke-opacity="0.15"/>
<path d="M1015.8,506.4C1017.6,507.6 1023.0,511.8 1026.7,513.4C1030.3,514.9 1033.9,514.4 1037.5,515.7C1041.2,517.0 1044.8,520.8 1048.4,521.5C1052.0,522.1 1055.6,520.1 1059.3,519.5C1062.9,518.9 1066.5,519.8 1070.1,517.8C1073.7,515.7 1077.4,508.4 1081.0,507.2C1084.6,506.0 1088.2,510.4 1091.9,510.7C1095.5,510.9 1099.1,509.3 1102.7,508.8C1106.3,508.3 1110.0,508.8 1113.6,507.9C1117.2,506.9 1120.8,503.5 1124.5,503.0C1128.1,502.6 1131.7,505.6 1135.3,505.4C1138.9,505.2 1142.6,502.0 1146.2,502.1C1149.8,502.2 1153.4,505.4 1157.0,506.1C1160.7,506.8 1164.3,505.1 1167.9,506.3C1171.5,507.5 1175.2,511.9 1178.8,513.2C1182.4,514.6 1186.0,513.5 1189.6,514.4C1193.3,515.2 1196.9,517.6 1200.5,518.3C1204.1,519.0 1207.7,518.0 1211.4,518.7C1215.0,519.5 1218.6,522.7 1222.2,522.8C1225.9,522.9 1229.5,519.9 1233.1,519.2C1236.7,518.5 1240.3,519.2 1244.0,518.6C1247.6,518.0 1251.2,517.4 1254.8,515.8C1258.5,514.2 1262.1,510.0 1265.7,508.9C1269.3,507.9 1272.9,509.9 1276.6,509.4C1280.2,508.8 1283.8,506.1 1287.4,505.5C1291.0,504.9 1294.7,505.8 1298.3,505.8C1301.9,505.9 1305.5,505.8 1309.2,506.0C1312.8,506.2 1316.4,505.9 1320.0,507.0C1323.6,508.2 1327.3,512.2 1330.9,513.0C1334.5,513.9 1338.1,511.3 1341.8,512.0C1345.4,512.7 1349.0,515.9 1352.6,517.3C1356.2,518.6 1359.9,520.0 1363.5,520.0C1367.1,520.1 1370.7,518.1 1374.3,517.3C1378.0,516.6 1381.6,514.7 1385.2,515.7C1388.8,516.7 1392.5,523.4 1396.1,523.4C1399.7,523.3 1403.3,516.7 1406.9,515.5C1410.6,514.3 1414.2,515.6 1417.8,516.0C1421.4,516.4 1425.0,518.6 1428.7,518.1C1432.3,517.6 1435.9,514.3 1439.5,513.1C1443.2,511.9 1448.6,511.4 1450.4,511.1" stroke="#f0b416" stroke-width="2.6" fill="none" stroke-opacity="0.15"/>
<path d="M1015.8,512.3C1017.6,511.7 1023.0,509.3 1026.7,508.2C1030.3,507.1 1033.9,506.8 1037.5,506.0C1041.2,505.1 1044.8,504.4 1048.4,503.3C1052.0,502.2 1055.6,499.5 1059.3,499.5C1062.9,499.5 1066.5,503.0 1070.1,503.2C1073.7,503.5 1077.4,501.2 1081.0,501.0C1084.6,500.7 1088.2,501.4 1091.9,501.8C1095.5,502.1 1099.1,501.9 1102.7,503.0C1106.3,504.2 1110.0,507.3 1113.6,508.5C1117.2,509.7 1120.8,509.7 1124.5,510.4C1128.1,511.1 1131.7,513.3 1135.3,512.9C1138.9,512.5 1142.6,507.2 1146.2,507.9C1149.8,508.6 1153.4,516.8 1157.0,516.9C1160.7,517.0 1164.3,511.7 1167.9,508.8C1171.5,505.9 1175.2,500.5 1178.8,499.6C1182.4,498.6 1186.0,501.6 1189.6,502.9C1193.3,504.1 1196.9,507.1 1200.5,507.1C1204.1,507.1 1207.7,502.6 1211.4,503.0C1215.0,503.3 1218.6,507.9 1222.2,509.2C1225.9,510.4 1229.5,510.1 1233.1,510.5C1236.7,510.9 1240.3,511.5 1244.0,511.5C1247.6,511.4 1251.2,509.7 1254.8,510.1C1258.5,510.6 1262.1,513.7 1265.7,514.2C1269.3,514.7 1272.9,513.6 1276.6,512.9C1280.2,512.2 1283.8,510.5 1287.4,509.9C1291.0,509.2 1294.7,509.1 1298.3,509.0C1301.9,508.8 1305.5,509.4 1309.2,508.8C1312.8,508.1 1316.4,505.9 1320.0,505.1C1323.6,504.2 1327.3,503.5 1330.9,503.7C1334.5,504.0 1338.1,505.6 1341.8,506.7C1345.4,507.8 1349.0,509.3 1352.6,510.4C1356.2,511.4 1359.9,511.5 1363.5,512.9C1367.1,514.3 1370.7,517.7 1374.3,518.8C1378.0,519.9 1381.6,519.7 1385.2,519.5C1388.8,519.2 1392.5,517.9 1396.1,517.4C1399.7,516.9 1403.3,517.4 1406.9,516.7C1410.6,516.0 1414.2,514.8 1417.8,513.1C1421.4,511.5 1425.0,507.8 1428.7,506.7C1432.3,505.7 1435.9,507.0 1439.5,507.0C1443.2,506.9 1448.6,506.6 1450.4,506.5" stroke="#f0b416" stroke-width="2.6" fill="none" stroke-opacity="0.15"/>
<path d="M1015.8,513.1C1017.6,512.8 1023.0,510.8 1026.7,511.7C1030.3,512.5 1033.9,517.2 1037.5,518.2C1041.2,519.3 1044.8,517.5 1048.4,517.9C1052.0,518.3 1055.6,520.4 1059.3,520.5C1062.9,520.7 1066.5,518.6 1070.1,518.9C1073.7,519.2 1077.4,521.9 1081.0,522.3C1084.6,522.6 1088.2,521.8 1091.9,521.0C1095.5,520.2 1099.1,518.3 1102.7,517.4C1106.3,516.4 1110.0,516.7 1113.6,515.3C1117.2,513.9 1120.8,509.5 1124.5,508.9C1128.1,508.4 1131.7,511.6 1135.3,512.1C1138.9,512.6 1142.6,512.1 1146.2,512.1C1149.8,512.2 1153.4,512.2 1157.0,512.1C1160.7,512.1 1164.3,511.4 1167.9,511.8C1171.5,512.3 1175.2,514.1 1178.8,514.9C1182.4,515.7 1186.0,515.0 1189.6,516.6C1193.3,518.2 1196.9,524.4 1200.5,524.4C1204.1,524.4 1207.7,517.6 1211.4,516.7C1215.0,515.8 1218.6,518.1 1222.2,519.2C1225.9,520.3 1229.5,522.6 1233.1,523.6C1236.7,524.5 1240.3,525.8 1244.0,525.1C1247.6,524.4 1251.2,521.0 1254.8,519.5C1258.5,518.0 1262.1,516.2 1265.7,516.4C1269.3,516.6 1272.9,521.2 1276.6,520.7C1280.2,520.2 1283.8,514.2 1287.4,513.6C1291.0,512.9 1294.7,516.9 1298.3,516.8C1301.9,516.7 1305.5,513.5 1309.2,512.7C1312.8,511.9 1316.4,511.7 1320.0,512.2C1323.6,512.7 1327.3,513.6 1330.9,515.7C1334.5,517.7 1338.1,524.1 1341.8,524.8C1345.4,525.6 1349.0,520.4 1352.6,520.2C1356.2,519.9 1359.9,522.0 1363.5,523.2C1367.1,524.3 1370.7,526.8 1374.3,527.0C1378.0,527.2 1381.6,525.5 1385.2,524.4C1388.8,523.3 1392.5,520.6 1396.1,520.3C1399.7,520.0 1403.3,522.8 1406.9,522.6C1410.6,522.5 1414.2,520.0 1417.8,519.4C1421.4,518.7 1425.0,519.6 1428.7,518.5C1432.3,517.4 1435.9,512.5 1439.5,512.9C1443.2,513.2 1448.6,519.5 1450.4,520.8" stroke="#f0b416" stroke-width="2.6" fill="none" stroke-opacity="0.15"/>
<path d="M1015.8,507.7C1017.6,507.6 1023.0,507.8 1026.7,507.1C1030.3,506.4 1033.9,505.3 1037.5,503.5C1041.2,501.7 1044.8,497.0 1048.4,496.3C1052.0,495.6 1055.6,500.0 1059.3,499.4C1062.9,498.8 1066.5,493.2 1070.1,492.9C1073.7,492.6 1077.4,496.9 1081.0,497.5C1084.6,498.0 1088.2,495.1 1091.9,496.2C1095.5,497.3 1099.1,502.6 1102.7,504.1C1106.3,505.6 1110.0,504.5 1113.6,505.0C1117.2,505.6 1120.8,508.1 1124.5,507.4C1128.1,506.7 1131.7,501.5 1135.3,500.7C1138.9,500.0 1142.6,503.1 1146.2,502.7C1149.8,502.3 1153.4,500.3 1157.0,498.3C1160.7,496.4 1164.3,491.6 1167.9,491.2C1171.5,490.9 1175.2,495.2 1178.8,496.2C1182.4,497.2 1186.0,495.9 1189.6,497.3C1193.3,498.7 1196.9,503.3 1200.5,504.7C1204.1,506.2 1207.7,504.5 1211.4,506.1C1215.0,507.6 1218.6,513.9 1222.2,514.1C1225.9,514.4 1229.5,508.9 1233.1,507.7C1236.7,506.5 1240.3,507.2 1244.0,506.9C1247.6,506.5 1251.2,506.1 1254.8,505.3C1258.5,504.5 1262.1,503.9 1265.7,502.1C1269.3,500.3 1272.9,495.4 1276.6,494.7C1280.2,494.0 1283.8,496.0 1287.4,498.0C1291.0,499.9 1294.7,505.6 1298.3,506.2C1301.9,506.9 1305.5,501.1 1309.2,501.9C1312.8,502.7 1316.4,509.6 1320.0,511.1C1323.6,512.6 1327.3,511.6 1330.9,511.0C1334.5,510.5 1338.1,508.3 1341.8,507.8C1345.4,507.3 1349.0,508.2 1352.6,507.9C1356.2,507.5 1359.9,506.6 1363.5,505.5C1367.1,504.4 1370.7,502.7 1374.3,501.2C1378.0,499.7 1381.6,496.9 1385.2,496.6C1388.8,496.4 1392.5,497.5 1396.1,499.8C1399.7,502.0 1403.3,508.8 1406.9,510.0C1410.6,511.1 1414.2,506.4 1417.8,506.7C1421.4,507.0 1425.0,511.0 1428.7,511.6C1432.3,512.1 1435.9,510.4 1439.5,509.9C1443.2,509.3 1448.6,508.6 1450.4,508.3" stroke="#f0b416" stroke-width="2.6" fill="none" stroke-opacity="0.15"/>
<path d="M1015.8,508.1C1017.6,507.4 1023.0,505.3 1026.7,503.8C1030.3,502.3 1033.9,499.4 1037.5,499.3C1041.2,499.1 1044.8,503.4 1048.4,503.0C1052.0,502.6 1055.6,496.5 1059.3,496.7C1062.9,496.9 1066.5,502.5 1070.1,504.2C1073.7,505.9 1077.4,506.6 1081.0,507.0C1084.6,507.4 1088.2,506.4 1091.9,506.9C1095.5,507.4 1099.1,509.0 1102.7,510.2C1106.3,511.3 1110.0,512.7 1113.6,513.5C1117.2,514.4 1120.8,515.3 1124.5,515.4C1128.1,515.4 1131.7,514.2 1135.3,513.8C1138.9,513.3 1142.6,514.6 1146.2,512.8C1149.8,511.1 1153.4,505.2 1157.0,503.2C1160.7,501.2 1164.3,501.9 1167.9,500.9C1171.5,500.0 1175.2,497.6 1178.8,497.6C1182.4,497.6 1186.0,500.1 1189.6,501.0C1193.3,501.9 1196.9,502.3 1200.5,502.9C1204.1,503.5 1207.7,503.7 1211.4,504.4C1215.0,505.1 1218.6,505.6 1222.2,507.1C1225.9,508.5 1229.5,511.9 1233.1,513.0C1236.7,514.0 1240.3,514.0 1244.0,513.4C1247.6,512.9 1251.2,508.8 1254.8,509.6C1258.5,510.4 1262.1,517.3 1265.7,518.3C1269.3,519.3 1272.9,516.6 1276.6,515.5C1280.2,514.4 1283.8,513.5 1287.4,511.7C1291.0,509.9 1294.7,506.4 1298.3,504.7C1301.9,503.1 1305.5,501.7 1309.2,501.8C1312.8,501.8 1316.4,504.7 1320.0,505.0C1323.6,505.2 1327.3,502.9 1330.9,503.3C1334.5,503.7 1338.1,506.3 1341.8,507.3C1345.4,508.3 1349.0,508.2 1352.6,509.4C1356.2,510.6 1359.9,513.5 1363.5,514.6C1367.1,515.7 1370.7,515.4 1374.3,515.8C1378.0,516.1 1381.6,517.3 1385.2,516.9C1388.8,516.6 1392.5,515.1 1396.1,513.9C1399.7,512.6 1403.3,509.0 1406.9,509.5C1410.6,510.0 1414.2,517.2 1417.8,517.1C1421.4,516.9 1425.0,510.0 1428.7,508.4C1432.3,506.8 1435.9,508.2 1439.5,507.5C1443.2,506.7 1448.6,504.5 1450.4,503.8" stroke="#f0b416" stroke-width="2.6" fill="none" stroke-opacity="0.15"/>
<path d="M1015.8,494.4C1017.6,495.4 1023.0,500.3 1026.7,500.1C1030.3,499.8 1033.9,493.4 1037.5,492.7C1041.2,492.1 1044.8,494.3 1048.4,496.3C1052.0,498.4 1055.6,503.9 1059.3,504.9C1062.9,506.0 1066.5,502.3 1070.1,502.5C1073.7,502.7 1077.4,504.2 1081.0,506.2C1084.6,508.3 1088.2,514.9 1091.9,514.8C1095.5,514.6 1099.1,506.6 1102.7,505.5C1106.3,504.4 1110.0,509.0 1113.6,508.0C1117.2,507.0 1120.8,500.8 1124.5,499.7C1128.1,498.7 1131.7,501.5 1135.3,501.6C1138.9,501.6 1142.6,500.0 1146.2,500.0C1149.8,500.0 1153.4,501.8 1157.0,501.7C1160.7,501.7 1164.3,500.1 1167.9,499.7C1171.5,499.4 1175.2,498.1 1178.8,499.3C1182.4,500.5 1186.0,504.5 1189.6,506.8C1193.3,509.0 1196.9,513.1 1200.5,512.8C1204.1,512.4 1207.7,505.9 1211.4,504.8C1215.0,503.6 1218.6,505.5 1222.2,506.0C1225.9,506.5 1229.5,507.3 1233.1,507.7C1236.7,508.1 1240.3,508.5 1244.0,508.4C1247.6,508.3 1251.2,507.6 1254.8,507.1C1258.5,506.6 1262.1,507.0 1265.7,505.6C1269.3,504.1 1272.9,500.0 1276.6,498.5C1280.2,497.1 1283.8,495.8 1287.4,496.7C1291.0,497.6 1294.7,502.9 1298.3,504.2C1301.9,505.5 1305.5,503.7 1309.2,504.4C1312.8,505.1 1316.4,507.2 1320.0,508.3C1323.6,509.5 1327.3,510.7 1330.9,511.2C1334.5,511.6 1338.1,511.7 1341.8,511.0C1345.4,510.4 1349.0,507.0 1352.6,507.2C1356.2,507.5 1359.9,512.8 1363.5,512.6C1367.1,512.5 1370.7,508.0 1374.3,506.4C1378.0,504.7 1381.6,503.3 1385.2,502.8C1388.8,502.4 1392.5,503.9 1396.1,503.8C1399.7,503.7 1403.3,501.9 1406.9,502.2C1410.6,502.4 1414.2,505.6 1417.8,505.4C1421.4,505.3 1425.0,500.8 1428.7,501.3C1432.3,501.7 1435.9,506.5 1439.5,508.2C1443.2,510.0 1448.6,511.2 1450.4,511.8" stroke="#f0b416" stroke-width="2.6" fill="none" stroke-opacity="0.15"/>
<path d="M1015.8,510.1C1017.6,508.6 1023.0,502.6 1026.7,501.5C1030.3,500.5 1033.9,503.8 1037.5,503.6C1041.2,503.5 1044.8,500.4 1048.4,500.8C1052.0,501.2 1055.6,504.7 1059.3,506.1C1062.9,507.4 1066.5,509.6 1070.1,508.9C1073.7,508.3 1077.4,501.9 1081.0,502.2C1084.6,502.5 1088.2,508.4 1091.9,510.7C1095.5,513.1 1099.1,515.7 1102.7,516.3C1106.3,517.0 1110.0,515.1 1113.6,514.6C1117.2,514.2 1120.8,512.8 1124.5,513.5C1128.1,514.1 1131.7,518.3 1135.3,518.5C1138.9,518.7 1142.6,516.0 1146.2,514.4C1149.8,512.8 1153.4,509.8 1157.0,509.0C1160.7,508.1 1164.3,510.3 1167.9,509.3C1171.5,508.3 1175.2,504.3 1178.8,503.0C1182.4,501.8 1186.0,501.7 1189.6,501.8C1193.3,501.9 1196.9,502.7 1200.5,503.6C1204.1,504.6 1207.7,506.7 1211.4,507.7C1215.0,508.6 1218.6,508.4 1222.2,509.4C1225.9,510.5 1229.5,513.0 1233.1,513.9C1236.7,514.9 1240.3,515.0 1244.0,515.3C1247.6,515.7 1251.2,515.5 1254.8,515.9C1258.5,516.3 1262.1,518.2 1265.7,517.8C1269.3,517.4 1272.9,515.4 1276.6,513.6C1280.2,511.9 1283.8,507.7 1287.4,507.5C1291.0,507.3 1294.7,512.6 1298.3,512.7C1301.9,512.8 1305.5,509.2 1309.2,507.9C1312.8,506.6 1316.4,505.4 1320.0,504.9C1323.6,504.4 1327.3,504.2 1330.9,504.7C1334.5,505.2 1338.1,506.8 1341.8,507.7C1345.4,508.6 1349.0,510.0 1352.6,510.3C1356.2,510.6 1359.9,508.9 1363.5,509.4C1367.1,509.9 1370.7,512.3 1374.3,513.4C1378.0,514.5 1381.6,515.0 1385.2,516.2C1388.8,517.5 1392.5,520.8 1396.1,521.0C1399.7,521.2 1403.3,518.4 1406.9,517.6C1410.6,516.7 1414.2,516.2 1417.8,516.0C1421.4,515.7 1425.0,516.9 1428.7,516.2C1432.3,515.4 1435.9,513.3 1439.5,511.4C1443.2,509.6 1448.6,506.2 1450.4,505.1" stroke="#f0b416" stroke-width="2.6" fill="none" stroke-opacity="0.15"/>
<path d="M1015.8,519.8C1017.6,520.6 1023.0,524.2 1026.7,524.8C1030.3,525.5 1033.9,523.9 1037.5,523.7C1041.2,523.5 1044.8,523.5 1048.4,523.4C1052.0,523.3 1055.6,523.7 1059.3,523.2C1062.9,522.7 1066.5,521.6 1070.1,520.3C1073.7,519.1 1077.4,516.8 1081.0,515.8C1084.6,514.8 1088.2,513.8 1091.9,514.3C1095.5,514.8 1099.1,517.0 1102.7,518.6C1106.3,520.3 1110.0,523.9 1113.6,524.1C1117.2,524.2 1120.8,518.9 1124.5,519.7C1128.1,520.4 1131.7,527.3 1135.3,528.5C1138.9,529.7 1142.6,527.3 1146.2,526.8C1149.8,526.3 1153.4,526.3 1157.0,525.5C1160.7,524.7 1164.3,523.5 1167.9,522.1C1171.5,520.7 1175.2,518.2 1178.8,517.2C1182.4,516.3 1186.0,516.8 1189.6,516.5C1193.3,516.1 1196.9,513.9 1200.5,514.9C1204.1,515.9 1207.7,520.3 1211.4,522.3C1215.0,524.3 1218.6,527.1 1222.2,527.0C1225.9,526.9 1229.5,521.6 1233.1,521.8C1236.7,522.1 1240.3,527.9 1244.0,528.5C1247.6,529.1 1251.2,526.7 1254.8,525.5C1258.5,524.4 1262.1,522.7 1265.7,521.7C1269.3,520.7 1272.9,520.2 1276.6,519.6C1280.2,519.0 1283.8,517.8 1287.4,518.1C1291.0,518.3 1294.7,520.4 1298.3,521.2C1301.9,522.0 1305.5,523.1 1309.2,522.9C1312.8,522.6 1316.4,519.5 1320.0,519.8C1323.6,520.1 1327.3,523.2 1330.9,524.5C1334.5,525.8 1338.1,526.1 1341.8,527.7C1345.4,529.3 1349.0,533.1 1352.6,534.0C1356.2,535.0 1359.9,534.7 1363.5,533.6C1367.1,532.6 1370.7,529.2 1374.3,527.7C1378.0,526.1 1381.6,525.9 1385.2,524.5C1388.8,523.0 1392.5,519.3 1396.1,518.8C1399.7,518.4 1403.3,522.0 1406.9,521.7C1410.6,521.5 1414.2,516.6 1417.8,517.5C1421.4,518.3 1425.0,524.6 1428.7,526.8C1432.3,528.9 1435.9,530.0 1439.5,530.4C1443.2,530.8 1448.6,529.3 1450.4,529.1" stroke="#f0b416" stroke-width="2.6" fill="none" stroke-opacity="0.15"/>
<path d="M1015.8,508.8C1017.6,508.3 1023.0,507.1 1026.7,505.9C1030.3,504.6 1033.9,501.5 1037.5,501.2C1041.2,500.8 1044.8,502.4 1048.4,503.6C1052.0,504.8 1055.6,508.2 1059.3,508.7C1062.9,509.1 1066.5,506.2 1070.1,506.3C1073.7,506.5 1077.4,509.1 1081.0,509.7C1084.6,510.4 1088.2,510.4 1091.9,510.5C1095.5,510.6 1099.1,510.1 1102.7,510.6C1106.3,511.1 1110.0,514.4 1113.6,513.4C1117.2,512.4 1120.8,506.2 1124.5,504.6C1128.1,503.0 1131.7,503.7 1135.3,503.8C1138.9,503.9 1142.6,504.6 1146.2,505.2C1149.8,505.9 1153.4,507.5 1157.0,507.8C1160.7,508.1 1164.3,506.2 1167.9,507.2C1171.5,508.1 1175.2,513.2 1178.8,513.5C1182.4,513.9 1186.0,509.7 1189.6,509.5C1193.3,509.3 1196.9,511.3 1200.5,512.2C1204.1,513.1 1207.7,516.3 1211.4,514.9C1215.0,513.6 1218.6,506.5 1222.2,504.1C1225.9,501.7 1229.5,500.7 1233.1,500.6C1236.7,500.5 1240.3,502.2 1244.0,503.6C1247.6,505.1 1251.2,508.9 1254.8,509.3C1258.5,509.7 1262.1,504.5 1265.7,505.8C1269.3,507.2 1272.9,515.7 1276.6,517.4C1280.2,519.1 1283.8,515.7 1287.4,516.1C1291.0,516.6 1294.7,520.0 1298.3,519.9C1301.9,519.7 1305.5,516.4 1309.2,515.1C1312.8,513.9 1316.4,514.5 1320.0,512.4C1323.6,510.3 1327.3,504.3 1330.9,502.6C1334.5,500.9 1338.1,501.2 1341.8,502.1C1345.4,503.1 1349.0,506.4 1352.6,508.5C1356.2,510.6 1359.9,513.7 1363.5,514.9C1367.1,516.1 1370.7,515.3 1374.3,515.5C1378.0,515.8 1381.6,515.6 1385.2,516.4C1388.8,517.3 1392.5,520.5 1396.1,520.6C1399.7,520.6 1403.3,518.4 1406.9,516.7C1410.6,514.9 1414.2,512.1 1417.8,510.2C1421.4,508.3 1425.0,505.9 1428.7,505.3C1432.3,504.6 1435.9,506.0 1439.5,506.3C1443.2,506.7 1448.6,507.4 1450.4,507.6" stroke="#f0b416" stroke-width="2.6" fill="none" stroke-opacity="0.15"/>
<path d="M1015.8,516.4C1017.6,515.7 1023.0,512.5 1026.7,512.4C1030.3,512.3 1033.9,515.1 1037.5,515.7C1041.2,516.4 1044.8,515.4 1048.4,516.4C1052.0,517.5 1055.6,521.8 1059.3,522.1C1062.9,522.3 1066.5,518.0 1070.1,518.0C1073.7,518.0 1077.4,521.7 1081.0,522.0C1084.6,522.3 1088.2,520.6 1091.9,519.9C1095.5,519.2 1099.1,518.8 1102.7,517.8C1106.3,516.9 1110.0,515.1 1113.6,514.4C1117.2,513.6 1120.8,513.0 1124.5,513.5C1128.1,513.9 1131.7,517.0 1135.3,516.9C1138.9,516.9 1142.6,514.7 1146.2,513.1C1149.8,511.4 1153.4,507.1 1157.0,506.9C1160.7,506.7 1164.3,510.7 1167.9,511.8C1171.5,513.0 1175.2,513.1 1178.8,513.9C1182.4,514.8 1186.0,515.6 1189.6,517.0C1193.3,518.4 1196.9,521.3 1200.5,522.6C1204.1,523.9 1207.7,524.3 1211.4,524.8C1215.0,525.4 1218.6,526.5 1222.2,525.9C1225.9,525.3 1229.5,521.9 1233.1,521.2C1236.7,520.6 1240.3,522.8 1244.0,522.0C1247.6,521.2 1251.2,517.1 1254.8,516.3C1258.5,515.4 1262.1,517.8 1265.7,517.0C1269.3,516.1 1272.9,511.7 1276.6,511.1C1280.2,510.4 1283.8,512.1 1287.4,513.1C1291.0,514.0 1294.7,517.2 1298.3,516.7C1301.9,516.1 1305.5,510.1 1309.2,509.9C1312.8,509.7 1316.4,514.3 1320.0,515.3C1323.6,516.2 1327.3,514.7 1330.9,515.7C1334.5,516.7 1338.1,519.5 1341.8,521.0C1345.4,522.6 1349.0,524.3 1352.6,525.0C1356.2,525.8 1359.9,524.8 1363.5,525.6C1367.1,526.3 1370.7,528.9 1374.3,529.5C1378.0,530.1 1381.6,529.6 1385.2,529.1C1388.8,528.6 1392.5,527.6 1396.1,526.7C1399.7,525.7 1403.3,524.0 1406.9,523.4C1410.6,522.8 1414.2,523.9 1417.8,523.0C1421.4,522.0 1425.0,518.9 1428.7,517.6C1432.3,516.4 1435.9,516.5 1439.5,515.3C1443.2,514.2 1448.6,511.6 1450.4,510.9" stroke="#f0b416" stroke-width="2.6" fill="none" stroke-opacity="0.15"/>
<path d="M1015.8,498.2C1017.6,498.4 1023.0,498.9 1026.7,499.6C1030.3,500.3 1033.9,501.7 1037.5,502.5C1041.2,503.3 1044.8,504.6 1048.4,504.6C1052.0,504.6 1055.6,502.5 1059.3,502.6C1062.9,502.7 1066.5,505.9 1070.1,505.1C1073.7,504.4 1077.4,499.3 1081.0,498.1C1084.6,496.8 1088.2,497.6 1091.9,497.5C1095.5,497.3 1099.1,497.8 1102.7,497.3C1106.3,496.7 1110.0,494.9 1113.6,493.9C1117.2,492.9 1120.8,490.9 1124.5,491.1C1128.1,491.3 1131.7,494.5 1135.3,495.0C1138.9,495.4 1142.6,493.6 1146.2,493.8C1149.8,494.0 1153.4,495.7 1157.0,496.1C1160.7,496.5 1164.3,494.8 1167.9,496.4C1171.5,498.0 1175.2,504.2 1178.8,505.7C1182.4,507.1 1186.0,505.3 1189.6,505.0C1193.3,504.8 1196.9,504.8 1200.5,504.2C1204.1,503.6 1207.7,501.5 1211.4,501.3C1215.0,501.2 1218.6,503.4 1222.2,503.1C1225.9,502.8 1229.5,499.7 1233.1,499.6C1236.7,499.6 1240.3,503.0 1244.0,502.8C1247.6,502.6 1251.2,500.3 1254.8,498.4C1258.5,496.4 1262.1,491.6 1265.7,491.1C1269.3,490.6 1272.9,495.8 1276.6,495.6C1280.2,495.4 1283.8,489.4 1287.4,490.0C1291.0,490.6 1294.7,497.4 1298.3,499.2C1301.9,500.9 1305.5,499.3 1309.2,500.5C1312.8,501.8 1316.4,506.2 1320.0,506.7C1323.6,507.2 1327.3,503.6 1330.9,503.6C1334.5,503.5 1338.1,506.5 1341.8,506.4C1345.4,506.2 1349.0,502.6 1352.6,502.7C1356.2,502.8 1359.9,506.4 1363.5,507.1C1367.1,507.8 1370.7,506.7 1374.3,506.7C1378.0,506.8 1381.6,508.4 1385.2,507.5C1388.8,506.7 1392.5,503.5 1396.1,501.7C1399.7,499.9 1403.3,497.8 1406.9,496.8C1410.6,495.8 1414.2,496.3 1417.8,495.8C1421.4,495.3 1425.0,494.1 1428.7,494.1C1432.3,494.0 1435.9,494.7 1439.5,495.7C1443.2,496.6 1448.6,499.0 1450.4,499.7" stroke="#f0b416" stroke-width="2.6" fill="none" stroke-opacity="0.15"/>
<path d="M1015.8,499.9C1017.6,499.5 1023.0,497.2 1026.7,497.5C1030.3,497.9 1033.9,501.4 1037.5,502.1C1041.2,502.8 1044.8,501.1 1048.4,501.8C1052.0,502.5 1055.6,505.3 1059.3,506.3C1062.9,507.3 1066.5,507.5 1070.1,507.7C1073.7,507.8 1077.4,505.7 1081.0,507.2C1084.6,508.7 1088.2,517.3 1091.9,516.7C1095.5,516.1 1099.1,506.9 1102.7,503.7C1106.3,500.6 1110.0,497.9 1113.6,497.6C1117.2,497.4 1120.8,501.0 1124.5,502.4C1128.1,503.7 1131.7,505.6 1135.3,505.9C1138.9,506.1 1142.6,503.5 1146.2,503.9C1149.8,504.3 1153.4,506.8 1157.0,508.0C1160.7,509.2 1164.3,509.8 1167.9,511.0C1171.5,512.2 1175.2,515.1 1178.8,515.2C1182.4,515.3 1186.0,512.9 1189.6,511.3C1193.3,509.7 1196.9,507.5 1200.5,505.8C1204.1,504.1 1207.7,502.6 1211.4,500.9C1215.0,499.2 1218.6,495.6 1222.2,495.8C1225.9,496.0 1229.5,500.0 1233.1,502.1C1236.7,504.1 1240.3,505.6 1244.0,508.0C1247.6,510.4 1251.2,516.2 1254.8,516.7C1258.5,517.2 1262.1,511.2 1265.7,510.8C1269.3,510.3 1272.9,513.9 1276.6,514.1C1280.2,514.2 1283.8,512.3 1287.4,511.6C1291.0,510.9 1294.7,511.6 1298.3,510.0C1301.9,508.4 1305.5,502.6 1309.2,502.2C1312.8,501.8 1316.4,507.2 1320.0,507.5C1323.6,507.8 1327.3,504.2 1330.9,504.3C1334.5,504.3 1338.1,506.7 1341.8,508.0C1345.4,509.2 1349.0,511.0 1352.6,511.7C1356.2,512.3 1359.9,511.2 1363.5,511.8C1367.1,512.4 1370.7,515.3 1374.3,515.4C1378.0,515.5 1381.6,513.8 1385.2,512.3C1388.8,510.8 1392.5,506.9 1396.1,506.4C1399.7,505.9 1403.3,509.6 1406.9,509.4C1410.6,509.2 1414.2,505.7 1417.8,505.2C1421.4,504.6 1425.0,505.7 1428.7,506.1C1432.3,506.5 1435.9,506.0 1439.5,507.7C1443.2,509.4 1448.6,514.9 1450.4,516.3" stroke="#f0b416" stroke-width="2.6" fill="none" stroke-opacity="0.15"/>
<path d="M1015.8,498.5C1017.6,500.0 1023.0,505.8 1026.7,507.2C1030.3,508.7 1033.9,506.8 1037.5,507.1C1041.2,507.3 1044.8,508.9 1048.4,508.8C1052.0,508.7 1055.6,507.6 1059.3,506.6C1062.9,505.7 1066.5,503.9 1070.1,503.2C1073.7,502.6 1077.4,504.1 1081.0,502.9C1084.6,501.7 1088.2,497.1 1091.9,496.0C1095.5,494.9 1099.1,495.8 1102.7,496.4C1106.3,497.1 1110.0,498.6 1113.6,499.8C1117.2,501.0 1120.8,501.8 1124.5,503.8C1128.1,505.9 1131.7,511.2 1135.3,512.2C1138.9,513.2 1142.6,509.8 1146.2,509.9C1149.8,510.0 1153.4,512.6 1157.0,512.6C1160.7,512.6 1164.3,511.4 1167.9,509.9C1171.5,508.4 1175.2,505.5 1178.8,503.9C1182.4,502.2 1186.0,500.5 1189.6,499.9C1193.3,499.3 1196.9,499.6 1200.5,500.2C1204.1,500.8 1207.7,501.9 1211.4,503.4C1215.0,504.9 1218.6,508.1 1222.2,509.2C1225.9,510.3 1229.5,509.1 1233.1,510.0C1236.7,510.8 1240.3,513.4 1244.0,514.2C1247.6,515.1 1251.2,516.1 1254.8,515.1C1258.5,514.1 1262.1,510.5 1265.7,508.1C1269.3,505.7 1272.9,501.6 1276.6,500.7C1280.2,499.8 1283.8,502.2 1287.4,502.8C1291.0,503.4 1294.7,504.7 1298.3,504.3C1301.9,503.9 1305.5,500.6 1309.2,500.5C1312.8,500.4 1316.4,501.7 1320.0,503.7C1323.6,505.7 1327.3,510.9 1330.9,512.7C1334.5,514.5 1338.1,514.4 1341.8,514.4C1345.4,514.3 1349.0,514.4 1352.6,512.4C1356.2,510.4 1359.9,503.3 1363.5,502.2C1367.1,501.1 1370.7,505.8 1374.3,505.6C1378.0,505.3 1381.6,501.3 1385.2,500.7C1388.8,500.1 1392.5,500.3 1396.1,501.9C1399.7,503.5 1403.3,508.5 1406.9,510.2C1410.6,512.0 1414.2,511.4 1417.8,512.5C1421.4,513.5 1425.0,516.3 1428.7,516.6C1432.3,516.9 1435.9,514.6 1439.5,514.2C1443.2,513.8 1448.6,514.2 1450.4,514.2" stroke="#f0b416" stroke-width="2.6" fill="none" stroke-opacity="0.15"/>
<path d="M1015.8,497.1C1017.6,496.7 1023.0,496.0 1026.7,494.4C1030.3,492.8 1033.9,487.8 1037.5,487.3C1041.2,486.9 1044.8,491.5 1048.4,491.6C1052.0,491.7 1055.6,488.5 1059.3,488.0C1062.9,487.5 1066.5,487.5 1070.1,488.5C1073.7,489.6 1077.4,493.6 1081.0,494.1C1084.6,494.7 1088.2,491.7 1091.9,492.1C1095.5,492.5 1099.1,495.6 1102.7,496.5C1106.3,497.4 1110.0,496.8 1113.6,497.2C1117.2,497.6 1120.8,498.4 1124.5,499.1C1128.1,499.8 1131.7,500.6 1135.3,501.5C1138.9,502.3 1142.6,504.6 1146.2,504.4C1149.8,504.2 1153.4,500.2 1157.0,500.4C1160.7,500.7 1164.3,505.3 1167.9,505.8C1171.5,506.3 1175.2,504.3 1178.8,503.4C1182.4,502.5 1186.0,500.6 1189.6,500.4C1193.3,500.2 1196.9,502.2 1200.5,502.1C1204.1,501.9 1207.7,500.5 1211.4,499.6C1215.0,498.8 1218.6,497.6 1222.2,497.0C1225.9,496.4 1229.5,496.7 1233.1,496.0C1236.7,495.4 1240.3,492.2 1244.0,492.8C1247.6,493.4 1251.2,500.2 1254.8,499.7C1258.5,499.3 1262.1,491.0 1265.7,490.2C1269.3,489.4 1272.9,493.3 1276.6,494.9C1280.2,496.6 1283.8,499.4 1287.4,499.9C1291.0,500.4 1294.7,497.8 1298.3,498.0C1301.9,498.3 1305.5,501.2 1309.2,501.4C1312.8,501.7 1316.4,499.1 1320.0,499.7C1323.6,500.4 1327.3,504.5 1330.9,505.6C1334.5,506.7 1338.1,506.5 1341.8,506.4C1345.4,506.2 1349.0,504.8 1352.6,504.9C1356.2,504.9 1359.9,505.8 1363.5,506.7C1367.1,507.6 1370.7,509.8 1374.3,510.2C1378.0,510.6 1381.6,509.4 1385.2,509.1C1388.8,508.8 1392.5,508.9 1396.1,508.6C1399.7,508.3 1403.3,507.7 1406.9,507.3C1410.6,507.0 1414.2,506.7 1417.8,506.3C1421.4,506.0 1425.0,506.2 1428.7,505.3C1432.3,504.4 1435.9,500.7 1439.5,500.7C1443.2,500.8 1448.6,504.7 1450.4,505.5" stroke="#f0b416" stroke-width="2.6" fill="none" stroke-opacity="0.15"/>
<path d="M1015.8,506.9C1017.6,507.6 1023.0,509.9 1026.7,510.7C1030.3,511.4 1033.9,511.4 1037.5,511.5C1041.2,511.6 1044.8,510.3 1048.4,511.1C1052.0,512.0 1055.6,515.6 1059.3,516.7C1062.9,517.9 1066.5,518.1 1070.1,518.1C1073.7,518.1 1077.4,516.8 1081.0,516.8C1084.6,516.7 1088.2,517.0 1091.9,517.7C1095.5,518.3 1099.1,521.4 1102.7,520.7C1106.3,519.9 1110.0,514.4 1113.6,513.0C1117.2,511.7 1120.8,512.9 1124.5,512.6C1128.1,512.2 1131.7,512.1 1135.3,511.1C1138.9,510.0 1142.6,507.1 1146.2,506.4C1149.8,505.8 1153.4,506.7 1157.0,507.1C1160.7,507.5 1164.3,507.6 1167.9,508.8C1171.5,509.9 1175.2,512.9 1178.8,513.9C1182.4,514.8 1186.0,514.7 1189.6,514.4C1193.3,514.2 1196.9,512.1 1200.5,512.2C1204.1,512.3 1207.7,514.4 1211.4,515.0C1215.0,515.6 1218.6,515.4 1222.2,515.9C1225.9,516.5 1229.5,517.5 1233.1,518.4C1236.7,519.3 1240.3,520.4 1244.0,521.3C1247.6,522.2 1251.2,523.4 1254.8,523.6C1258.5,523.8 1262.1,523.4 1265.7,522.5C1269.3,521.7 1272.9,519.2 1276.6,518.7C1280.2,518.1 1283.8,520.4 1287.4,519.3C1291.0,518.3 1294.7,512.9 1298.3,512.3C1301.9,511.6 1305.5,515.1 1309.2,515.6C1312.8,516.2 1316.4,516.2 1320.0,515.3C1323.6,514.4 1327.3,510.5 1330.9,510.4C1334.5,510.3 1338.1,515.2 1341.8,514.6C1345.4,514.0 1349.0,506.6 1352.6,506.7C1356.2,506.8 1359.9,513.9 1363.5,515.3C1367.1,516.7 1370.7,514.6 1374.3,515.1C1378.0,515.6 1381.6,516.9 1385.2,518.1C1388.8,519.2 1392.5,520.5 1396.1,521.9C1399.7,523.3 1403.3,525.3 1406.9,526.2C1410.6,527.1 1414.2,528.5 1417.8,527.6C1421.4,526.7 1425.0,522.1 1428.7,520.7C1432.3,519.4 1435.9,520.6 1439.5,519.7C1443.2,518.8 1448.6,516.0 1450.4,515.3" stroke="#f0b416" stroke-width="2.6" fill="none" stroke-opacity="0.15"/>
<path d="M1015.8,519.7C1017.6,519.8 1023.0,521.3 1026.7,520.5C1030.3,519.8 1033.9,516.4 1037.5,515.0C1041.2,513.6 1044.8,512.9 1048.4,512.2C1052.0,511.6 1055.6,511.9 1059.3,511.2C1062.9,510.5 1066.5,507.9 1070.1,508.1C1073.7,508.3 1077.4,512.2 1081.0,512.4C1084.6,512.6 1088.2,508.4 1091.9,509.2C1095.5,509.9 1099.1,516.3 1102.7,517.1C1106.3,517.8 1110.0,511.8 1113.6,513.6C1117.2,515.3 1120.8,526.1 1124.5,527.7C1128.1,529.2 1131.7,523.0 1135.3,522.8C1138.9,522.6 1142.6,526.1 1146.2,526.4C1149.8,526.7 1153.4,525.6 1157.0,524.8C1160.7,524.0 1164.3,522.1 1167.9,521.5C1171.5,520.8 1175.2,520.9 1178.8,520.7C1182.4,520.4 1186.0,521.3 1189.6,520.1C1193.3,518.9 1196.9,513.6 1200.5,513.5C1204.1,513.5 1207.7,519.2 1211.4,519.7C1215.0,520.2 1218.6,518.2 1222.2,516.6C1225.9,515.0 1229.5,510.7 1233.1,510.2C1236.7,509.8 1240.3,512.1 1244.0,514.1C1247.6,516.0 1251.2,521.3 1254.8,522.0C1258.5,522.7 1262.1,517.7 1265.7,518.2C1269.3,518.7 1272.9,524.5 1276.6,524.9C1280.2,525.3 1283.8,520.8 1287.4,520.5C1291.0,520.2 1294.7,521.9 1298.3,523.3C1301.9,524.6 1305.5,528.5 1309.2,528.6C1312.8,528.6 1316.4,523.7 1320.0,523.6C1323.6,523.5 1327.3,528.3 1330.9,527.9C1334.5,527.5 1338.1,522.7 1341.8,521.3C1345.4,520.0 1349.0,520.2 1352.6,519.9C1356.2,519.5 1359.9,519.2 1363.5,519.4C1367.1,519.6 1370.7,521.4 1374.3,521.1C1378.0,520.7 1381.6,517.0 1385.2,517.3C1388.8,517.6 1392.5,522.4 1396.1,522.8C1399.7,523.2 1403.3,519.3 1406.9,519.6C1410.6,520.0 1414.2,525.1 1417.8,525.2C1421.4,525.2 1425.0,519.4 1428.7,519.9C1432.3,520.4 1435.9,525.8 1439.5,528.2C1443.2,530.6 1448.6,533.2 1450.4,534.2" stroke="#f0b416" stroke-width="2.6" fill="none" stroke-opacity="0.15"/>
<path d="M1015.8,502.0C1017.6,501.3 1023.0,498.3 1026.7,497.7C1030.3,497.1 1033.9,497.7 1037.5,498.5C1041.2,499.2 1044.8,499.9 1048.4,502.1C1052.0,504.4 1055.6,511.1 1059.3,512.0C1062.9,512.8 1066.5,507.8 1070.1,507.2C1073.7,506.6 1077.4,507.6 1081.0,508.5C1084.6,509.3 1088.2,511.7 1091.9,512.3C1095.5,512.8 1099.1,512.9 1102.7,511.6C1106.3,510.2 1110.0,505.2 1113.6,504.1C1117.2,503.0 1120.8,505.9 1124.5,505.2C1128.1,504.6 1131.7,501.0 1135.3,500.2C1138.9,499.4 1142.6,500.0 1146.2,500.3C1149.8,500.7 1153.4,500.9 1157.0,502.4C1160.7,504.0 1164.3,508.1 1167.9,509.7C1171.5,511.3 1175.2,512.0 1178.8,512.1C1182.4,512.1 1186.0,511.2 1189.6,510.0C1193.3,508.9 1196.9,506.0 1200.5,505.3C1204.1,504.6 1207.7,505.8 1211.4,505.8C1215.0,505.8 1218.6,505.6 1222.2,505.3C1225.9,505.0 1229.5,503.5 1233.1,503.9C1236.7,504.2 1240.3,506.4 1244.0,507.5C1247.6,508.7 1251.2,509.8 1254.8,510.7C1258.5,511.5 1262.1,512.1 1265.7,512.6C1269.3,513.0 1272.9,513.2 1276.6,513.3C1280.2,513.3 1283.8,513.4 1287.4,512.8C1291.0,512.2 1294.7,510.7 1298.3,509.7C1301.9,508.8 1305.5,508.2 1309.2,506.9C1312.8,505.7 1316.4,503.3 1320.0,502.3C1323.6,501.4 1327.3,500.8 1330.9,501.2C1334.5,501.5 1338.1,503.3 1341.8,504.2C1345.4,505.1 1349.0,504.7 1352.6,506.5C1356.2,508.3 1359.9,513.2 1363.5,514.9C1367.1,516.5 1370.7,517.1 1374.3,516.3C1378.0,515.5 1381.6,511.0 1385.2,510.0C1388.8,509.0 1392.5,511.1 1396.1,510.4C1399.7,509.7 1403.3,506.8 1406.9,506.0C1410.6,505.2 1414.2,506.2 1417.8,505.6C1421.4,505.1 1425.0,502.0 1428.7,502.6C1432.3,503.2 1435.9,507.1 1439.5,509.2C1443.2,511.3 1448.6,514.0 1450.4,515.0" stroke="#f0b416" stroke-width="2.6" fill="none" stroke-opacity="0.15"/>
<path d="M1015.8,508.8C1017.6,509.0 1023.0,509.4 1026.7,510.2C1030.3,510.9 1033.9,512.9 1037.5,513.4C1041.2,514.0 1044.8,513.0 1048.4,513.5C1052.0,514.0 1055.6,516.7 1059.3,516.3C1062.9,515.9 1066.5,511.1 1070.1,511.0C1073.7,510.9 1077.4,515.8 1081.0,515.7C1084.6,515.7 1088.2,511.7 1091.9,510.6C1095.5,509.5 1099.1,510.2 1102.7,509.0C1106.3,507.8 1110.0,504.3 1113.6,503.5C1117.2,502.7 1120.8,504.1 1124.5,504.0C1128.1,503.9 1131.7,502.6 1135.3,502.9C1138.9,503.3 1142.6,505.2 1146.2,506.3C1149.8,507.4 1153.4,508.4 1157.0,509.5C1160.7,510.7 1164.3,512.6 1167.9,513.3C1171.5,514.1 1175.2,513.5 1178.8,514.1C1182.4,514.7 1186.0,516.5 1189.6,516.9C1193.3,517.2 1196.9,516.2 1200.5,516.1C1204.1,515.9 1207.7,516.5 1211.4,516.0C1215.0,515.6 1218.6,513.7 1222.2,513.4C1225.9,513.1 1229.5,514.2 1233.1,514.2C1236.7,514.3 1240.3,513.9 1244.0,513.5C1247.6,513.1 1251.2,512.9 1254.8,511.9C1258.5,510.8 1262.1,508.2 1265.7,507.1C1269.3,506.0 1272.9,506.3 1276.6,505.4C1280.2,504.5 1283.8,501.2 1287.4,501.6C1291.0,502.0 1294.7,506.9 1298.3,507.6C1301.9,508.3 1305.5,505.7 1309.2,505.9C1312.8,506.0 1316.4,506.2 1320.0,508.4C1323.6,510.5 1327.3,517.6 1330.9,518.7C1334.5,519.7 1338.1,515.3 1341.8,514.9C1345.4,514.5 1349.0,516.1 1352.6,516.3C1356.2,516.4 1359.9,515.4 1363.5,515.7C1367.1,516.0 1370.7,518.4 1374.3,518.0C1378.0,517.6 1381.6,514.0 1385.2,513.4C1388.8,512.9 1392.5,515.0 1396.1,514.7C1399.7,514.3 1403.3,512.1 1406.9,511.2C1410.6,510.3 1414.2,510.5 1417.8,509.3C1421.4,508.1 1425.0,503.9 1428.7,504.0C1432.3,504.1 1435.9,509.0 1439.5,509.7C1443.2,510.4 1448.6,508.5 1450.4,508.2" stroke="#f0b416" stroke-width="2.6" fill="none" stroke-opacity="0.15"/>
<path d="M1015.8,511.9C1017.6,511.6 1023.0,511.1 1026.7,509.8C1030.3,508.6 1033.9,504.9 1037.5,504.2C1041.2,503.5 1044.8,505.7 1048.4,505.8C1052.0,506.0 1055.6,505.7 1059.3,505.0C1062.9,504.3 1066.5,502.0 1070.1,501.8C1073.7,501.5 1077.4,502.6 1081.0,503.5C1084.6,504.3 1088.2,505.6 1091.9,506.8C1095.5,508.0 1099.1,510.2 1102.7,510.5C1106.3,510.8 1110.0,508.7 1113.6,508.7C1117.2,508.7 1120.8,509.6 1124.5,510.6C1128.1,511.6 1131.7,513.9 1135.3,514.6C1138.9,515.2 1142.6,513.6 1146.2,514.4C1149.8,515.2 1153.4,519.5 1157.0,519.4C1160.7,519.4 1164.3,515.3 1167.9,514.2C1171.5,513.1 1175.2,513.4 1178.8,513.0C1182.4,512.5 1186.0,511.7 1189.6,511.5C1193.3,511.3 1196.9,512.3 1200.5,511.7C1204.1,511.1 1207.7,508.7 1211.4,507.8C1215.0,506.8 1218.6,506.8 1222.2,505.9C1225.9,505.0 1229.5,502.7 1233.1,502.4C1236.7,502.1 1240.3,503.8 1244.0,504.3C1247.6,504.7 1251.2,504.2 1254.8,505.1C1258.5,505.9 1262.1,508.8 1265.7,509.2C1269.3,509.5 1272.9,507.3 1276.6,507.3C1280.2,507.2 1283.8,507.5 1287.4,508.9C1291.0,510.3 1294.7,514.7 1298.3,515.7C1301.9,516.7 1305.5,514.6 1309.2,514.8C1312.8,515.0 1316.4,516.3 1320.0,516.9C1323.6,517.5 1327.3,517.6 1330.9,518.3C1334.5,518.9 1338.1,522.0 1341.8,521.0C1345.4,519.9 1349.0,512.0 1352.6,511.7C1356.2,511.5 1359.9,519.3 1363.5,519.2C1367.1,519.2 1370.7,512.8 1374.3,511.4C1378.0,510.1 1381.6,512.1 1385.2,511.1C1388.8,510.2 1392.5,506.0 1396.1,505.6C1399.7,505.2 1403.3,508.4 1406.9,508.8C1410.6,509.1 1414.2,507.9 1417.8,507.6C1421.4,507.3 1425.0,506.8 1428.7,507.1C1432.3,507.3 1435.9,508.0 1439.5,509.2C1443.2,510.4 1448.6,513.2 1450.4,514.0" stroke="#f0b416" stroke-width="2.6" fill="none" stroke-opacity="0.15"/>
<path d="M1015.8,497.1C1017.6,497.6 1023.0,499.0 1026.7,500.1C1030.3,501.3 1033.9,502.5 1037.5,503.9C1041.2,505.2 1044.8,507.5 1048.4,508.2C1052.0,508.9 1055.6,507.8 1059.3,508.0C1062.9,508.2 1066.5,509.4 1070.1,509.2C1073.7,509.0 1077.4,506.6 1081.0,506.7C1084.6,506.8 1088.2,510.1 1091.9,509.9C1095.5,509.7 1099.1,507.1 1102.7,505.7C1106.3,504.2 1110.0,501.6 1113.6,500.9C1117.2,500.2 1120.8,501.9 1124.5,501.7C1128.1,501.5 1131.7,500.1 1135.3,499.7C1138.9,499.4 1142.6,498.9 1146.2,499.5C1149.8,500.0 1153.4,501.9 1157.0,503.0C1160.7,504.1 1164.3,506.2 1167.9,506.3C1171.5,506.5 1175.2,503.5 1178.8,504.0C1182.4,504.5 1186.0,508.0 1189.6,509.4C1193.3,510.7 1196.9,511.0 1200.5,512.1C1204.1,513.1 1207.7,515.9 1211.4,515.8C1215.0,515.7 1218.6,513.0 1222.2,511.5C1225.9,509.9 1229.5,506.9 1233.1,506.7C1236.7,506.4 1240.3,510.0 1244.0,510.0C1247.6,509.9 1251.2,508.3 1254.8,506.6C1258.5,504.9 1262.1,500.9 1265.7,499.5C1269.3,498.1 1272.9,498.2 1276.6,498.0C1280.2,497.9 1283.8,497.2 1287.4,498.6C1291.0,499.9 1294.7,504.9 1298.3,506.2C1301.9,507.4 1305.5,505.1 1309.2,506.2C1312.8,507.3 1316.4,511.8 1320.0,512.8C1323.6,513.7 1327.3,511.5 1330.9,511.9C1334.5,512.4 1338.1,515.2 1341.8,515.5C1345.4,515.8 1349.0,514.8 1352.6,513.8C1356.2,512.7 1359.9,510.0 1363.5,509.2C1367.1,508.5 1370.7,509.5 1374.3,509.3C1378.0,509.0 1381.6,508.7 1385.2,508.0C1388.8,507.2 1392.5,505.7 1396.1,504.9C1399.7,504.1 1403.3,503.1 1406.9,503.2C1410.6,503.3 1414.2,505.1 1417.8,505.5C1421.4,505.8 1425.0,505.1 1428.7,505.3C1432.3,505.6 1435.9,506.7 1439.5,507.1C1443.2,507.5 1448.6,507.6 1450.4,507.7" stroke="#f0b416" stroke-width="2.6" fill="none" stroke-opacity="0.15"/>
<path d="M1017.5,499.2C1019.0,499.0 1023.5,497.0 1026.4,498.0C1029.4,499.0 1031.4,503.0 1035.4,505.2C1039.4,507.4 1045.4,511.4 1050.4,511.2C1055.3,511.0 1060.3,504.8 1065.3,504.0C1070.3,503.2 1075.3,505.0 1080.2,506.4C1085.2,507.8 1089.7,511.1 1095.2,512.4C1100.7,513.7 1107.1,514.5 1113.1,514.1C1119.1,513.7 1125.1,511.3 1131.0,510.0C1137.0,508.7 1144.0,507.7 1149.0,506.4C1154.0,505.1 1156.9,502.6 1160.9,502.2C1164.9,501.8 1168.9,502.7 1172.9,504.0C1176.9,505.3 1179.9,508.0 1184.8,510.0C1189.8,512.0 1196.8,515.1 1202.8,515.9C1208.8,516.7 1214.7,515.5 1220.7,514.7C1226.7,513.9 1232.7,510.6 1238.6,511.2C1244.6,511.8 1250.6,517.5 1256.6,518.3C1262.5,519.1 1268.5,517.3 1274.5,515.9C1280.5,514.5 1286.5,510.8 1292.4,510.0C1298.4,509.2 1304.4,510.2 1310.4,511.2C1316.3,512.2 1322.3,514.4 1328.3,515.9C1334.3,517.4 1340.3,519.6 1346.2,520.1C1352.2,520.6 1358.2,519.9 1364.2,518.9C1370.1,517.9 1376.1,514.6 1382.1,514.1C1388.1,513.7 1394.0,515.1 1400.0,515.9C1406.0,516.7 1412.0,519.9 1418.0,518.9C1423.9,517.9 1430.9,510.8 1435.9,510.0C1440.9,509.2 1445.8,513.5 1447.8,514.1" stroke="#e6ab1a" stroke-width="3.5" fill="none"/>
<polyline points="1017.5,460.4 1023.5,466.3 1038.4,454.4 1050.4,469.3 1059.3,488.4 1066.5,484.3 1077.3,463.3 1089.2,449.6 1098.2,457.4 1110.1,472.3 1119.1,484.3 1126.3,487.3 1137.0,472.3 1149.0,463.3 1160.9,461.5 1169.9,469.3 1178.9,484.3 1187.8,490.2 1196.8,480.1 1205.8,468.1 1214.7,466.3 1223.7,475.3 1233.9,486.1 1241.6,476.5 1250.6,468.1 1259.6,471.1 1268.5,482.5 1277.5,493.2 1285.3,498.0 1292.4,484.3 1298.4,469.3 1305.6,467.5 1313.4,475.3 1325.3,477.1 1334.3,487.3 1343.2,481.3 1352.2,469.3 1361.2,460.4 1368.9,457.4 1376.1,459.2 1385.1,472.3 1394.0,469.3 1400.0,482.5 1407.2,488.4 1415.0,478.3 1420.9,467.5 1426.9,465.1 1434.7,475.3 1441.9,486.1 1447.8,483.1" stroke="#d1501f" stroke-width="3.6" fill="none" stroke-linejoin="round"/>
<path d="M1017.5,547.0C1020.5,545.5 1029.4,541.5 1035.4,538.1C1041.4,534.6 1047.9,529.6 1053.3,526.1C1058.8,522.6 1063.3,522.1 1068.3,517.1C1073.3,512.2 1078.2,503.7 1083.2,496.2C1088.2,488.7 1093.2,479.3 1098.2,472.3C1103.2,465.3 1108.6,459.4 1113.1,454.4C1117.6,449.4 1121.6,445.2 1125.1,442.4C1128.6,439.6 1131.0,437.6 1134.0,437.6C1137.0,437.6 1140.0,438.1 1143.0,442.4C1146.0,446.7 1149.0,454.9 1152.0,463.3C1155.0,471.8 1157.9,483.8 1160.9,493.2C1163.9,502.7 1166.9,512.4 1169.9,520.1C1172.9,527.9 1175.4,534.9 1178.9,539.9C1182.4,544.8 1185.8,547.5 1190.8,550.0C1195.8,552.5 1201.8,554.3 1208.8,554.8C1215.7,555.3 1224.7,552.7 1232.7,553.0C1240.6,553.3 1249.6,556.3 1256.6,556.6C1263.5,556.9 1269.5,555.9 1274.5,554.8C1279.5,553.7 1283.0,553.3 1286.5,550.0C1289.9,546.7 1292.4,542.5 1295.4,535.1C1298.4,527.6 1301.4,515.6 1304.4,505.2C1307.4,494.7 1310.4,481.3 1313.4,472.3C1316.3,463.3 1318.8,456.2 1322.3,451.4C1325.8,446.6 1330.3,444.1 1334.3,443.6C1338.3,443.1 1342.2,445.6 1346.2,448.4C1350.2,451.2 1354.2,454.9 1358.2,460.4C1362.2,465.8 1365.7,472.8 1370.1,481.3C1374.6,489.7 1380.1,503.2 1385.1,511.2C1390.1,519.1 1394.5,524.1 1400.0,529.1C1405.5,534.1 1412.0,537.9 1418.0,541.0C1423.9,544.2 1430.9,546.5 1435.9,548.2C1440.9,549.9 1445.8,550.7 1447.8,551.2" stroke="#3479c2" stroke-width="3.6" fill="none"/>
</g>
<rect x="1015.8" y="313.5" width="434.60000000000014" height="333.1" fill="none" stroke="#1a1a1a" stroke-width="3"/>
<line x1="1088.2333333333333" y1="646.6" x2="1088.2333333333333" y2="639.6" stroke="#1a1a1a" stroke-width="2.4"/>
<line x1="1088.2333333333333" y1="313.5" x2="1088.2333333333333" y2="320.5" stroke="#1a1a1a" stroke-width="2.4"/>
<line x1="1160.6666666666667" y1="646.6" x2="1160.6666666666667" y2="639.6" stroke="#1a1a1a" stroke-width="2.4"/>
<line x1="1160.6666666666667" y1="313.5" x2="1160.6666666666667" y2="320.5" stroke="#1a1a1a" stroke-width="2.4"/>
<line x1="1233.1" y1="646.6" x2="1233.1" y2="639.6" stroke="#1a1a1a" stroke-width="2.4"/>
<line x1="1233.1" y1="313.5" x2="1233.1" y2="320.5" stroke="#1a1a1a" stroke-width="2.4"/>
<line x1="1305.5333333333333" y1="646.6" x2="1305.5333333333333" y2="639.6" stroke="#1a1a1a" stroke-width="2.4"/>
<line x1="1305.5333333333333" y1="313.5" x2="1305.5333333333333" y2="320.5" stroke="#1a1a1a" stroke-width="2.4"/>
<line x1="1377.9666666666667" y1="646.6" x2="1377.9666666666667" y2="639.6" stroke="#1a1a1a" stroke-width="2.4"/>
<line x1="1377.9666666666667" y1="313.5" x2="1377.9666666666667" y2="320.5" stroke="#1a1a1a" stroke-width="2.4"/>
<line x1="1015.8" y1="609.588888888889" x2="1021.3" y2="609.588888888889" stroke="#1a1a1a" stroke-width="2.4"/>
<line x1="1450.4" y1="609.588888888889" x2="1444.9" y2="609.588888888889" stroke="#1a1a1a" stroke-width="2.4"/>
<line x1="1015.8" y1="572.5777777777778" x2="1024.8" y2="572.5777777777778" stroke="#1a1a1a" stroke-width="2.4"/>
<line x1="1450.4" y1="572.5777777777778" x2="1441.4" y2="572.5777777777778" stroke="#1a1a1a" stroke-width="2.4"/>
<line x1="1015.8" y1="535.5666666666667" x2="1021.3" y2="535.5666666666667" stroke="#1a1a1a" stroke-width="2.4"/>
<line x1="1450.4" y1="535.5666666666667" x2="1444.9" y2="535.5666666666667" stroke="#1a1a1a" stroke-width="2.4"/>
<line x1="1015.8" y1="498.55555555555554" x2="1024.8" y2="498.55555555555554" stroke="#1a1a1a" stroke-width="2.4"/>
<line x1="1450.4" y1="498.55555555555554" x2="1441.4" y2="498.55555555555554" stroke="#1a1a1a" stroke-width="2.4"/>
<line x1="1015.8" y1="461.5444444444445" x2="1021.3" y2="461.5444444444445" stroke="#1a1a1a" stroke-width="2.4"/>
<line x1="1450.4" y1="461.5444444444445" x2="1444.9" y2="461.5444444444445" stroke="#1a1a1a" stroke-width="2.4"/>
<line x1="1015.8" y1="424.5333333333333" x2="1024.8" y2="424.5333333333333" stroke="#1a1a1a" stroke-width="2.4"/>
<line x1="1450.4" y1="424.5333333333333" x2="1441.4" y2="424.5333333333333" stroke="#1a1a1a" stroke-width="2.4"/>
<line x1="1015.8" y1="387.52222222222224" x2="1021.3" y2="387.52222222222224" stroke="#1a1a1a" stroke-width="2.4"/>
<line x1="1450.4" y1="387.52222222222224" x2="1444.9" y2="387.52222222222224" stroke="#1a1a1a" stroke-width="2.4"/>
<line x1="1015.8" y1="350.5111111111111" x2="1024.8" y2="350.5111111111111" stroke="#1a1a1a" stroke-width="2.4"/>
<line x1="1450.4" y1="350.5111111111111" x2="1441.4" y2="350.5111111111111" stroke="#1a1a1a" stroke-width="2.4"/>
<text x="1009" y="655.6999999999999" font-size="25.5" text-anchor="end">0</text>
<text x="1009" y="582.8777777777777" font-size="25.5" text-anchor="end">0.2</text>
<text x="1009" y="508.85555555555555" font-size="25.5" text-anchor="end">0.4</text>
<text x="1009" y="433.83333333333337" font-size="25.5" text-anchor="end">0.6</text>
<text x="1009" y="363.31111111111113" font-size="25.5" text-anchor="end">0.8</text>
<text x="1085.2333333333333" y="674" font-size="25.5" text-anchor="middle">-0.2</text>
<text x="1233.1" y="674" font-size="25.5" text-anchor="middle">0</text>
<text x="1377.9666666666667" y="674" font-size="25.5" text-anchor="middle">0.2</text>
<text x="1027.3" y="708.8" font-size="33.3">beat timing difference,</text>
<text x="1358" y="708.8" font-size="40" font-family='"Liberation Serif", serif' font-style="italic">τ</text>
<text x="1387.3" y="708.8" font-size="33.3">(s)</text>
<line x1="1359.5" y1="687.2" x2="1377" y2="687.2" stroke="#000" stroke-width="1.5"/>
<text x="953.5" y="657.5" font-size="33.1" transform="rotate(-90 953.5 657.5)">correlation, <tspan font-size="39.5" dx="-3" font-family='"Liberation Serif", serif'>∑</tspan><tspan font-size="39" dx="3" font-family='"Liberation Serif", serif' font-style="italic">C</tspan><tspan font-size="19" dy="9" dx="0.5" font-style="italic">ij</tspan><tspan dy="-9" dx="1" font-family='"Liberation Serif", serif' font-style="italic" font-size="38">/N</tspan></text>
<line x1="1045" y1="555.5" x2="1074" y2="555.5" stroke="#3479c2" stroke-width="3"/>
<text x="1086" y="566.0" font-size="33.3">close</text>
<line x1="1045" y1="589" x2="1074" y2="589" stroke="#d1501f" stroke-width="3"/>
<text x="1086" y="599.5" font-size="33.3">far</text>
<line x1="1045" y1="621" x2="1074" y2="621" stroke="#e6ab1a" stroke-width="3"/>
<text x="1086" y="631.5" font-size="33.3">randomized</text>
</g>
<g id="panelE">
<text x="1483" y="42.3" font-size="49.5" font-weight="bold">E</text>
<text x="1715.5" y="41.5" font-size="41.5" text-anchor="middle">Phase Response</text>
<text x="1716" y="92.5" font-size="41.5" text-anchor="middle">Curve (PRC)</text>
<text x="2039" y="49" font-size="33.5" text-anchor="middle">occurrences</text>
<linearGradient id="cb" x1="0" x2="1" y1="0" y2="0"><stop offset="0.000" stop-color="#4f309e"/><stop offset="0.025" stop-color="#5439a5"/><stop offset="0.050" stop-color="#5a42ac"/><stop offset="0.075" stop-color="#5c4ab0"/><stop offset="0.100" stop-color="#5d52b4"/><stop offset="0.125" stop-color="#5c57b6"/><stop offset="0.150" stop-color="#5c5cb8"/><stop offset="0.175" stop-color="#5a62ba"/><stop offset="0.200" stop-color="#5869bc"/><stop offset="0.225" stop-color="#5772bf"/><stop offset="0.250" stop-color="#567ac2"/><stop offset="0.275" stop-color="#5886c8"/><stop offset="0.300" stop-color="#5a91cd"/><stop offset="0.325" stop-color="#5a9bd1"/><stop offset="0.350" stop-color="#5aa5d5"/><stop offset="0.375" stop-color="#56aed6"/><stop offset="0.400" stop-color="#52b6d8"/><stop offset="0.425" stop-color="#51bed7"/><stop offset="0.450" stop-color="#50c6d6"/><stop offset="0.475" stop-color="#56cbcf"/><stop offset="0.500" stop-color="#5cd0c8"/><stop offset="0.525" stop-color="#68d3b9"/><stop offset="0.550" stop-color="#73d6aa"/><stop offset="0.575" stop-color="#78d68f"/><stop offset="0.600" stop-color="#7dd773"/><stop offset="0.625" stop-color="#8ad65f"/><stop offset="0.650" stop-color="#96d64b"/><stop offset="0.675" stop-color="#aad434"/><stop offset="0.700" stop-color="#bed21e"/><stop offset="0.725" stop-color="#ccc719"/><stop offset="0.750" stop-color="#dabc14"/><stop offset="0.775" stop-color="#e8bc23"/><stop offset="0.800" stop-color="#f5bc32"/><stop offset="0.825" stop-color="#f9c034"/><stop offset="0.850" stop-color="#fdc437"/><stop offset="0.875" stop-color="#fccc32"/><stop offset="0.900" stop-color="#fad42d"/><stop offset="0.925" stop-color="#f9d92c"/><stop offset="0.950" stop-color="#f8de2a"/><stop offset="0.975" stop-color="#f6e329"/><stop offset="1.000" stop-color="#f5e828"/></linearGradient>
<rect x="1922.8" y="59.6" width="228.6" height="12.8" fill="url(#cb)" stroke="#262626" stroke-width="2.8"/>
<line x1="1979.25" y1="73" x2="1979.25" y2="68.5" stroke="#262626" stroke-width="2"/>
<line x1="2037.0" y1="73" x2="2037.0" y2="68.5" stroke="#262626" stroke-width="2"/>
<line x1="2094.75" y1="73" x2="2094.75" y2="68.5" stroke="#262626" stroke-width="2"/>
<text x="1922" y="100.9" font-size="25" text-anchor="middle">0</text>
<text x="2036.6" y="100.9" font-size="25" text-anchor="middle">200</text>
<text x="2170" y="100.9" font-size="25" text-anchor="end">400</text>
<g shape-rendering="crispEdges">
<rect x="1571.2" y="130.0" width="287.6" height="459.20000000000005" fill="#4f309e"/>
<rect x="1571" y="497" width="8" height="23" fill="#543ea5"/>
<rect x="1579" y="497" width="8" height="23" fill="#5645a9"/>
<rect x="1587" y="497" width="8" height="23" fill="#5137a2"/>
<rect x="1595" y="497" width="8" height="23" fill="#5644a9"/>
<rect x="1603" y="497" width="16" height="23" fill="#533ba4"/>
<rect x="1619" y="497" width="8" height="23" fill="#584aac"/>
<rect x="1627" y="497" width="8" height="23" fill="#543ea6"/>
<rect x="1635" y="497" width="8" height="23" fill="#533da5"/>
<rect x="1643" y="497" width="8" height="23" fill="#5542a8"/>
<rect x="1571" y="474" width="8" height="23" fill="#594faf"/>
<rect x="1579" y="474" width="8" height="23" fill="#584aac"/>
<rect x="1587" y="474" width="8" height="23" fill="#594dae"/>
<rect x="1595" y="474" width="8" height="23" fill="#5643a8"/>
<rect x="1603" y="474" width="8" height="23" fill="#5747ab"/>
<rect x="1611" y="474" width="8" height="23" fill="#5747aa"/>
<rect x="1619" y="474" width="8" height="23" fill="#5541a7"/>
<rect x="1627" y="474" width="16" height="23" fill="#543fa6"/>
<rect x="1643" y="474" width="8" height="23" fill="#5748ab"/>
<rect x="1651" y="474" width="8" height="23" fill="#5849ab"/>
<rect x="1659" y="474" width="8" height="23" fill="#5748ab"/>
<rect x="1667" y="474" width="8" height="23" fill="#584aac"/>
<rect x="1571" y="451" width="8" height="23" fill="#5950af"/>
<rect x="1579" y="451" width="8" height="23" fill="#5b56b3"/>
<rect x="1587" y="451" width="8" height="23" fill="#5b58b4"/>
<rect x="1595" y="451" width="8" height="23" fill="#5c5bb6"/>
<rect x="1603" y="451" width="8" height="23" fill="#5a52b1"/>
<rect x="1611" y="451" width="8" height="23" fill="#5a55b2"/>
<rect x="1619" y="451" width="8" height="23" fill="#584cad"/>
<rect x="1627" y="451" width="8" height="23" fill="#5a54b2"/>
<rect x="1635" y="451" width="8" height="23" fill="#584bad"/>
<rect x="1643" y="451" width="8" height="23" fill="#594faf"/>
<rect x="1651" y="451" width="8" height="23" fill="#5c5cb7"/>
<rect x="1659" y="451" width="8" height="23" fill="#584bad"/>
<rect x="1667" y="451" width="8" height="23" fill="#5c5bb6"/>
<rect x="1675" y="451" width="8" height="23" fill="#5b58b5"/>
<rect x="1683" y="451" width="8" height="23" fill="#5a55b3"/>
<rect x="1691" y="451" width="8" height="23" fill="#584cad"/>
<rect x="1571" y="428" width="8" height="23" fill="#5972c0"/>
<rect x="1579" y="428" width="8" height="23" fill="#5875c2"/>
<rect x="1587" y="428" width="8" height="23" fill="#596ebf"/>
<rect x="1595" y="428" width="16" height="23" fill="#5b63ba"/>
<rect x="1611" y="428" width="8" height="23" fill="#5b61b9"/>
<rect x="1619" y="428" width="8" height="23" fill="#5b66bb"/>
<rect x="1627" y="428" width="8" height="23" fill="#5b62ba"/>
<rect x="1635" y="428" width="8" height="23" fill="#5a6bbd"/>
<rect x="1643" y="428" width="8" height="23" fill="#5c5db8"/>
<rect x="1651" y="428" width="8" height="23" fill="#5b61b9"/>
<rect x="1659" y="428" width="8" height="23" fill="#5b62b9"/>
<rect x="1667" y="428" width="8" height="23" fill="#5c5cb7"/>
<rect x="1675" y="428" width="8" height="23" fill="#596ebf"/>
<rect x="1683" y="428" width="8" height="23" fill="#5c5bb6"/>
<rect x="1691" y="428" width="8" height="23" fill="#5b65bb"/>
<rect x="1699" y="428" width="8" height="23" fill="#5b63ba"/>
<rect x="1707" y="428" width="8" height="23" fill="#5a6dbe"/>
<rect x="1715" y="428" width="8" height="23" fill="#584bac"/>
<rect x="1571" y="406" width="8" height="22" fill="#51b9d2"/>
<rect x="1579" y="406" width="8" height="22" fill="#5692cf"/>
<rect x="1587" y="406" width="8" height="22" fill="#5697d1"/>
<rect x="1595" y="406" width="8" height="22" fill="#559ed4"/>
<rect x="1603" y="406" width="8" height="22" fill="#559dd4"/>
<rect x="1611" y="406" width="8" height="22" fill="#568fcd"/>
<rect x="1619" y="406" width="8" height="22" fill="#5697d1"/>
<rect x="1627" y="406" width="8" height="22" fill="#5693cf"/>
<rect x="1635" y="406" width="8" height="22" fill="#53afd4"/>
<rect x="1643" y="406" width="8" height="22" fill="#5690ce"/>
<rect x="1651" y="406" width="8" height="22" fill="#53add4"/>
<rect x="1659" y="406" width="8" height="22" fill="#53a9d4"/>
<rect x="1667" y="406" width="8" height="22" fill="#54a6d4"/>
<rect x="1675" y="406" width="8" height="22" fill="#55a2d5"/>
<rect x="1683" y="406" width="8" height="22" fill="#559cd3"/>
<rect x="1691" y="406" width="8" height="22" fill="#55a1d5"/>
<rect x="1699" y="406" width="8" height="22" fill="#559ed4"/>
<rect x="1707" y="406" width="16" height="22" fill="#559ad2"/>
<rect x="1723" y="406" width="8" height="22" fill="#5692cf"/>
<rect x="1731" y="406" width="8" height="22" fill="#5b57b4"/>
<rect x="1739" y="406" width="8" height="22" fill="#5a54b2"/>
<rect x="1571" y="383" width="8" height="23" fill="#62d0c0"/>
<rect x="1579" y="383" width="8" height="23" fill="#50bcd2"/>
<rect x="1587" y="383" width="8" height="23" fill="#53a9d4"/>
<rect x="1595" y="383" width="8" height="23" fill="#53c1cf"/>
<rect x="1603" y="383" width="8" height="23" fill="#53abd4"/>
<rect x="1611" y="383" width="8" height="23" fill="#5eccc4"/>
<rect x="1619" y="383" width="16" height="23" fill="#50bdd2"/>
<rect x="1635" y="383" width="8" height="23" fill="#6dd3a4"/>
<rect x="1643" y="383" width="8" height="23" fill="#93d653"/>
<rect x="1651" y="383" width="8" height="23" fill="#a9d43d"/>
<rect x="1659" y="383" width="8" height="23" fill="#d3c926"/>
<rect x="1667" y="383" width="8" height="23" fill="#fad02e"/>
<rect x="1675" y="383" width="8" height="23" fill="#bcd22a"/>
<rect x="1683" y="383" width="8" height="23" fill="#73d590"/>
<rect x="1691" y="383" width="8" height="23" fill="#7dd672"/>
<rect x="1699" y="383" width="8" height="23" fill="#5ccac6"/>
<rect x="1707" y="383" width="8" height="23" fill="#51bad2"/>
<rect x="1715" y="383" width="8" height="23" fill="#52c0d0"/>
<rect x="1723" y="383" width="8" height="23" fill="#64d2be"/>
<rect x="1731" y="383" width="8" height="23" fill="#55a1d5"/>
<rect x="1739" y="383" width="8" height="23" fill="#51bfd1"/>
<rect x="1747" y="383" width="8" height="23" fill="#53a9d4"/>
<rect x="1755" y="383" width="8" height="23" fill="#5b59b5"/>
<rect x="1763" y="383" width="8" height="23" fill="#5b61b9"/>
<rect x="1571" y="360" width="8" height="23" fill="#86d760"/>
<rect x="1579" y="360" width="8" height="23" fill="#54a8d4"/>
<rect x="1587" y="360" width="8" height="23" fill="#59c7c9"/>
<rect x="1595" y="360" width="8" height="23" fill="#56c4cc"/>
<rect x="1603" y="360" width="8" height="23" fill="#58c6ca"/>
<rect x="1611" y="360" width="8" height="23" fill="#5ac8c8"/>
<rect x="1619" y="360" width="16" height="23" fill="#53c1cf"/>
<rect x="1635" y="360" width="8" height="23" fill="#79d580"/>
<rect x="1643" y="360" width="8" height="23" fill="#cacd27"/>
<rect x="1651" y="360" width="8" height="23" fill="#fcc833"/>
<rect x="1659" y="360" width="8" height="23" fill="#f5e628"/>
<rect x="1667" y="360" width="8" height="23" fill="#f6e329"/>
<rect x="1675" y="360" width="8" height="23" fill="#f7df2a"/>
<rect x="1683" y="360" width="8" height="23" fill="#f7de2a"/>
<rect x="1691" y="360" width="8" height="23" fill="#f8d92b"/>
<rect x="1699" y="360" width="8" height="23" fill="#fac034"/>
<rect x="1707" y="360" width="8" height="23" fill="#7ed66f"/>
<rect x="1715" y="360" width="8" height="23" fill="#58c6ca"/>
<rect x="1723" y="360" width="8" height="23" fill="#56c4cc"/>
<rect x="1731" y="360" width="8" height="23" fill="#50bed2"/>
<rect x="1739" y="360" width="8" height="23" fill="#5ac8c8"/>
<rect x="1747" y="360" width="8" height="23" fill="#58c6ca"/>
<rect x="1755" y="360" width="8" height="23" fill="#52c0d0"/>
<rect x="1763" y="360" width="8" height="23" fill="#50bbd2"/>
<rect x="1771" y="360" width="8" height="23" fill="#54a9d4"/>
<rect x="1779" y="360" width="8" height="23" fill="#587cc5"/>
<rect x="1787" y="360" width="8" height="23" fill="#594dae"/>
<rect x="1571" y="337" width="8" height="23" fill="#a9d43d"/>
<rect x="1579" y="337" width="8" height="23" fill="#51bad2"/>
<rect x="1587" y="337" width="8" height="23" fill="#5fcdc3"/>
<rect x="1595" y="337" width="8" height="23" fill="#57c5cb"/>
<rect x="1603" y="337" width="8" height="23" fill="#59c7c9"/>
<rect x="1611" y="337" width="8" height="23" fill="#51b9d3"/>
<rect x="1619" y="337" width="8" height="23" fill="#52c0d0"/>
<rect x="1627" y="337" width="8" height="23" fill="#50bbd2"/>
<rect x="1635" y="337" width="8" height="23" fill="#5bc9c7"/>
<rect x="1643" y="337" width="8" height="23" fill="#80d76a"/>
<rect x="1651" y="337" width="8" height="23" fill="#abd43b"/>
<rect x="1659" y="337" width="8" height="23" fill="#f7de2a"/>
<rect x="1667" y="337" width="8" height="23" fill="#f5e628"/>
<rect x="1675" y="337" width="8" height="23" fill="#f6e429"/>
<rect x="1683" y="337" width="8" height="23" fill="#f8da2b"/>
<rect x="1691" y="337" width="8" height="23" fill="#f5e528"/>
<rect x="1699" y="337" width="8" height="23" fill="#f5e628"/>
<rect x="1707" y="337" width="8" height="23" fill="#f7df2a"/>
<rect x="1715" y="337" width="8" height="23" fill="#fdc137"/>
<rect x="1723" y="337" width="8" height="23" fill="#93d653"/>
<rect x="1731" y="337" width="8" height="23" fill="#7dd673"/>
<rect x="1739" y="337" width="8" height="23" fill="#54a6d4"/>
<rect x="1747" y="337" width="8" height="23" fill="#53afd4"/>
<rect x="1755" y="337" width="8" height="23" fill="#51b8d3"/>
<rect x="1763" y="337" width="8" height="23" fill="#55a0d5"/>
<rect x="1771" y="337" width="8" height="23" fill="#5696d0"/>
<rect x="1779" y="337" width="8" height="23" fill="#54a5d5"/>
<rect x="1787" y="337" width="8" height="23" fill="#54a8d4"/>
<rect x="1795" y="337" width="8" height="23" fill="#559ed4"/>
<rect x="1803" y="337" width="8" height="23" fill="#5973c1"/>
<rect x="1811" y="337" width="8" height="23" fill="#5b57b4"/>
<rect x="1571" y="314" width="8" height="23" fill="#57c5cb"/>
<rect x="1579" y="314" width="8" height="23" fill="#559bd3"/>
<rect x="1587" y="314" width="8" height="23" fill="#50bdd2"/>
<rect x="1595" y="314" width="8" height="23" fill="#53abd4"/>
<rect x="1603" y="314" width="8" height="23" fill="#54a5d4"/>
<rect x="1611" y="314" width="8" height="23" fill="#52b4d3"/>
<rect x="1619" y="314" width="8" height="23" fill="#54a3d5"/>
<rect x="1627" y="314" width="8" height="23" fill="#5695d0"/>
<rect x="1635" y="314" width="8" height="23" fill="#52b1d3"/>
<rect x="1643" y="314" width="8" height="23" fill="#53a9d4"/>
<rect x="1651" y="314" width="8" height="23" fill="#5dcbc5"/>
<rect x="1659" y="314" width="8" height="23" fill="#75d58b"/>
<rect x="1667" y="314" width="8" height="23" fill="#fcc633"/>
<rect x="1675" y="314" width="8" height="23" fill="#f9d72c"/>
<rect x="1683" y="314" width="8" height="23" fill="#f8d82b"/>
<rect x="1691" y="314" width="8" height="23" fill="#f5e628"/>
<rect x="1699" y="314" width="8" height="23" fill="#f9d52c"/>
<rect x="1707" y="314" width="16" height="23" fill="#f6e429"/>
<rect x="1723" y="314" width="8" height="23" fill="#f8dc2b"/>
<rect x="1731" y="314" width="8" height="23" fill="#c6ce27"/>
<rect x="1739" y="314" width="8" height="23" fill="#f2bf2b"/>
<rect x="1747" y="314" width="8" height="23" fill="#61cfc1"/>
<rect x="1755" y="314" width="8" height="23" fill="#559ad2"/>
<rect x="1763" y="314" width="8" height="23" fill="#587ac4"/>
<rect x="1771" y="314" width="8" height="23" fill="#5694cf"/>
<rect x="1779" y="314" width="8" height="23" fill="#5875c2"/>
<rect x="1787" y="314" width="8" height="23" fill="#5971c0"/>
<rect x="1795" y="314" width="8" height="23" fill="#5694cf"/>
<rect x="1803" y="314" width="8" height="23" fill="#5785c9"/>
<rect x="1811" y="314" width="8" height="23" fill="#5697d1"/>
<rect x="1819" y="314" width="8" height="23" fill="#5693cf"/>
<rect x="1827" y="314" width="8" height="23" fill="#5971c0"/>
<rect x="1835" y="314" width="8" height="23" fill="#5b59b5"/>
<rect x="1571" y="291" width="8" height="23" fill="#6ad3ab"/>
<rect x="1579" y="291" width="8" height="23" fill="#53abd4"/>
<rect x="1587" y="291" width="8" height="23" fill="#568ecd"/>
<rect x="1595" y="291" width="8" height="23" fill="#5691ce"/>
<rect x="1603" y="291" width="8" height="23" fill="#5695d0"/>
<rect x="1611" y="291" width="8" height="23" fill="#5692cf"/>
<rect x="1619" y="291" width="8" height="23" fill="#559ed4"/>
<rect x="1627" y="291" width="8" height="23" fill="#568dcc"/>
<rect x="1635" y="291" width="8" height="23" fill="#55a2d5"/>
<rect x="1643" y="291" width="8" height="23" fill="#568ccc"/>
<rect x="1651" y="291" width="8" height="23" fill="#559dd3"/>
<rect x="1659" y="291" width="8" height="23" fill="#51b8d3"/>
<rect x="1667" y="291" width="8" height="23" fill="#acd33a"/>
<rect x="1675" y="291" width="8" height="23" fill="#d1c926"/>
<rect x="1683" y="291" width="8" height="23" fill="#e8c023"/>
<rect x="1691" y="291" width="8" height="23" fill="#fcc634"/>
<rect x="1699" y="291" width="8" height="23" fill="#e9bf23"/>
<rect x="1707" y="291" width="8" height="23" fill="#f1bf2a"/>
<rect x="1715" y="291" width="8" height="23" fill="#ecbe24"/>
<rect x="1723" y="291" width="8" height="23" fill="#f7de2a"/>
<rect x="1731" y="291" width="8" height="23" fill="#f5bf2e"/>
<rect x="1739" y="291" width="8" height="23" fill="#c4d027"/>
<rect x="1747" y="291" width="8" height="23" fill="#7cd677"/>
<rect x="1755" y="291" width="8" height="23" fill="#7ad67b"/>
<rect x="1763" y="291" width="8" height="23" fill="#5eccc4"/>
<rect x="1771" y="291" width="8" height="23" fill="#54a5d5"/>
<rect x="1779" y="291" width="8" height="23" fill="#55a0d5"/>
<rect x="1787" y="291" width="8" height="23" fill="#5878c3"/>
<rect x="1795" y="291" width="8" height="23" fill="#5a6cbe"/>
<rect x="1803" y="291" width="8" height="23" fill="#5973c1"/>
<rect x="1811" y="291" width="8" height="23" fill="#587ac4"/>
<rect x="1819" y="291" width="8" height="23" fill="#5783c8"/>
<rect x="1827" y="291" width="8" height="23" fill="#596ebf"/>
<rect x="1835" y="291" width="8" height="23" fill="#5a69bc"/>
<rect x="1843" y="291" width="8" height="23" fill="#5a6dbe"/>
<rect x="1851" y="291" width="8" height="23" fill="#5c5eb8"/>
<rect x="1571" y="268" width="8" height="23" fill="#53c1cf"/>
<rect x="1579" y="268" width="8" height="23" fill="#5879c4"/>
<rect x="1587" y="268" width="8" height="23" fill="#578acb"/>
<rect x="1595" y="268" width="8" height="23" fill="#5786c9"/>
<rect x="1603" y="268" width="8" height="23" fill="#5783c8"/>
<rect x="1611" y="268" width="8" height="23" fill="#568dcd"/>
<rect x="1619" y="268" width="8" height="23" fill="#587cc5"/>
<rect x="1627" y="268" width="8" height="23" fill="#5788ca"/>
<rect x="1635" y="268" width="8" height="23" fill="#5784c8"/>
<rect x="1643" y="268" width="8" height="23" fill="#55a3d5"/>
<rect x="1651" y="268" width="8" height="23" fill="#54a6d4"/>
<rect x="1659" y="268" width="8" height="23" fill="#54a4d5"/>
<rect x="1667" y="268" width="16" height="23" fill="#55c3cd"/>
<rect x="1683" y="268" width="8" height="23" fill="#6ad3ab"/>
<rect x="1691" y="268" width="8" height="23" fill="#5ccac6"/>
<rect x="1699" y="268" width="8" height="23" fill="#a1d445"/>
<rect x="1707" y="268" width="8" height="23" fill="#99d54d"/>
<rect x="1715" y="268" width="8" height="23" fill="#b1d335"/>
<rect x="1723" y="268" width="8" height="23" fill="#c7ce27"/>
<rect x="1731" y="268" width="8" height="23" fill="#74d58d"/>
<rect x="1739" y="268" width="8" height="23" fill="#7ad67d"/>
<rect x="1747" y="268" width="8" height="23" fill="#81d768"/>
<rect x="1755" y="268" width="8" height="23" fill="#52c0d0"/>
<rect x="1763" y="268" width="8" height="23" fill="#56c4cc"/>
<rect x="1771" y="268" width="8" height="23" fill="#58c6ca"/>
<rect x="1779" y="268" width="16" height="23" fill="#53acd4"/>
<rect x="1795" y="268" width="8" height="23" fill="#587ec6"/>
<rect x="1803" y="268" width="8" height="23" fill="#5879c3"/>
<rect x="1811" y="268" width="8" height="23" fill="#5b61b9"/>
<rect x="1819" y="268" width="8" height="23" fill="#5b60b9"/>
<rect x="1827" y="268" width="8" height="23" fill="#5c5ab6"/>
<rect x="1835" y="268" width="8" height="23" fill="#5b63ba"/>
<rect x="1843" y="268" width="8" height="23" fill="#5b60b9"/>
<rect x="1851" y="268" width="8" height="23" fill="#5c5ab6"/>
<rect x="1571" y="245" width="8" height="23" fill="#52c0d0"/>
<rect x="1579" y="245" width="8" height="23" fill="#587ec6"/>
<rect x="1587" y="245" width="8" height="23" fill="#5974c1"/>
<rect x="1595" y="245" width="8" height="23" fill="#587bc4"/>
<rect x="1603" y="245" width="8" height="23" fill="#5970c0"/>
<rect x="1611" y="245" width="8" height="23" fill="#5878c3"/>
<rect x="1619" y="245" width="8" height="23" fill="#5971c0"/>
<rect x="1627" y="245" width="8" height="23" fill="#587dc5"/>
<rect x="1635" y="245" width="8" height="23" fill="#5974c1"/>
<rect x="1643" y="245" width="8" height="23" fill="#5879c4"/>
<rect x="1651" y="245" width="8" height="23" fill="#5788ca"/>
<rect x="1659" y="245" width="8" height="23" fill="#5691ce"/>
<rect x="1667" y="245" width="8" height="23" fill="#52afd3"/>
<rect x="1675" y="245" width="8" height="23" fill="#53acd4"/>
<rect x="1683" y="245" width="8" height="23" fill="#559cd3"/>
<rect x="1691" y="245" width="8" height="23" fill="#59c7c9"/>
<rect x="1699" y="245" width="8" height="23" fill="#58c6ca"/>
<rect x="1707" y="245" width="8" height="23" fill="#5eccc4"/>
<rect x="1715" y="245" width="8" height="23" fill="#69d3ae"/>
<rect x="1723" y="245" width="8" height="23" fill="#5ac8c8"/>
<rect x="1731" y="245" width="8" height="23" fill="#60cec2"/>
<rect x="1739" y="245" width="8" height="23" fill="#67d2b6"/>
<rect x="1747" y="245" width="8" height="23" fill="#68d3b1"/>
<rect x="1755" y="245" width="8" height="23" fill="#68d3b2"/>
<rect x="1763" y="245" width="8" height="23" fill="#52b0d3"/>
<rect x="1771" y="245" width="8" height="23" fill="#53acd4"/>
<rect x="1779" y="245" width="8" height="23" fill="#51bbd2"/>
<rect x="1787" y="245" width="8" height="23" fill="#568ccc"/>
<rect x="1795" y="245" width="8" height="23" fill="#5697d1"/>
<rect x="1803" y="245" width="8" height="23" fill="#568ecd"/>
<rect x="1811" y="245" width="8" height="23" fill="#5a69bd"/>
<rect x="1819" y="245" width="8" height="23" fill="#5a68bc"/>
<rect x="1827" y="245" width="8" height="23" fill="#5a67bc"/>
<rect x="1835" y="245" width="8" height="23" fill="#5b64bb"/>
<rect x="1843" y="245" width="8" height="23" fill="#5b65bb"/>
<rect x="1851" y="245" width="8" height="23" fill="#5b63ba"/>
<rect x="1571" y="222" width="8" height="23" fill="#53afd4"/>
<rect x="1579" y="222" width="8" height="23" fill="#5a6abd"/>
<rect x="1587" y="222" width="8" height="23" fill="#5a6bbd"/>
<rect x="1595" y="222" width="8" height="23" fill="#5a67bc"/>
<rect x="1603" y="222" width="8" height="23" fill="#5971c0"/>
<rect x="1611" y="222" width="8" height="23" fill="#5a6abd"/>
<rect x="1619" y="222" width="16" height="23" fill="#596fbf"/>
<rect x="1635" y="222" width="8" height="23" fill="#5b65bb"/>
<rect x="1643" y="222" width="8" height="23" fill="#5b61b9"/>
<rect x="1651" y="222" width="8" height="23" fill="#5781c7"/>
<rect x="1659" y="222" width="8" height="23" fill="#5876c2"/>
<rect x="1667" y="222" width="8" height="23" fill="#5879c3"/>
<rect x="1675" y="222" width="8" height="23" fill="#5692cf"/>
<rect x="1683" y="222" width="8" height="23" fill="#5695d0"/>
<rect x="1691" y="222" width="8" height="23" fill="#578acb"/>
<rect x="1699" y="222" width="8" height="23" fill="#5693cf"/>
<rect x="1707" y="222" width="8" height="23" fill="#55a0d5"/>
<rect x="1715" y="222" width="8" height="23" fill="#55a3d5"/>
<rect x="1723" y="222" width="8" height="23" fill="#5690ce"/>
<rect x="1731" y="222" width="8" height="23" fill="#54a8d4"/>
<rect x="1739" y="222" width="8" height="23" fill="#54a5d4"/>
<rect x="1747" y="222" width="8" height="23" fill="#5695d0"/>
<rect x="1755" y="222" width="8" height="23" fill="#559ed4"/>
<rect x="1763" y="222" width="8" height="23" fill="#54a3d5"/>
<rect x="1771" y="222" width="8" height="23" fill="#54a7d4"/>
<rect x="1779" y="222" width="8" height="23" fill="#54a3d5"/>
<rect x="1787" y="222" width="8" height="23" fill="#53acd4"/>
<rect x="1795" y="222" width="8" height="23" fill="#54a3d5"/>
<rect x="1803" y="222" width="8" height="23" fill="#559bd3"/>
<rect x="1811" y="222" width="8" height="23" fill="#5972c0"/>
<rect x="1819" y="222" width="8" height="23" fill="#5879c4"/>
<rect x="1827" y="222" width="8" height="23" fill="#5b59b5"/>
<rect x="1835" y="222" width="16" height="23" fill="#5b60b9"/>
<rect x="1851" y="222" width="8" height="23" fill="#5c5eb8"/>
<rect x="1571" y="199" width="8" height="23" fill="#577fc6"/>
<rect x="1579" y="199" width="8" height="23" fill="#5c5db7"/>
<rect x="1587" y="199" width="8" height="23" fill="#5c5db8"/>
<rect x="1595" y="199" width="8" height="23" fill="#5c5bb6"/>
<rect x="1603" y="199" width="8" height="23" fill="#5c5ab6"/>
<rect x="1611" y="199" width="8" height="23" fill="#5b55b3"/>
<rect x="1619" y="199" width="8" height="23" fill="#5c5bb6"/>
<rect x="1627" y="199" width="8" height="23" fill="#5b58b5"/>
<rect x="1635" y="199" width="8" height="23" fill="#5b56b3"/>
<rect x="1643" y="199" width="8" height="23" fill="#5c5eb8"/>
<rect x="1651" y="199" width="8" height="23" fill="#5a6bbd"/>
<rect x="1659" y="199" width="8" height="23" fill="#5a67bc"/>
<rect x="1667" y="199" width="8" height="23" fill="#596fbf"/>
<rect x="1675" y="199" width="8" height="23" fill="#5a6dbe"/>
<rect x="1683" y="199" width="8" height="23" fill="#5780c6"/>
<rect x="1691" y="199" width="8" height="23" fill="#5875c2"/>
<rect x="1699" y="199" width="8" height="23" fill="#5970c0"/>
<rect x="1707" y="199" width="8" height="23" fill="#587cc5"/>
<rect x="1715" y="199" width="8" height="23" fill="#587ac4"/>
<rect x="1723" y="199" width="8" height="23" fill="#587dc5"/>
<rect x="1731" y="199" width="8" height="23" fill="#587bc4"/>
<rect x="1739" y="199" width="8" height="23" fill="#5781c7"/>
<rect x="1747" y="199" width="8" height="23" fill="#5877c2"/>
<rect x="1755" y="199" width="8" height="23" fill="#587dc5"/>
<rect x="1763" y="199" width="8" height="23" fill="#5973c1"/>
<rect x="1771" y="199" width="8" height="23" fill="#5a6cbe"/>
<rect x="1779" y="199" width="8" height="23" fill="#5876c2"/>
<rect x="1787" y="199" width="8" height="23" fill="#5783c8"/>
<rect x="1795" y="199" width="8" height="23" fill="#5970bf"/>
<rect x="1803" y="199" width="8" height="23" fill="#577fc6"/>
<rect x="1811" y="199" width="8" height="23" fill="#5875c2"/>
<rect x="1819" y="199" width="8" height="23" fill="#5c5db7"/>
<rect x="1827" y="199" width="8" height="23" fill="#5c5fb8"/>
<rect x="1835" y="199" width="8" height="23" fill="#5b60b9"/>
<rect x="1843" y="199" width="8" height="23" fill="#5c5ab6"/>
<rect x="1851" y="199" width="8" height="23" fill="#5c5fb8"/>
<rect x="1571" y="176" width="8" height="23" fill="#587bc4"/>
<rect x="1579" y="176" width="8" height="23" fill="#5c5eb8"/>
<rect x="1587" y="176" width="8" height="23" fill="#5b56b3"/>
<rect x="1595" y="176" width="8" height="23" fill="#5b61b9"/>
<rect x="1603" y="176" width="8" height="23" fill="#5b63ba"/>
<rect x="1611" y="176" width="8" height="23" fill="#5b65bb"/>
<rect x="1619" y="176" width="8" height="23" fill="#5a53b2"/>
<rect x="1627" y="176" width="8" height="23" fill="#5c5bb6"/>
<rect x="1635" y="176" width="8" height="23" fill="#5950b0"/>
<rect x="1643" y="176" width="8" height="23" fill="#5c5cb7"/>
<rect x="1651" y="176" width="8" height="23" fill="#5c5db7"/>
<rect x="1659" y="176" width="8" height="23" fill="#5a54b2"/>
<rect x="1667" y="176" width="8" height="23" fill="#5a52b1"/>
<rect x="1675" y="176" width="8" height="23" fill="#5c5bb7"/>
<rect x="1683" y="176" width="8" height="23" fill="#5a69bc"/>
<rect x="1691" y="176" width="8" height="23" fill="#5b62ba"/>
<rect x="1699" y="176" width="8" height="23" fill="#5b65bb"/>
<rect x="1707" y="176" width="8" height="23" fill="#5c5ab6"/>
<rect x="1715" y="176" width="8" height="23" fill="#5b63ba"/>
<rect x="1723" y="176" width="16" height="23" fill="#5b66bb"/>
<rect x="1739" y="176" width="8" height="23" fill="#5a6dbe"/>
<rect x="1747" y="176" width="8" height="23" fill="#5b61b9"/>
<rect x="1755" y="176" width="8" height="23" fill="#5c5cb7"/>
<rect x="1763" y="176" width="8" height="23" fill="#5a68bc"/>
<rect x="1771" y="176" width="8" height="23" fill="#5b63ba"/>
<rect x="1779" y="176" width="8" height="23" fill="#5a67bc"/>
<rect x="1787" y="176" width="8" height="23" fill="#5a69bd"/>
<rect x="1795" y="176" width="8" height="23" fill="#5a68bc"/>
<rect x="1803" y="176" width="16" height="23" fill="#5a6cbe"/>
<rect x="1819" y="176" width="8" height="23" fill="#5c5eb8"/>
<rect x="1827" y="176" width="8" height="23" fill="#5b66bb"/>
<rect x="1835" y="176" width="8" height="23" fill="#5b64bb"/>
<rect x="1843" y="176" width="8" height="23" fill="#5c5ab6"/>
<rect x="1851" y="176" width="8" height="23" fill="#5b60b9"/>
<rect x="1571" y="153" width="8" height="23" fill="#5972c0"/>
<rect x="1579" y="153" width="8" height="23" fill="#5a54b2"/>
<rect x="1587" y="153" width="8" height="23" fill="#5c5eb8"/>
<rect x="1595" y="153" width="8" height="23" fill="#5c5cb7"/>
<rect x="1603" y="153" width="8" height="23" fill="#5b55b3"/>
<rect x="1611" y="153" width="8" height="23" fill="#5c5bb7"/>
<rect x="1619" y="153" width="8" height="23" fill="#5950af"/>
<rect x="1627" y="153" width="8" height="23" fill="#5a53b1"/>
<rect x="1635" y="153" width="8" height="23" fill="#5c5bb7"/>
<rect x="1643" y="153" width="8" height="23" fill="#5b57b4"/>
<rect x="1651" y="153" width="8" height="23" fill="#5a51b0"/>
<rect x="1659" y="153" width="8" height="23" fill="#5b59b5"/>
<rect x="1667" y="153" width="8" height="23" fill="#5b58b5"/>
<rect x="1675" y="153" width="8" height="23" fill="#5b63ba"/>
<rect x="1683" y="153" width="8" height="23" fill="#5b61b9"/>
<rect x="1691" y="153" width="8" height="23" fill="#5c5cb7"/>
<rect x="1699" y="153" width="8" height="23" fill="#5c5bb6"/>
<rect x="1707" y="153" width="8" height="23" fill="#5c5db7"/>
<rect x="1715" y="153" width="8" height="23" fill="#5c5cb7"/>
<rect x="1723" y="153" width="16" height="23" fill="#5b64ba"/>
<rect x="1739" y="153" width="8" height="23" fill="#5b63ba"/>
<rect x="1747" y="153" width="8" height="23" fill="#5c5fb8"/>
<rect x="1755" y="153" width="8" height="23" fill="#5c5cb7"/>
<rect x="1763" y="153" width="8" height="23" fill="#5b61b9"/>
<rect x="1771" y="153" width="8" height="23" fill="#5c5cb7"/>
<rect x="1779" y="153" width="8" height="23" fill="#5c5eb8"/>
<rect x="1787" y="153" width="8" height="23" fill="#5a55b3"/>
<rect x="1795" y="153" width="8" height="23" fill="#5c5bb7"/>
<rect x="1803" y="153" width="8" height="23" fill="#5b64ba"/>
<rect x="1811" y="153" width="8" height="23" fill="#5b58b5"/>
<rect x="1819" y="153" width="8" height="23" fill="#5a52b1"/>
<rect x="1827" y="153" width="8" height="23" fill="#5b59b5"/>
<rect x="1835" y="153" width="8" height="23" fill="#5b62b9"/>
<rect x="1843" y="153" width="8" height="23" fill="#5b61b9"/>
<rect x="1851" y="153" width="8" height="23" fill="#5b58b5"/>
<rect x="1571" y="130" width="8" height="23" fill="#5876c2"/>
<rect x="1579" y="130" width="8" height="23" fill="#5c5bb7"/>
<rect x="1587" y="130" width="8" height="23" fill="#5b57b4"/>
<rect x="1595" y="130" width="8" height="23" fill="#5c5cb7"/>
<rect x="1603" y="130" width="8" height="23" fill="#5c5ab6"/>
<rect x="1611" y="130" width="8" height="23" fill="#5a54b2"/>
<rect x="1619" y="130" width="8" height="23" fill="#5b59b5"/>
<rect x="1627" y="130" width="8" height="23" fill="#5c5bb6"/>
<rect x="1635" y="130" width="8" height="23" fill="#5b57b4"/>
<rect x="1643" y="130" width="8" height="23" fill="#5b56b3"/>
<rect x="1651" y="130" width="8" height="23" fill="#5b60b9"/>
<rect x="1659" y="130" width="8" height="23" fill="#5b64ba"/>
<rect x="1667" y="130" width="8" height="23" fill="#5c5ab6"/>
<rect x="1675" y="130" width="8" height="23" fill="#5b5ab6"/>
<rect x="1683" y="130" width="8" height="23" fill="#5c5eb8"/>
<rect x="1691" y="130" width="8" height="23" fill="#5b62ba"/>
<rect x="1699" y="130" width="8" height="23" fill="#5b60b9"/>
<rect x="1707" y="130" width="8" height="23" fill="#5a69bd"/>
<rect x="1715" y="130" width="8" height="23" fill="#5c5eb8"/>
<rect x="1723" y="130" width="16" height="23" fill="#5b60b9"/>
<rect x="1739" y="130" width="8" height="23" fill="#5c5fb8"/>
<rect x="1747" y="130" width="8" height="23" fill="#5b62ba"/>
<rect x="1755" y="130" width="8" height="23" fill="#5b66bb"/>
<rect x="1763" y="130" width="8" height="23" fill="#5a69bd"/>
<rect x="1771" y="130" width="8" height="23" fill="#5b66bb"/>
<rect x="1779" y="130" width="8" height="23" fill="#5b63ba"/>
<rect x="1787" y="130" width="8" height="23" fill="#5c5db8"/>
<rect x="1795" y="130" width="8" height="23" fill="#5b63ba"/>
<rect x="1803" y="130" width="8" height="23" fill="#5c5fb8"/>
<rect x="1811" y="130" width="8" height="23" fill="#5b63ba"/>
<rect x="1819" y="130" width="8" height="23" fill="#5b60b9"/>
<rect x="1827" y="130" width="8" height="23" fill="#5c5db7"/>
<rect x="1835" y="130" width="8" height="23" fill="#5c5bb6"/>
<rect x="1843" y="130" width="8" height="23" fill="#5b58b5"/>
<rect x="1851" y="130" width="8" height="23" fill="#5c5cb7"/>
</g>
<g shape-rendering="crispEdges">
<rect x="1880.9" y="127.6" width="286.5" height="460.1" fill="#4f309e"/>
<rect x="1881" y="496" width="8" height="23" fill="#4f319e"/>
<rect x="1889" y="496" width="8" height="23" fill="#5541a7"/>
<rect x="1897" y="496" width="8" height="23" fill="#5747aa"/>
<rect x="1905" y="496" width="8" height="23" fill="#5238a2"/>
<rect x="1921" y="496" width="8" height="23" fill="#533ca5"/>
<rect x="1929" y="496" width="8" height="23" fill="#5542a8"/>
<rect x="1937" y="496" width="8" height="23" fill="#5748ab"/>
<rect x="1945" y="496" width="8" height="23" fill="#4f319e"/>
<rect x="1881" y="473" width="8" height="23" fill="#594faf"/>
<rect x="1889" y="473" width="8" height="23" fill="#594dae"/>
<rect x="1897" y="473" width="8" height="23" fill="#5a55b3"/>
<rect x="1905" y="473" width="8" height="23" fill="#5a51b0"/>
<rect x="1913" y="473" width="8" height="23" fill="#5849ab"/>
<rect x="1921" y="473" width="8" height="23" fill="#5747aa"/>
<rect x="1929" y="473" width="8" height="23" fill="#5c5db7"/>
<rect x="1937" y="473" width="8" height="23" fill="#5747aa"/>
<rect x="1945" y="473" width="8" height="23" fill="#5542a8"/>
<rect x="1953" y="473" width="7" height="23" fill="#543ea6"/>
<rect x="1960" y="473" width="8" height="23" fill="#584bac"/>
<rect x="1968" y="473" width="8" height="23" fill="#584bad"/>
<rect x="1976" y="473" width="8" height="23" fill="#5746aa"/>
<rect x="1881" y="450" width="8" height="23" fill="#5a54b2"/>
<rect x="1889" y="450" width="8" height="23" fill="#5b57b4"/>
<rect x="1897" y="450" width="8" height="23" fill="#5c5ab6"/>
<rect x="1905" y="450" width="8" height="23" fill="#5c5db7"/>
<rect x="1913" y="450" width="8" height="23" fill="#5b56b4"/>
<rect x="1921" y="450" width="8" height="23" fill="#5645aa"/>
<rect x="1929" y="450" width="8" height="23" fill="#5c5ab6"/>
<rect x="1937" y="450" width="8" height="23" fill="#584aac"/>
<rect x="1945" y="450" width="8" height="23" fill="#5a53b2"/>
<rect x="1953" y="450" width="7" height="23" fill="#5849ab"/>
<rect x="1960" y="450" width="8" height="23" fill="#5a55b3"/>
<rect x="1968" y="450" width="8" height="23" fill="#594faf"/>
<rect x="1976" y="450" width="8" height="23" fill="#5b56b4"/>
<rect x="1984" y="450" width="8" height="23" fill="#5a6abd"/>
<rect x="1992" y="450" width="8" height="23" fill="#5a54b2"/>
<rect x="2000" y="450" width="8" height="23" fill="#5950b0"/>
<rect x="1881" y="427" width="8" height="23" fill="#5c5bb7"/>
<rect x="1889" y="427" width="8" height="23" fill="#5b62ba"/>
<rect x="1897" y="427" width="8" height="23" fill="#5a69bc"/>
<rect x="1905" y="427" width="8" height="23" fill="#5b64ba"/>
<rect x="1913" y="427" width="8" height="23" fill="#5a67bc"/>
<rect x="1921" y="427" width="8" height="23" fill="#5b65bb"/>
<rect x="1929" y="427" width="8" height="23" fill="#5c5eb8"/>
<rect x="1937" y="427" width="8" height="23" fill="#5a68bc"/>
<rect x="1945" y="427" width="8" height="23" fill="#5c5fb8"/>
<rect x="1953" y="427" width="7" height="23" fill="#5971c0"/>
<rect x="1960" y="427" width="8" height="23" fill="#5b61b9"/>
<rect x="1968" y="427" width="8" height="23" fill="#5a69bd"/>
<rect x="1976" y="427" width="8" height="23" fill="#5b64bb"/>
<rect x="1984" y="427" width="8" height="23" fill="#5a6bbd"/>
<rect x="1992" y="427" width="8" height="23" fill="#5b60b9"/>
<rect x="2000" y="427" width="8" height="23" fill="#5a6bbd"/>
<rect x="2008" y="427" width="8" height="23" fill="#5b64ba"/>
<rect x="2016" y="427" width="8" height="23" fill="#5a6dbe"/>
<rect x="2024" y="427" width="8" height="23" fill="#5b5ab6"/>
<rect x="1881" y="404" width="8" height="23" fill="#5692cf"/>
<rect x="1889" y="404" width="8" height="23" fill="#5787ca"/>
<rect x="1897" y="404" width="8" height="23" fill="#5699d2"/>
<rect x="1905" y="404" width="8" height="23" fill="#5696d0"/>
<rect x="1913" y="404" width="8" height="23" fill="#55a3d5"/>
<rect x="1921" y="404" width="8" height="23" fill="#578ccc"/>
<rect x="1929" y="404" width="8" height="23" fill="#5697d1"/>
<rect x="1937" y="404" width="8" height="23" fill="#5696d1"/>
<rect x="1945" y="404" width="8" height="23" fill="#5693cf"/>
<rect x="1953" y="404" width="15" height="23" fill="#5692cf"/>
<rect x="1968" y="404" width="8" height="23" fill="#5789cb"/>
<rect x="1976" y="404" width="8" height="23" fill="#5784c8"/>
<rect x="1984" y="404" width="8" height="23" fill="#578bcc"/>
<rect x="1992" y="404" width="8" height="23" fill="#5697d1"/>
<rect x="2000" y="404" width="8" height="23" fill="#55a1d5"/>
<rect x="2008" y="404" width="8" height="23" fill="#559cd3"/>
<rect x="2016" y="404" width="8" height="23" fill="#559dd3"/>
<rect x="2024" y="404" width="8" height="23" fill="#5699d2"/>
<rect x="2032" y="404" width="8" height="23" fill="#5698d2"/>
<rect x="2040" y="404" width="8" height="23" fill="#5c5ab6"/>
<rect x="2048" y="404" width="8" height="23" fill="#5c5eb8"/>
<rect x="1881" y="381" width="8" height="23" fill="#73d591"/>
<rect x="1889" y="381" width="8" height="23" fill="#52c0d0"/>
<rect x="1897" y="381" width="8" height="23" fill="#50bcd2"/>
<rect x="1905" y="381" width="8" height="23" fill="#62d0c0"/>
<rect x="1913" y="381" width="8" height="23" fill="#56c4cc"/>
<rect x="1921" y="381" width="8" height="23" fill="#5bc9c7"/>
<rect x="1929" y="381" width="8" height="23" fill="#5ac8c8"/>
<rect x="1937" y="381" width="8" height="23" fill="#51b7d3"/>
<rect x="1945" y="381" width="8" height="23" fill="#67d2b5"/>
<rect x="1953" y="381" width="7" height="23" fill="#61cfc1"/>
<rect x="1960" y="381" width="8" height="23" fill="#55c3cd"/>
<rect x="1968" y="381" width="8" height="23" fill="#5ac8c8"/>
<rect x="1976" y="381" width="8" height="23" fill="#55c3cd"/>
<rect x="1984" y="381" width="8" height="23" fill="#51bad2"/>
<rect x="1992" y="381" width="8" height="23" fill="#53c1cf"/>
<rect x="2000" y="381" width="8" height="23" fill="#57c5cb"/>
<rect x="2008" y="381" width="8" height="23" fill="#5ccac6"/>
<rect x="2016" y="381" width="8" height="23" fill="#59c7c9"/>
<rect x="2024" y="381" width="8" height="23" fill="#54c2ce"/>
<rect x="2032" y="381" width="8" height="23" fill="#5eccc4"/>
<rect x="2040" y="381" width="8" height="23" fill="#50bcd2"/>
<rect x="2048" y="381" width="8" height="23" fill="#5ac8c8"/>
<rect x="2056" y="381" width="8" height="23" fill="#5ccac6"/>
<rect x="2064" y="381" width="8" height="23" fill="#5876c2"/>
<rect x="2072" y="381" width="8" height="23" fill="#594dae"/>
<rect x="1881" y="358" width="8" height="23" fill="#fcc634"/>
<rect x="1889" y="358" width="8" height="23" fill="#79d67f"/>
<rect x="1897" y="358" width="8" height="23" fill="#7dd673"/>
<rect x="1905" y="358" width="8" height="23" fill="#92d654"/>
<rect x="1913" y="358" width="8" height="23" fill="#69d3af"/>
<rect x="1921" y="358" width="8" height="23" fill="#76d588"/>
<rect x="1929" y="358" width="8" height="23" fill="#7ed66f"/>
<rect x="1937" y="358" width="8" height="23" fill="#74d58e"/>
<rect x="1945" y="358" width="8" height="23" fill="#5ccac6"/>
<rect x="1953" y="358" width="7" height="23" fill="#80d769"/>
<rect x="1960" y="358" width="8" height="23" fill="#a6d440"/>
<rect x="1968" y="358" width="8" height="23" fill="#84d762"/>
<rect x="1976" y="358" width="8" height="23" fill="#6ad3ac"/>
<rect x="1984" y="358" width="8" height="23" fill="#5fcdc3"/>
<rect x="1992" y="358" width="8" height="23" fill="#64d2be"/>
<rect x="2000" y="358" width="8" height="23" fill="#7fd66d"/>
<rect x="2008" y="358" width="8" height="23" fill="#68d3b1"/>
<rect x="2016" y="358" width="8" height="23" fill="#63d1bf"/>
<rect x="2024" y="358" width="8" height="23" fill="#74d58f"/>
<rect x="2032" y="358" width="8" height="23" fill="#61cfc1"/>
<rect x="2040" y="358" width="8" height="23" fill="#77d584"/>
<rect x="2048" y="358" width="8" height="23" fill="#5dcbc5"/>
<rect x="2056" y="358" width="8" height="23" fill="#5eccc4"/>
<rect x="2064" y="358" width="8" height="23" fill="#6ad3ad"/>
<rect x="2072" y="358" width="8" height="23" fill="#72d494"/>
<rect x="2080" y="358" width="8" height="23" fill="#69d3af"/>
<rect x="2088" y="358" width="8" height="23" fill="#5690ce"/>
<rect x="2096" y="358" width="8" height="23" fill="#584aac"/>
<rect x="1881" y="335" width="8" height="23" fill="#cbcc27"/>
<rect x="1889" y="335" width="8" height="23" fill="#77d585"/>
<rect x="1897" y="335" width="8" height="23" fill="#78d582"/>
<rect x="1905" y="335" width="8" height="23" fill="#8cd65a"/>
<rect x="1913" y="335" width="8" height="23" fill="#7bd67a"/>
<rect x="1921" y="335" width="8" height="23" fill="#91d655"/>
<rect x="1929" y="335" width="8" height="23" fill="#80d76a"/>
<rect x="1937" y="335" width="8" height="23" fill="#7bd67a"/>
<rect x="1945" y="335" width="8" height="23" fill="#81d768"/>
<rect x="1953" y="335" width="7" height="23" fill="#87d75f"/>
<rect x="1960" y="335" width="8" height="23" fill="#93d653"/>
<rect x="1968" y="335" width="8" height="23" fill="#79d580"/>
<rect x="1976" y="335" width="8" height="23" fill="#7cd676"/>
<rect x="1984" y="335" width="8" height="23" fill="#6dd3a4"/>
<rect x="1992" y="335" width="8" height="23" fill="#a7d43f"/>
<rect x="2000" y="335" width="8" height="23" fill="#a3d443"/>
<rect x="2008" y="335" width="8" height="23" fill="#7dd674"/>
<rect x="2016" y="335" width="8" height="23" fill="#79d580"/>
<rect x="2024" y="335" width="8" height="23" fill="#5ccac6"/>
<rect x="2032" y="335" width="8" height="23" fill="#69d3af"/>
<rect x="2040" y="335" width="8" height="23" fill="#6ad3ad"/>
<rect x="2048" y="335" width="8" height="23" fill="#82d765"/>
<rect x="2056" y="335" width="8" height="23" fill="#6ad3ac"/>
<rect x="2064" y="335" width="8" height="23" fill="#60cec2"/>
<rect x="2072" y="335" width="8" height="23" fill="#52c0d0"/>
<rect x="2080" y="335" width="8" height="23" fill="#78d581"/>
<rect x="2088" y="335" width="8" height="23" fill="#51bad2"/>
<rect x="2096" y="335" width="8" height="23" fill="#54a7d4"/>
<rect x="2104" y="335" width="8" height="23" fill="#51bad2"/>
<rect x="2112" y="335" width="8" height="23" fill="#5a6cbe"/>
<rect x="2120" y="335" width="8" height="23" fill="#596fbf"/>
<rect x="1881" y="312" width="8" height="23" fill="#fbce2f"/>
<rect x="1889" y="312" width="8" height="23" fill="#91d655"/>
<rect x="1897" y="312" width="8" height="23" fill="#80d76b"/>
<rect x="1905" y="312" width="8" height="23" fill="#65d2bb"/>
<rect x="1913" y="312" width="8" height="23" fill="#80d769"/>
<rect x="1921" y="312" width="8" height="23" fill="#6dd4a3"/>
<rect x="1929" y="312" width="8" height="23" fill="#92d654"/>
<rect x="1937" y="312" width="8" height="23" fill="#65d2bb"/>
<rect x="1945" y="312" width="8" height="23" fill="#60cec2"/>
<rect x="1953" y="312" width="7" height="23" fill="#79d67f"/>
<rect x="1960" y="312" width="8" height="23" fill="#7ed66f"/>
<rect x="1968" y="312" width="8" height="23" fill="#5eccc4"/>
<rect x="1976" y="312" width="8" height="23" fill="#5bc9c7"/>
<rect x="1984" y="312" width="8" height="23" fill="#75d58b"/>
<rect x="1992" y="312" width="8" height="23" fill="#75d58c"/>
<rect x="2000" y="312" width="8" height="23" fill="#60cec2"/>
<rect x="2008" y="312" width="16" height="23" fill="#62d0c0"/>
<rect x="2024" y="312" width="8" height="23" fill="#5eccc4"/>
<rect x="2032" y="312" width="8" height="23" fill="#62d0c0"/>
<rect x="2040" y="312" width="8" height="23" fill="#7ad67d"/>
<rect x="2048" y="312" width="8" height="23" fill="#73d492"/>
<rect x="2056" y="312" width="8" height="23" fill="#85d761"/>
<rect x="2064" y="312" width="8" height="23" fill="#69d3af"/>
<rect x="2072" y="312" width="8" height="23" fill="#68d3b1"/>
<rect x="2080" y="312" width="8" height="23" fill="#60cec2"/>
<rect x="2088" y="312" width="8" height="23" fill="#68d3b1"/>
<rect x="2096" y="312" width="8" height="23" fill="#5dcbc5"/>
<rect x="2104" y="312" width="8" height="23" fill="#55a3d5"/>
<rect x="2112" y="312" width="8" height="23" fill="#50bcd2"/>
<rect x="2120" y="312" width="8" height="23" fill="#54c2ce"/>
<rect x="2128" y="312" width="8" height="23" fill="#5692cf"/>
<rect x="2136" y="312" width="8" height="23" fill="#5973c1"/>
<rect x="2144" y="312" width="7" height="23" fill="#5a53b2"/>
<rect x="1881" y="289" width="8" height="23" fill="#d6c825"/>
<rect x="1889" y="289" width="8" height="23" fill="#65d2bb"/>
<rect x="1897" y="289" width="8" height="23" fill="#61cfc1"/>
<rect x="1905" y="289" width="8" height="23" fill="#5bc9c7"/>
<rect x="1913" y="289" width="8" height="23" fill="#56c4cc"/>
<rect x="1921" y="289" width="8" height="23" fill="#58c6ca"/>
<rect x="1929" y="289" width="8" height="23" fill="#64d2be"/>
<rect x="1937" y="289" width="8" height="23" fill="#66d2b9"/>
<rect x="1945" y="289" width="8" height="23" fill="#60cec2"/>
<rect x="1953" y="289" width="7" height="23" fill="#75d58a"/>
<rect x="1960" y="289" width="8" height="23" fill="#66d2b7"/>
<rect x="1968" y="289" width="8" height="23" fill="#6bd3a9"/>
<rect x="1976" y="289" width="8" height="23" fill="#73d492"/>
<rect x="1984" y="289" width="8" height="23" fill="#5dcbc5"/>
<rect x="1992" y="289" width="8" height="23" fill="#54c2ce"/>
<rect x="2000" y="289" width="8" height="23" fill="#6dd4a3"/>
<rect x="2008" y="289" width="8" height="23" fill="#5eccc4"/>
<rect x="2016" y="289" width="8" height="23" fill="#74d58e"/>
<rect x="2024" y="289" width="8" height="23" fill="#68d3b2"/>
<rect x="2032" y="289" width="8" height="23" fill="#70d499"/>
<rect x="2040" y="289" width="8" height="23" fill="#6dd4a2"/>
<rect x="2048" y="289" width="8" height="23" fill="#53c1cf"/>
<rect x="2056" y="289" width="8" height="23" fill="#6dd3a4"/>
<rect x="2064" y="289" width="8" height="23" fill="#5fcdc3"/>
<rect x="2072" y="289" width="8" height="23" fill="#5eccc4"/>
<rect x="2080" y="289" width="8" height="23" fill="#60cec2"/>
<rect x="2088" y="289" width="8" height="23" fill="#50bdd2"/>
<rect x="2096" y="289" width="8" height="23" fill="#50bed2"/>
<rect x="2104" y="289" width="8" height="23" fill="#51bfd1"/>
<rect x="2112" y="289" width="8" height="23" fill="#54a4d5"/>
<rect x="2120" y="289" width="8" height="23" fill="#53afd4"/>
<rect x="2128" y="289" width="8" height="23" fill="#559bd3"/>
<rect x="2136" y="289" width="8" height="23" fill="#52b4d3"/>
<rect x="2144" y="289" width="7" height="23" fill="#5697d1"/>
<rect x="2151" y="289" width="8" height="23" fill="#5787ca"/>
<rect x="2159" y="289" width="8" height="23" fill="#5b66bb"/>
<rect x="1881" y="266" width="8" height="23" fill="#94d552"/>
<rect x="1889" y="266" width="8" height="23" fill="#59c7c9"/>
<rect x="1897" y="266" width="16" height="23" fill="#51b8d3"/>
<rect x="1913" y="266" width="8" height="23" fill="#51b9d3"/>
<rect x="1921" y="266" width="8" height="23" fill="#5fcdc3"/>
<rect x="1929" y="266" width="8" height="23" fill="#5ac8c8"/>
<rect x="1937" y="266" width="8" height="23" fill="#51bfd1"/>
<rect x="1945" y="266" width="8" height="23" fill="#54c2ce"/>
<rect x="1953" y="266" width="15" height="23" fill="#53c1cf"/>
<rect x="1968" y="266" width="8" height="23" fill="#50bed2"/>
<rect x="1976" y="266" width="8" height="23" fill="#50bdd2"/>
<rect x="1984" y="266" width="8" height="23" fill="#52b3d3"/>
<rect x="1992" y="266" width="8" height="23" fill="#51bad2"/>
<rect x="2000" y="266" width="8" height="23" fill="#5eccc4"/>
<rect x="2008" y="266" width="8" height="23" fill="#56c4cc"/>
<rect x="2016" y="266" width="8" height="23" fill="#52c0d0"/>
<rect x="2024" y="266" width="8" height="23" fill="#50bed2"/>
<rect x="2032" y="266" width="8" height="23" fill="#52c0d0"/>
<rect x="2040" y="266" width="8" height="23" fill="#55c3cd"/>
<rect x="2048" y="266" width="8" height="23" fill="#51bad2"/>
<rect x="2056" y="266" width="8" height="23" fill="#53c1cf"/>
<rect x="2064" y="266" width="8" height="23" fill="#54c2ce"/>
<rect x="2072" y="266" width="8" height="23" fill="#51b9d3"/>
<rect x="2080" y="266" width="8" height="23" fill="#51b8d3"/>
<rect x="2088" y="266" width="8" height="23" fill="#51b6d3"/>
<rect x="2096" y="266" width="8" height="23" fill="#51b5d3"/>
<rect x="2104" y="266" width="8" height="23" fill="#58c6ca"/>
<rect x="2112" y="266" width="8" height="23" fill="#54a7d4"/>
<rect x="2120" y="266" width="8" height="23" fill="#5695d0"/>
<rect x="2128" y="266" width="8" height="23" fill="#5691ce"/>
<rect x="2136" y="266" width="8" height="23" fill="#5690ce"/>
<rect x="2144" y="266" width="7" height="23" fill="#5699d2"/>
<rect x="2151" y="266" width="8" height="23" fill="#54a4d5"/>
<rect x="2159" y="266" width="8" height="23" fill="#5699d2"/>
<rect x="1881" y="243" width="8" height="23" fill="#8ad65c"/>
<rect x="1889" y="243" width="8" height="23" fill="#55a2d5"/>
<rect x="1897" y="243" width="8" height="23" fill="#54a6d4"/>
<rect x="1905" y="243" width="8" height="23" fill="#52b0d3"/>
<rect x="1913" y="243" width="8" height="23" fill="#54a4d5"/>
<rect x="1921" y="243" width="8" height="23" fill="#559bd3"/>
<rect x="1929" y="243" width="8" height="23" fill="#559ad2"/>
<rect x="1937" y="243" width="8" height="23" fill="#559cd3"/>
<rect x="1945" y="243" width="8" height="23" fill="#5698d1"/>
<rect x="1953" y="243" width="7" height="23" fill="#52b2d3"/>
<rect x="1960" y="243" width="8" height="23" fill="#53abd4"/>
<rect x="1968" y="243" width="8" height="23" fill="#54a5d4"/>
<rect x="1976" y="243" width="8" height="23" fill="#51b6d3"/>
<rect x="1984" y="243" width="8" height="23" fill="#55a1d5"/>
<rect x="1992" y="243" width="8" height="23" fill="#53afd4"/>
<rect x="2000" y="243" width="8" height="23" fill="#52afd3"/>
<rect x="2008" y="243" width="16" height="23" fill="#5696d0"/>
<rect x="2024" y="243" width="8" height="23" fill="#559ed4"/>
<rect x="2032" y="243" width="8" height="23" fill="#52b0d3"/>
<rect x="2040" y="243" width="8" height="23" fill="#52b4d3"/>
<rect x="2048" y="243" width="8" height="23" fill="#559ad2"/>
<rect x="2056" y="243" width="8" height="23" fill="#52b2d3"/>
<rect x="2064" y="243" width="16" height="23" fill="#54a4d5"/>
<rect x="2080" y="243" width="8" height="23" fill="#55a2d5"/>
<rect x="2088" y="243" width="8" height="23" fill="#5788ca"/>
<rect x="2096" y="243" width="8" height="23" fill="#5877c3"/>
<rect x="2104" y="243" width="8" height="23" fill="#5780c7"/>
<rect x="2112" y="243" width="8" height="23" fill="#587ec5"/>
<rect x="2120" y="243" width="8" height="23" fill="#5692cf"/>
<rect x="2128" y="243" width="8" height="23" fill="#54a3d5"/>
<rect x="2136" y="243" width="8" height="23" fill="#54a9d4"/>
<rect x="2144" y="243" width="7" height="23" fill="#5788ca"/>
<rect x="2151" y="243" width="8" height="23" fill="#5878c3"/>
<rect x="2159" y="243" width="8" height="23" fill="#5787ca"/>
<rect x="1881" y="220" width="8" height="23" fill="#5ccac6"/>
<rect x="1889" y="220" width="8" height="23" fill="#54a9d4"/>
<rect x="1897" y="220" width="8" height="23" fill="#559bd3"/>
<rect x="1905" y="220" width="8" height="23" fill="#578bcc"/>
<rect x="1913" y="220" width="8" height="23" fill="#559fd5"/>
<rect x="1921" y="220" width="8" height="23" fill="#559ad3"/>
<rect x="1929" y="220" width="8" height="23" fill="#5780c7"/>
<rect x="1937" y="220" width="8" height="23" fill="#568ecd"/>
<rect x="1945" y="220" width="8" height="23" fill="#5691ce"/>
<rect x="1953" y="220" width="7" height="23" fill="#5694d0"/>
<rect x="1960" y="220" width="8" height="23" fill="#5696d0"/>
<rect x="1968" y="220" width="8" height="23" fill="#5690ce"/>
<rect x="1976" y="220" width="8" height="23" fill="#5696d1"/>
<rect x="1984" y="220" width="8" height="23" fill="#568dcc"/>
<rect x="1992" y="220" width="8" height="23" fill="#5789cb"/>
<rect x="2000" y="220" width="8" height="23" fill="#54a5d5"/>
<rect x="2008" y="220" width="8" height="23" fill="#5698d2"/>
<rect x="2016" y="220" width="8" height="23" fill="#5699d2"/>
<rect x="2024" y="220" width="8" height="23" fill="#5781c7"/>
<rect x="2032" y="220" width="8" height="23" fill="#5692cf"/>
<rect x="2040" y="220" width="8" height="23" fill="#559ed4"/>
<rect x="2048" y="220" width="8" height="23" fill="#5784c9"/>
<rect x="2056" y="220" width="8" height="23" fill="#55a1d5"/>
<rect x="2064" y="220" width="8" height="23" fill="#568fcd"/>
<rect x="2072" y="220" width="8" height="23" fill="#587cc5"/>
<rect x="2080" y="220" width="8" height="23" fill="#5877c3"/>
<rect x="2088" y="220" width="8" height="23" fill="#587ac4"/>
<rect x="2096" y="220" width="8" height="23" fill="#5785c9"/>
<rect x="2104" y="220" width="8" height="23" fill="#5875c2"/>
<rect x="2112" y="220" width="8" height="23" fill="#5789cb"/>
<rect x="2120" y="220" width="8" height="23" fill="#5972c0"/>
<rect x="2128" y="220" width="8" height="23" fill="#5971c0"/>
<rect x="2136" y="220" width="8" height="23" fill="#5780c6"/>
<rect x="2144" y="220" width="7" height="23" fill="#5970c0"/>
<rect x="2151" y="220" width="8" height="23" fill="#5875c2"/>
<rect x="2159" y="220" width="8" height="23" fill="#5782c7"/>
<rect x="1881" y="197" width="8" height="23" fill="#5dcbc5"/>
<rect x="1889" y="197" width="8" height="23" fill="#5a68bc"/>
<rect x="1897" y="197" width="8" height="23" fill="#5879c4"/>
<rect x="1905" y="197" width="8" height="23" fill="#5788ca"/>
<rect x="1913" y="197" width="8" height="23" fill="#5781c7"/>
<rect x="1921" y="197" width="8" height="23" fill="#5973c1"/>
<rect x="1929" y="197" width="8" height="23" fill="#5971c0"/>
<rect x="1937" y="197" width="8" height="23" fill="#5973c1"/>
<rect x="1945" y="197" width="8" height="23" fill="#5a6dbe"/>
<rect x="1953" y="197" width="7" height="23" fill="#5973c1"/>
<rect x="1960" y="197" width="16" height="23" fill="#5974c1"/>
<rect x="1976" y="197" width="8" height="23" fill="#5781c7"/>
<rect x="1984" y="197" width="8" height="23" fill="#5973c1"/>
<rect x="1992" y="197" width="8" height="23" fill="#5a6abd"/>
<rect x="2000" y="197" width="8" height="23" fill="#577fc6"/>
<rect x="2008" y="197" width="8" height="23" fill="#5a6dbe"/>
<rect x="2016" y="197" width="8" height="23" fill="#5972c0"/>
<rect x="2024" y="197" width="8" height="23" fill="#5974c1"/>
<rect x="2032" y="197" width="8" height="23" fill="#5973c1"/>
<rect x="2040" y="197" width="8" height="23" fill="#596ebf"/>
<rect x="2048" y="197" width="8" height="23" fill="#5973c1"/>
<rect x="2056" y="197" width="8" height="23" fill="#578bcc"/>
<rect x="2064" y="197" width="8" height="23" fill="#5971c0"/>
<rect x="2072" y="197" width="8" height="23" fill="#5974c1"/>
<rect x="2080" y="197" width="8" height="23" fill="#5780c7"/>
<rect x="2088" y="197" width="16" height="23" fill="#587cc5"/>
<rect x="2104" y="197" width="8" height="23" fill="#587dc5"/>
<rect x="2112" y="197" width="8" height="23" fill="#5a67bc"/>
<rect x="2120" y="197" width="8" height="23" fill="#596fbf"/>
<rect x="2128" y="197" width="8" height="23" fill="#5876c2"/>
<rect x="2136" y="197" width="8" height="23" fill="#5879c4"/>
<rect x="2144" y="197" width="7" height="23" fill="#5782c7"/>
<rect x="2151" y="197" width="8" height="23" fill="#5879c3"/>
<rect x="2159" y="197" width="8" height="23" fill="#5973c1"/>
<rect x="1881" y="174" width="8" height="23" fill="#53a9d4"/>
<rect x="1889" y="174" width="8" height="23" fill="#5a67bc"/>
<rect x="1897" y="174" width="8" height="23" fill="#5a6abd"/>
<rect x="1905" y="174" width="8" height="23" fill="#5a6dbe"/>
<rect x="1913" y="174" width="8" height="23" fill="#5b66bb"/>
<rect x="1921" y="174" width="16" height="23" fill="#5b63ba"/>
<rect x="1937" y="174" width="8" height="23" fill="#5970c0"/>
<rect x="1945" y="174" width="8" height="23" fill="#5971c0"/>
<rect x="1953" y="174" width="7" height="23" fill="#596fbf"/>
<rect x="1960" y="174" width="16" height="23" fill="#596ebf"/>
<rect x="1976" y="174" width="8" height="23" fill="#5a69bc"/>
<rect x="1984" y="174" width="8" height="23" fill="#5a6dbe"/>
<rect x="1992" y="174" width="8" height="23" fill="#5b61b9"/>
<rect x="2000" y="174" width="8" height="23" fill="#5a67bc"/>
<rect x="2008" y="174" width="8" height="23" fill="#5b64ba"/>
<rect x="2016" y="174" width="8" height="23" fill="#596ebf"/>
<rect x="2024" y="174" width="8" height="23" fill="#5b65bb"/>
<rect x="2032" y="174" width="8" height="23" fill="#5a68bc"/>
<rect x="2040" y="174" width="8" height="23" fill="#5a6bbe"/>
<rect x="2048" y="174" width="8" height="23" fill="#5972c0"/>
<rect x="2056" y="174" width="8" height="23" fill="#5b63ba"/>
<rect x="2064" y="174" width="8" height="23" fill="#5b62ba"/>
<rect x="2072" y="174" width="8" height="23" fill="#596ebf"/>
<rect x="2080" y="174" width="8" height="23" fill="#5b61b9"/>
<rect x="2088" y="174" width="8" height="23" fill="#5a6cbe"/>
<rect x="2096" y="174" width="8" height="23" fill="#5b65bb"/>
<rect x="2104" y="174" width="8" height="23" fill="#5a68bc"/>
<rect x="2112" y="174" width="8" height="23" fill="#5c5cb7"/>
<rect x="2120" y="174" width="8" height="23" fill="#5a6dbe"/>
<rect x="2128" y="174" width="8" height="23" fill="#5b65bb"/>
<rect x="2136" y="174" width="8" height="23" fill="#5b62ba"/>
<rect x="2144" y="174" width="7" height="23" fill="#5877c3"/>
<rect x="2151" y="174" width="8" height="23" fill="#5a6dbe"/>
<rect x="2159" y="174" width="8" height="23" fill="#5784c9"/>
<rect x="1881" y="151" width="8" height="23" fill="#587cc5"/>
<rect x="1889" y="151" width="8" height="23" fill="#5c5fb8"/>
<rect x="1897" y="151" width="8" height="23" fill="#5b62ba"/>
<rect x="1905" y="151" width="8" height="23" fill="#5a6cbe"/>
<rect x="1913" y="151" width="8" height="23" fill="#5b61b9"/>
<rect x="1921" y="151" width="16" height="23" fill="#5b65bb"/>
<rect x="1937" y="151" width="8" height="23" fill="#5c5cb7"/>
<rect x="1945" y="151" width="8" height="23" fill="#5b62ba"/>
<rect x="1953" y="151" width="7" height="23" fill="#5c5eb8"/>
<rect x="1960" y="151" width="8" height="23" fill="#5b59b5"/>
<rect x="1968" y="151" width="8" height="23" fill="#5a67bc"/>
<rect x="1976" y="151" width="8" height="23" fill="#5b66bb"/>
<rect x="1984" y="151" width="8" height="23" fill="#5b62ba"/>
<rect x="1992" y="151" width="8" height="23" fill="#5c5cb7"/>
<rect x="2000" y="151" width="8" height="23" fill="#5a52b1"/>
<rect x="2008" y="151" width="8" height="23" fill="#5b65bb"/>
<rect x="2016" y="151" width="8" height="23" fill="#5b61b9"/>
<rect x="2024" y="151" width="8" height="23" fill="#5a55b3"/>
<rect x="2032" y="151" width="8" height="23" fill="#5b61b9"/>
<rect x="2040" y="151" width="8" height="23" fill="#5b56b4"/>
<rect x="2048" y="151" width="8" height="23" fill="#5b61b9"/>
<rect x="2056" y="151" width="8" height="23" fill="#5b63ba"/>
<rect x="2064" y="151" width="8" height="23" fill="#5b64ba"/>
<rect x="2072" y="151" width="16" height="23" fill="#5b63ba"/>
<rect x="2088" y="151" width="8" height="23" fill="#5b5ab6"/>
<rect x="2096" y="151" width="8" height="23" fill="#5c5fb8"/>
<rect x="2104" y="151" width="8" height="23" fill="#5c5eb8"/>
<rect x="2112" y="151" width="8" height="23" fill="#5b60b9"/>
<rect x="2120" y="151" width="8" height="23" fill="#5b63ba"/>
<rect x="2128" y="151" width="8" height="23" fill="#5b66bb"/>
<rect x="2136" y="151" width="8" height="23" fill="#5a6cbe"/>
<rect x="2144" y="151" width="7" height="23" fill="#594eae"/>
<rect x="2151" y="151" width="8" height="23" fill="#5b64bb"/>
<rect x="2159" y="151" width="8" height="23" fill="#5b60b9"/>
<rect x="1881" y="128" width="8" height="23" fill="#53acd4"/>
<rect x="1889" y="128" width="8" height="23" fill="#5a6cbe"/>
<rect x="1897" y="128" width="8" height="23" fill="#5c5ab6"/>
<rect x="1905" y="128" width="8" height="23" fill="#5a69bc"/>
<rect x="1913" y="128" width="8" height="23" fill="#5b62ba"/>
<rect x="1921" y="128" width="8" height="23" fill="#5a6cbe"/>
<rect x="1929" y="128" width="8" height="23" fill="#5c5fb8"/>
<rect x="1937" y="128" width="23" height="23" fill="#5b65bb"/>
<rect x="1960" y="128" width="8" height="23" fill="#5b62ba"/>
<rect x="1968" y="128" width="8" height="23" fill="#5b59b5"/>
<rect x="1976" y="128" width="8" height="23" fill="#5a69bd"/>
<rect x="1984" y="128" width="8" height="23" fill="#5a6dbe"/>
<rect x="1992" y="128" width="8" height="23" fill="#5b65bb"/>
<rect x="2000" y="128" width="8" height="23" fill="#5c5fb8"/>
<rect x="2008" y="128" width="8" height="23" fill="#5a67bc"/>
<rect x="2016" y="128" width="8" height="23" fill="#5a6abd"/>
<rect x="2024" y="128" width="8" height="23" fill="#5b65bb"/>
<rect x="2032" y="128" width="8" height="23" fill="#5b66bb"/>
<rect x="2040" y="128" width="8" height="23" fill="#596fbf"/>
<rect x="2048" y="128" width="8" height="23" fill="#5c5eb8"/>
<rect x="2056" y="128" width="8" height="23" fill="#5b62ba"/>
<rect x="2064" y="128" width="8" height="23" fill="#5b58b5"/>
<rect x="2072" y="128" width="16" height="23" fill="#5b61b9"/>
<rect x="2088" y="128" width="8" height="23" fill="#5c5fb8"/>
<rect x="2096" y="128" width="8" height="23" fill="#5b61b9"/>
<rect x="2104" y="128" width="8" height="23" fill="#5972c0"/>
<rect x="2112" y="128" width="8" height="23" fill="#5b64bb"/>
<rect x="2120" y="128" width="8" height="23" fill="#5b65bb"/>
<rect x="2128" y="128" width="8" height="23" fill="#5875c2"/>
<rect x="2136" y="128" width="8" height="23" fill="#5b65bb"/>
<rect x="2144" y="128" width="7" height="23" fill="#5b5ab6"/>
<rect x="2151" y="128" width="8" height="23" fill="#5a69bc"/>
<rect x="2159" y="128" width="8" height="23" fill="#5c5fb8"/>
</g>
<line x1="1647.1" y1="443.8" x2="1810.1" y2="129.0" stroke="#de2b1f" stroke-width="4.1" stroke-dasharray="17.5,7.4" stroke-dashoffset="3.7"/>
<rect x="1577.2" y="571.9" width="4.8" height="4.2" fill="#de2b1f" transform="rotate(-62.6 1579.6 574.0)"/>
<rect x="1588.7" y="549.7" width="4.8" height="4.2" fill="#de2b1f" transform="rotate(-62.6 1591.1 551.8)"/>
<rect x="1600.2" y="527.5" width="4.8" height="4.2" fill="#de2b1f" transform="rotate(-62.6 1602.6 529.6)"/>
<rect x="1611.7" y="505.3" width="4.8" height="4.2" fill="#de2b1f" transform="rotate(-62.6 1614.1 507.4)"/>
<rect x="1623.2" y="483.1" width="4.8" height="4.2" fill="#de2b1f" transform="rotate(-62.6 1625.6 485.2)"/>
<rect x="1634.7" y="460.9" width="4.8" height="4.2" fill="#de2b1f" transform="rotate(-62.6 1637.1 463.0)"/>
<text x="1734" y="232" font-size="41" fill="#fff" font-family='"Liberation Serif", serif' font-style="italic" transform="rotate(-62.6 1734 232)">y=2x</text>
<rect x="1572.4" y="129.3" width="285.7" height="458.7" fill="none" stroke="#262626" stroke-width="2.7"/>
<line x1="1561.9" y1="588.0" x2="1572.4" y2="588.0" stroke="#262626" stroke-width="2.4"/>
<line x1="1564.9" y1="511.55" x2="1572.4" y2="511.55" stroke="#262626" stroke-width="2.4"/>
<line x1="1561.9" y1="435.1" x2="1572.4" y2="435.1" stroke="#262626" stroke-width="2.4"/>
<line x1="1564.9" y1="358.65" x2="1572.4" y2="358.65" stroke="#262626" stroke-width="2.4"/>
<line x1="1561.9" y1="282.2" x2="1572.4" y2="282.2" stroke="#262626" stroke-width="2.4"/>
<line x1="1564.9" y1="205.75" x2="1572.4" y2="205.75" stroke="#262626" stroke-width="2.4"/>
<line x1="1561.9" y1="129.3" x2="1572.4" y2="129.3" stroke="#262626" stroke-width="2.4"/>
<line x1="1572.4" y1="588.0" x2="1572.4" y2="599.5" stroke="#262626" stroke-width="2.6"/>
<line x1="1651.0500000000002" y1="588.0" x2="1651.0500000000002" y2="596.5" stroke="#262626" stroke-width="2.6"/>
<line x1="1729.7" y1="588.0" x2="1729.7" y2="599.5" stroke="#262626" stroke-width="2.6"/>
<line x1="1808.3500000000001" y1="588.0" x2="1808.3500000000001" y2="596.5" stroke="#262626" stroke-width="2.6"/>
<text x="1574.1000000000001" y="624.2" font-size="24.5" text-anchor="middle">0</text>
<text x="1725.4" y="624.2" font-size="24.5" text-anchor="middle">0.2</text>
<rect x="1880.9" y="127.6" width="285.8" height="460.1" fill="none" stroke="#262626" stroke-width="2.7"/>
<line x1="1870.4" y1="587.7" x2="1880.9" y2="587.7" stroke="#262626" stroke-width="2.4"/>
<line x1="1873.4" y1="511.0166666666667" x2="1880.9" y2="511.0166666666667" stroke="#262626" stroke-width="2.4"/>
<line x1="1870.4" y1="434.33333333333337" x2="1880.9" y2="434.33333333333337" stroke="#262626" stroke-width="2.4"/>
<line x1="1873.4" y1="357.65" x2="1880.9" y2="357.65" stroke="#262626" stroke-width="2.4"/>
<line x1="1870.4" y1="280.9666666666667" x2="1880.9" y2="280.9666666666667" stroke="#262626" stroke-width="2.4"/>
<line x1="1873.4" y1="204.28333333333336" x2="1880.9" y2="204.28333333333336" stroke="#262626" stroke-width="2.4"/>
<line x1="1870.4" y1="127.59999999999997" x2="1880.9" y2="127.59999999999997" stroke="#262626" stroke-width="2.4"/>
<line x1="1880.9" y1="587.7" x2="1880.9" y2="599.2" stroke="#262626" stroke-width="2.6"/>
<line x1="1959.5500000000002" y1="587.7" x2="1959.5500000000002" y2="596.2" stroke="#262626" stroke-width="2.6"/>
<line x1="2038.2" y1="587.7" x2="2038.2" y2="599.2" stroke="#262626" stroke-width="2.6"/>
<line x1="2116.85" y1="587.7" x2="2116.85" y2="596.2" stroke="#262626" stroke-width="2.6"/>
<text x="1880.1000000000001" y="624.2" font-size="24.5" text-anchor="middle">0</text>
<text x="2035.7" y="624.2" font-size="24.5" text-anchor="middle">0.2</text>
<text x="1554" y="597.6" font-size="24.5" text-anchor="end">0</text>
<text x="1554" y="444.70000000000005" font-size="24.5" text-anchor="end">0.2</text>
<text x="1554" y="291.8" font-size="24.5" text-anchor="end">0.4</text>
<text x="1554" y="138.89999999999995" font-size="24.5" text-anchor="end">0.6</text>
<text x="1506" y="354.5" font-size="33.8" text-anchor="middle" transform="rotate(-90 1506 354.5)">bout duration, <tspan font-family='"Liberation Serif", serif' font-style="italic" font-size="35">T</tspan><tspan font-family='"Liberation Serif", serif' font-style="italic" font-size="20" dy="7">i</tspan><tspan dy="-7"> (s)</tspan></text>
<text x="1862.5" y="665.8" font-size="33.3" text-anchor="middle">beat timing difference, <tspan font-family='"Liberation Serif", serif' font-style="italic" font-size="35">τ</tspan> (s)</text>
<text x="1835.7" y="570" font-size="41.5" text-anchor="end" fill="#fff">2 real fish</text>
<text x="2153.5" y="570" font-size="41.6" text-anchor="end" fill="#fff">randomized</text>
</g>
</svg>
</body></html>
